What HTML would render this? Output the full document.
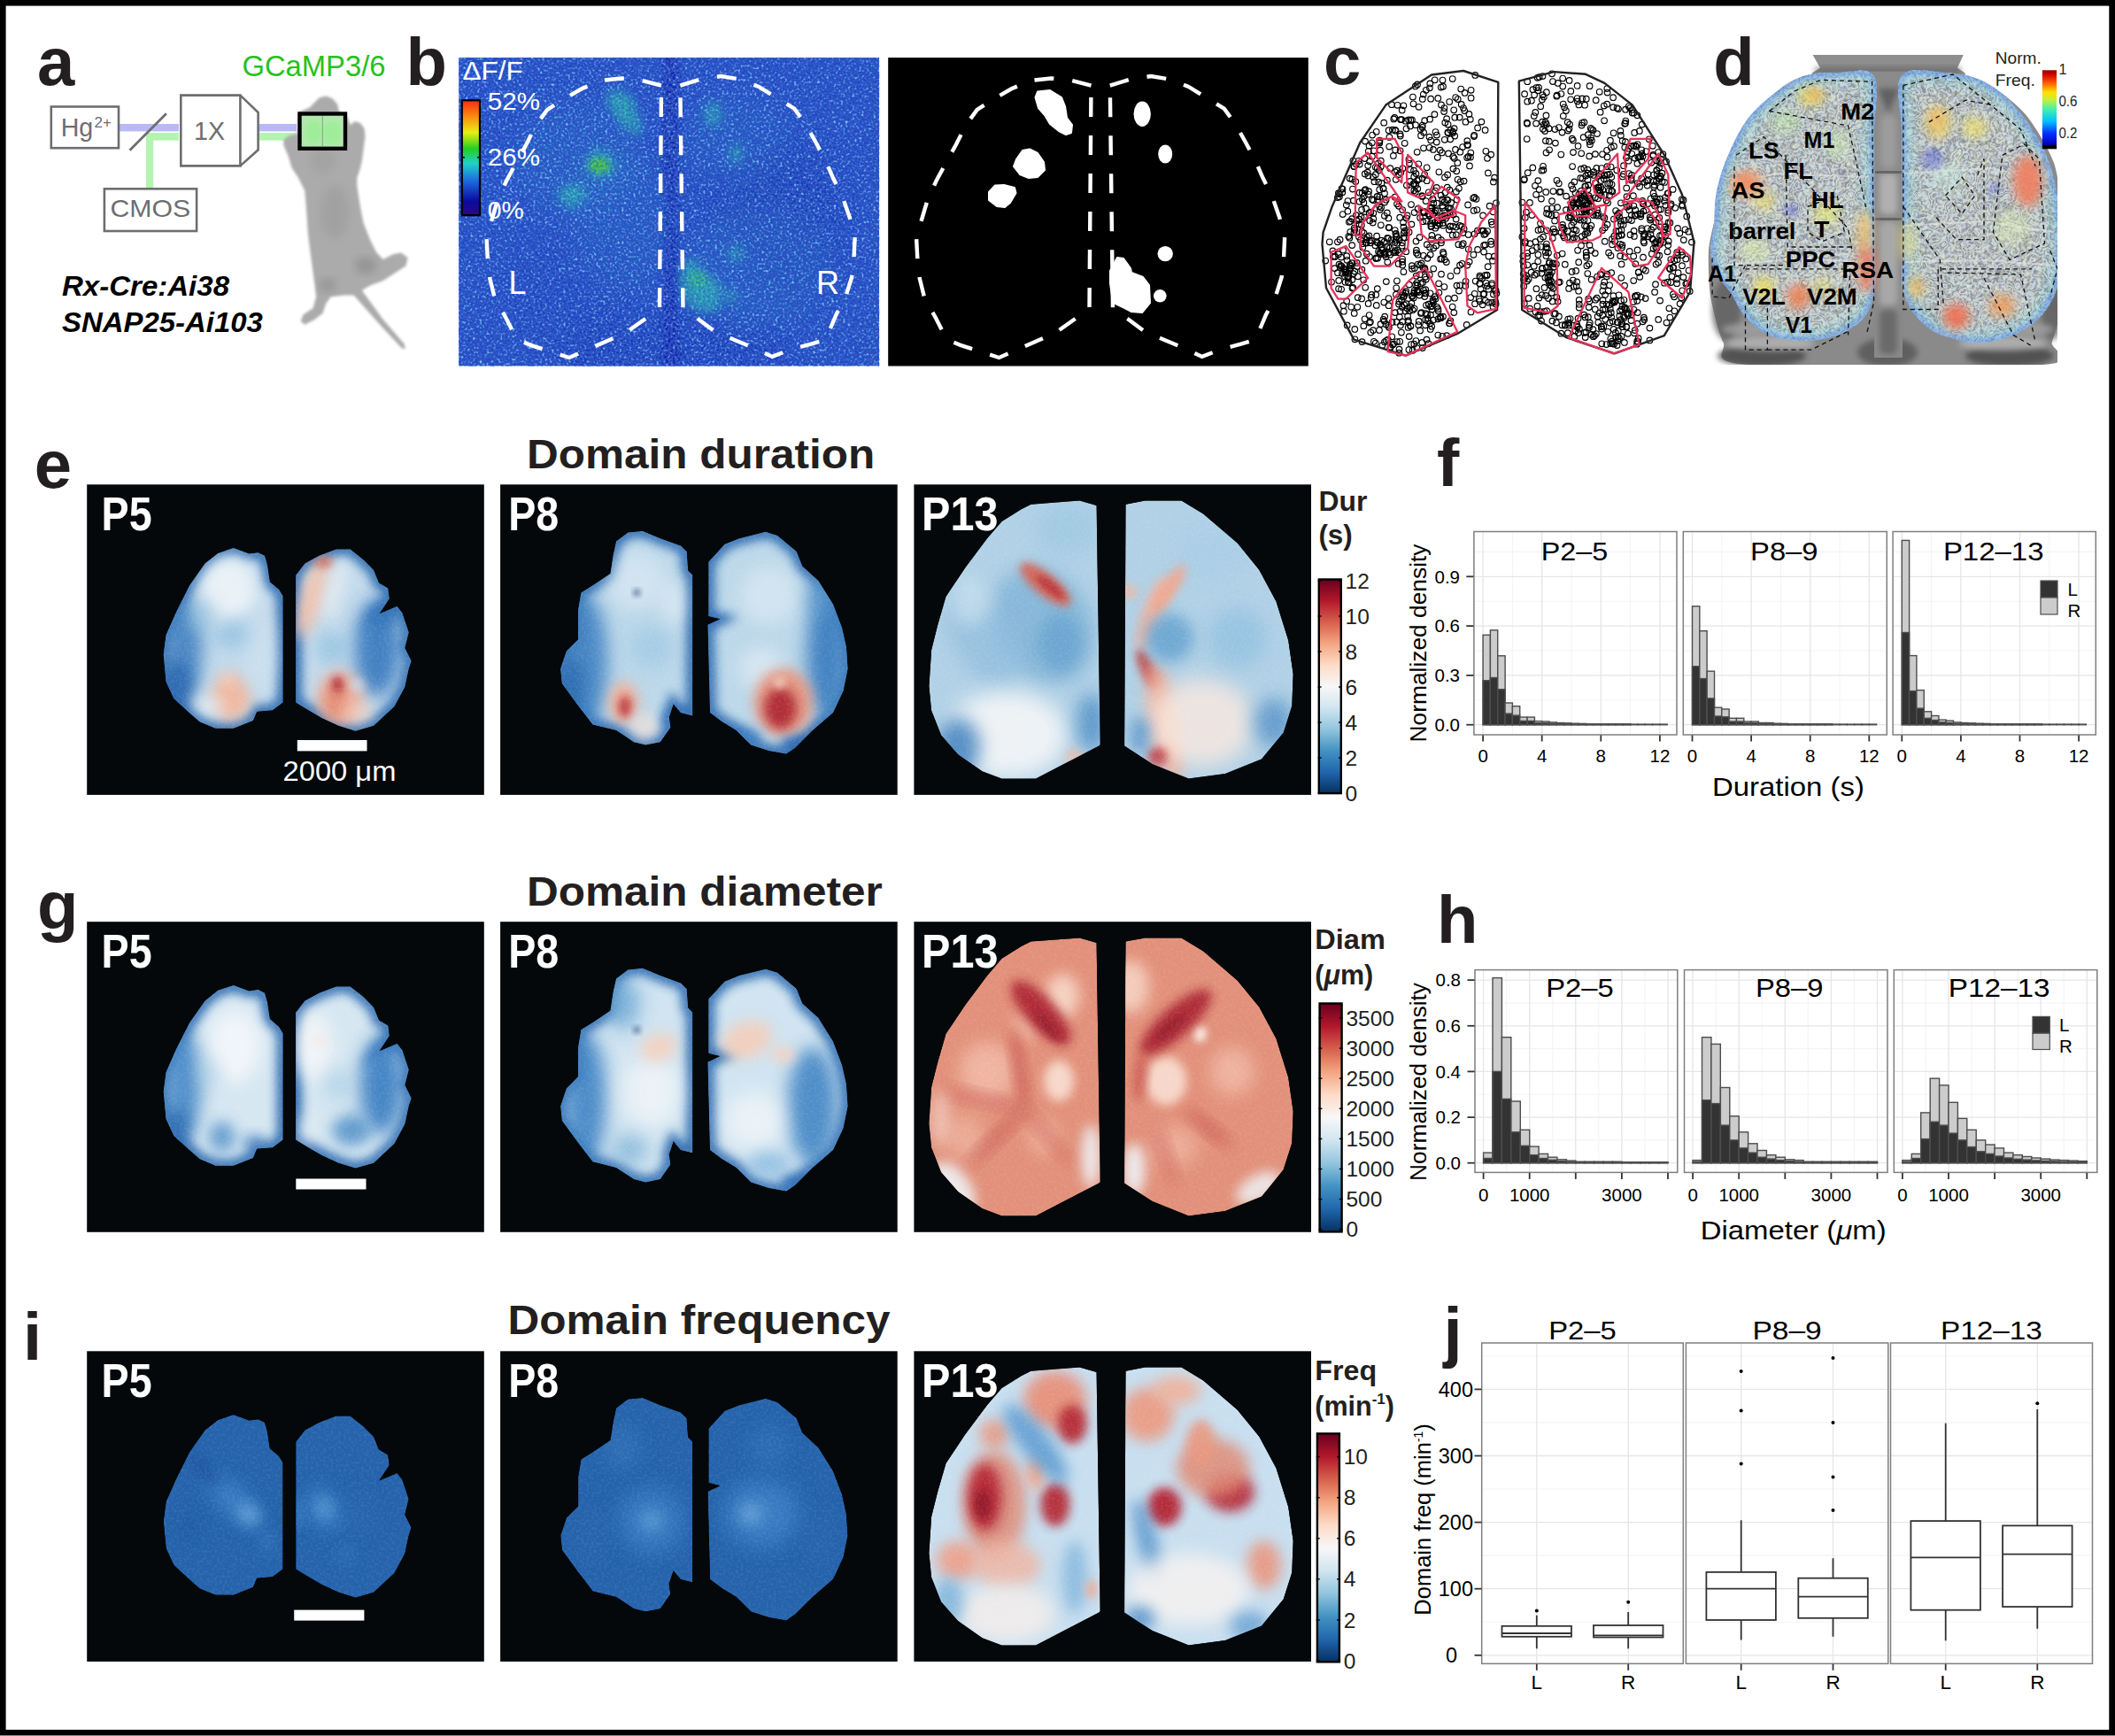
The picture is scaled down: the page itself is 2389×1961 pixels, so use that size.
<!DOCTYPE html>
<html><head><meta charset="utf-8"><style>
html,body{margin:0;padding:0;background:#fff;}
body{width:2389px;height:1961px;overflow:hidden;position:relative;}
svg{position:absolute;left:0;top:0;}
text{font-family:'Liberation Sans',sans-serif;}
</style></head><body>
<svg width="2389" height="1961" viewBox="0 0 2389 1961">
<defs>
<filter id="mblur" x="-20%" y="-20%" width="140%" height="140%"><feGaussianBlur stdDeviation="1.4"/></filter>
<filter id="mblur2" x="-20%" y="-20%" width="140%" height="140%"><feGaussianBlur stdDeviation="5"/></filter>
<clipPath id="cb1"><rect x="518.2" y="65.1" width="475" height="348.4"/></clipPath>
<filter id="nz1" x="0" y="0" width="100%" height="100%" filterUnits="userSpaceOnUse"><feTurbulence type="fractalNoise" baseFrequency="0.38" numOctaves="1" seed="7" result="t"/><feColorMatrix in="t" type="matrix" values="0 0 0 0 0.22  0 0 0 0 0.56  0 0 0 0 0.95  3.0 0 0 0 -1.35"/></filter>
<filter id="nz2" x="0" y="0" width="100%" height="100%" filterUnits="userSpaceOnUse"><feTurbulence type="fractalNoise" baseFrequency="0.38" numOctaves="1" seed="23" result="t"/><feColorMatrix in="t" type="matrix" values="0 0 0 0 0.03  0 0 0 0 0.08  0 0 0 0 0.55  3.4 0 0 0 -1.35"/></filter>
<filter id="gb6" x="-50%" y="-50%" width="200%" height="200%"><feGaussianBlur stdDeviation="6"/></filter>
<filter id="gb12" x="-50%" y="-50%" width="200%" height="200%"><feGaussianBlur stdDeviation="12"/></filter>
<linearGradient id="jet" x1="0" y1="1" x2="0" y2="0"><stop offset="0" stop-color="#2a0a78"/><stop offset="0.12" stop-color="#0a0aa0"/><stop offset="0.3" stop-color="#1e6ae0"/><stop offset="0.45" stop-color="#1ed2c8"/><stop offset="0.58" stop-color="#22d020"/><stop offset="0.72" stop-color="#e8f010"/><stop offset="0.86" stop-color="#fa8a10"/><stop offset="1" stop-color="#fa2a10"/></linearGradient>
<filter id="gb3" x="-50%" y="-50%" width="200%" height="200%"><feGaussianBlur stdDeviation="3"/></filter>
<filter id="gb8" x="-50%" y="-50%" width="200%" height="200%"><feGaussianBlur stdDeviation="8"/></filter>
<filter id="gb14" x="-50%" y="-50%" width="200%" height="200%"><feGaussianBlur stdDeviation="14"/></filter>
<filter id="contour" x="1928" y="60" width="400" height="360" filterUnits="userSpaceOnUse"><feTurbulence type="fractalNoise" baseFrequency="0.06" numOctaves="3" seed="5"/><feComponentTransfer><feFuncR type="table" tableValues="0 1 0 1 0 1 0 1 0 1 0 1 0"/></feComponentTransfer><feColorMatrix type="matrix" values="0 0 0 0 0.75  0 0 0 0 0.95  0 0 0 0 0.95  1.2 0 0 0 -0.2"/></filter>
<filter id="contour2" x="1928" y="60" width="400" height="360" filterUnits="userSpaceOnUse"><feTurbulence type="fractalNoise" baseFrequency="0.045" numOctaves="3" seed="9"/><feComponentTransfer><feFuncR type="table" tableValues="0 1 0 1 0 1 0 1 0 1 0 1 0 1 0"/></feComponentTransfer><feColorMatrix type="matrix" values="0 0 0 0 0.95  0 0 0 0 0.95  0 0 0 0 0.6  1.2 0 0 0 -0.3"/></filter>
<filter id="contour3" x="1928" y="60" width="400" height="360" filterUnits="userSpaceOnUse"><feTurbulence type="fractalNoise" baseFrequency="0.07" numOctaves="2" seed="17"/><feComponentTransfer><feFuncR type="table" tableValues="0 1 0 1 0 1 0 1 0 1 0 1 0 1 0 1 0"/></feComponentTransfer><feColorMatrix type="matrix" values="0 0 0 0 0.6  0 0 0 0 0.62  0 0 0 0 1  1.2 0 0 0 -0.3"/></filter>
<clipPath id="cdl"><path d="M2116.6,86.1 C2124.2,98.0 2116.9,124.1 2117.0,148.3 C2117.2,172.6 2117.2,196.6 2117.2,220.9 C2117.3,245.2 2117.4,264.4 2117.5,283.1 C2117.5,301.8 2119.7,311.1 2117.7,324.6 C2115.6,338.0 2113.9,348.0 2106.3,357.7 C2098.6,367.5 2087.5,373.6 2075.2,378.5 C2062.8,383.3 2051.6,384.7 2037.8,384.7 C2024.0,384.7 2010.4,383.3 1998.4,378.5 C1986.5,373.6 1979.3,366.3 1971.5,357.7 C1963.6,349.2 1960.9,339.7 1954.9,330.8 C1948.9,321.8 1942.4,316.6 1938.3,308.0 C1934.2,299.4 1932.4,293.2 1932.1,283.1 C1931.7,273.0 1935.1,263.2 1936.2,252.0 C1937.3,240.8 1936.1,233.2 1938.3,220.9 C1940.5,208.6 1942.7,198.5 1948.7,183.6 C1954.6,168.6 1961.8,151.8 1971.5,137.9 C1981.2,124.1 1990.6,116.2 2002.6,106.8 C2014.5,97.5 2024.8,90.6 2037.8,86.1 C2050.9,81.6 2061.0,82.0 2075.2,82.0 C2089.3,82.0 2109.1,74.2 2116.6,86.1 Z"/></clipPath>
<clipPath id="cdr"><path d="M2147.7,86.1 C2156.2,74.2 2178.6,80.8 2195.4,82.0 C2212.2,83.1 2226.1,84.9 2241.0,92.3 C2256.0,99.8 2266.0,109.2 2278.4,123.4 C2290.7,137.6 2301.3,153.6 2309.5,171.1 C2317.7,188.7 2320.6,204.5 2324.0,220.9 C2327.3,237.3 2327.8,245.6 2328.1,262.4 C2328.5,279.2 2329.0,298.5 2326.1,314.2 C2323.1,329.9 2319.4,338.6 2311.5,349.5 C2303.7,360.3 2295.2,367.6 2282.5,374.3 C2269.8,381.1 2256.0,385.7 2241.0,386.8 C2226.1,387.9 2212.6,385.0 2199.6,380.6 C2186.5,376.1 2177.4,371.2 2168.5,361.9 C2159.5,352.6 2153.2,342.9 2149.8,328.7 C2146.4,314.5 2149.6,302.5 2149.4,283.1 C2149.2,263.7 2149.0,245.2 2148.8,220.9 C2148.5,196.6 2148.3,172.6 2148.1,148.3 C2148.0,124.1 2139.2,98.0 2147.7,86.1 Z"/></clipPath>
<clipPath id="cdall"><rect x="1928" y="60" width="396" height="352"/></clipPath>
<linearGradient id="jetd" x1="0" y1="1" x2="0" y2="0"><stop offset="0" stop-color="#000"/><stop offset="0.04" stop-color="#000"/><stop offset="0.06" stop-color="#0000c0"/><stop offset="0.2" stop-color="#0030ff"/><stop offset="0.35" stop-color="#00c0ff"/><stop offset="0.5" stop-color="#40f0b0"/><stop offset="0.62" stop-color="#c0f040"/><stop offset="0.72" stop-color="#ffe000"/><stop offset="0.85" stop-color="#ff5000"/><stop offset="0.95" stop-color="#d00000"/><stop offset="1" stop-color="#900000"/></linearGradient>
<filter id="bl2" x="-60%" y="-60%" width="220%" height="220%"><feGaussianBlur stdDeviation="2"/></filter>
<filter id="bl3" x="-60%" y="-60%" width="220%" height="220%"><feGaussianBlur stdDeviation="3"/></filter>
<filter id="bl4" x="-60%" y="-60%" width="220%" height="220%"><feGaussianBlur stdDeviation="4"/></filter>
<filter id="bl5" x="-60%" y="-60%" width="220%" height="220%"><feGaussianBlur stdDeviation="5"/></filter>
<filter id="bl6" x="-60%" y="-60%" width="220%" height="220%"><feGaussianBlur stdDeviation="6"/></filter>
<filter id="bl7" x="-60%" y="-60%" width="220%" height="220%"><feGaussianBlur stdDeviation="7"/></filter>
<filter id="bl8" x="-60%" y="-60%" width="220%" height="220%"><feGaussianBlur stdDeviation="8"/></filter>
<filter id="bl9" x="-60%" y="-60%" width="220%" height="220%"><feGaussianBlur stdDeviation="9"/></filter>
<filter id="bl10" x="-60%" y="-60%" width="220%" height="220%"><feGaussianBlur stdDeviation="10"/></filter>
<filter id="bl11" x="-60%" y="-60%" width="220%" height="220%"><feGaussianBlur stdDeviation="11"/></filter>
<filter id="bl12" x="-60%" y="-60%" width="220%" height="220%"><feGaussianBlur stdDeviation="12"/></filter>
<filter id="bl13" x="-60%" y="-60%" width="220%" height="220%"><feGaussianBlur stdDeviation="13"/></filter>
<filter id="bl14" x="-60%" y="-60%" width="220%" height="220%"><feGaussianBlur stdDeviation="14"/></filter>
<filter id="bl15" x="-60%" y="-60%" width="220%" height="220%"><feGaussianBlur stdDeviation="15"/></filter>
<filter id="bl16" x="-60%" y="-60%" width="220%" height="220%"><feGaussianBlur stdDeviation="16"/></filter>
<filter id="tex" x="0" y="0" width="100%" height="100%"><feTurbulence type="fractalNoise" baseFrequency="0.35" numOctaves="1" seed="11"/><feColorMatrix type="matrix" values="0 0 0 0 1  0 0 0 0 1  0 0 0 0 1  0 0 0 3 -1.2"/></filter>
<clipPath id="e5"><path d="M263.8,619.1 L281.4,625.6 L291.6,624.2 L299.0,627.8 L301.9,638.1 L304.8,657.2 L315.1,666.0 L319.5,673.3 L319.5,793.5 L307.8,802.3 L290.2,803.7 L285.8,814.0 L263.8,822.8 L243.3,822.8 L225.7,815.4 L214.0,805.2 L196.4,789.1 L187.6,770.0 L184.7,739.2 L187.6,717.3 L199.3,690.9 L214.0,661.6 L231.6,636.6 L246.2,624.9 Z M334.2,649.8 L344.4,636.6 L360.5,627.8 L379.6,620.5 L395.7,620.5 L410.4,632.2 L422.1,644.0 L428.0,658.6 L438.2,664.5 L439.7,676.2 L428.0,693.8 L448.5,685.0 L454.3,692.3 L461.7,714.3 L457.3,731.9 L464.6,746.6 L461.7,755.4 L457.3,775.9 L445.5,797.9 L422.1,819.8 L401.6,825.7 L382.5,819.8 L363.5,811.1 L345.9,800.8 L334.2,793.5 Z"/></clipPath>
<clipPath id="e8"><path d="M709.4,601.6 L725.9,599.9 L745.8,608.2 L768.9,616.5 L775.6,623.1 L777.2,644.6 L782.2,649.6 L782.2,808.4 L768.9,805.1 L760.7,795.2 L755.7,810.1 L757.3,821.7 L745.8,838.2 L729.2,841.5 L716.0,838.2 L706.0,831.6 L696.1,825.0 L669.6,818.4 L653.1,796.9 L634.9,772.0 L633.2,755.5 L639.9,735.6 L653.1,722.4 L653.1,689.3 L656.4,669.4 L669.6,661.2 L689.5,647.9 L692.8,626.4 L696.1,611.5 Z M800.4,634.7 L818.6,614.8 L835.1,608.2 L864.9,600.8 L878.1,604.9 L899.7,623.1 L906.3,639.6 L924.5,656.2 L941.0,682.7 L951.0,709.1 L955.9,730.7 L957.6,755.5 L952.6,780.3 L941.0,805.1 L917.9,825.0 L898.0,844.8 L888.1,851.5 L868.2,848.1 L848.4,841.5 L831.8,825.0 L815.3,815.1 L802.0,805.1 L799.5,705.8 L813.6,699.2 L800.4,695.9 Z"/></clipPath>
<clipPath id="e13"><path d="M1164.5,569.7 L1219.4,565.6 L1238.6,571.1 L1242.7,841.1 L1241.3,842.5 L1170.0,879.5 L1131.6,879.5 L1109.7,871.3 L1082.3,852.1 L1063.1,830.2 L1052.1,802.7 L1049.4,775.3 L1052.1,734.2 L1059.0,706.8 L1068.5,673.9 L1090.5,641.0 L1115.2,608.1 L1131.6,588.9 L1153.6,575.2 Z M1271.5,569.7 L1293.4,565.6 L1334.5,565.6 L1359.2,580.6 L1397.6,613.6 L1422.3,643.7 L1441.5,679.4 L1455.2,723.2 L1460.7,761.6 L1459.3,797.3 L1449.7,827.4 L1425.0,857.6 L1383.9,874.0 L1342.7,879.5 L1301.6,863.1 L1270.1,842.5 Z"/></clipPath>
<clipPath id="g5"><path d="M263.8,1113.0 L281.4,1119.5 L291.6,1118.1 L299.0,1121.7 L301.9,1132.0 L304.8,1151.1 L315.1,1159.9 L319.5,1167.2 L319.5,1287.4 L307.8,1296.2 L290.2,1297.6 L285.8,1307.9 L263.8,1316.7 L243.3,1316.7 L225.7,1309.3 L214.0,1299.1 L196.4,1283.0 L187.6,1263.9 L184.7,1233.1 L187.6,1211.2 L199.3,1184.8 L214.0,1155.5 L231.6,1130.5 L246.2,1118.8 Z M334.2,1143.7 L344.4,1130.5 L360.5,1121.7 L379.6,1114.4 L395.7,1114.4 L410.4,1126.1 L422.1,1137.9 L428.0,1152.5 L438.2,1158.4 L439.7,1170.1 L428.0,1187.7 L448.5,1178.9 L454.3,1186.2 L461.7,1208.2 L457.3,1225.8 L464.6,1240.5 L461.7,1249.3 L457.3,1269.8 L445.5,1291.8 L422.1,1313.7 L401.6,1319.6 L382.5,1313.7 L363.5,1305.0 L345.9,1294.7 L334.2,1287.4 Z"/></clipPath>
<clipPath id="g8"><path d="M709.4,1095.5 L725.9,1093.8 L745.8,1102.1 L768.9,1110.4 L775.6,1117.0 L777.2,1138.5 L782.2,1143.5 L782.2,1302.3 L768.9,1299.0 L760.7,1289.1 L755.7,1304.0 L757.3,1315.6 L745.8,1332.1 L729.2,1335.4 L716.0,1332.1 L706.0,1325.5 L696.1,1318.9 L669.6,1312.3 L653.1,1290.8 L634.9,1265.9 L633.2,1249.4 L639.9,1229.5 L653.1,1216.3 L653.1,1183.2 L656.4,1163.3 L669.6,1155.1 L689.5,1141.8 L692.8,1120.3 L696.1,1105.4 Z M800.4,1128.6 L818.6,1108.7 L835.1,1102.1 L864.9,1094.7 L878.1,1098.8 L899.7,1117.0 L906.3,1133.5 L924.5,1150.1 L941.0,1176.6 L951.0,1203.0 L955.9,1224.6 L957.6,1249.4 L952.6,1274.2 L941.0,1299.0 L917.9,1318.9 L898.0,1338.7 L888.1,1345.4 L868.2,1342.0 L848.4,1335.4 L831.8,1318.9 L815.3,1309.0 L802.0,1299.0 L799.5,1199.7 L813.6,1193.1 L800.4,1189.8 Z"/></clipPath>
<clipPath id="g13"><path d="M1164.5,1063.6 L1219.4,1059.5 L1238.6,1065.0 L1242.7,1335.0 L1241.3,1336.4 L1170.0,1373.4 L1131.6,1373.4 L1109.7,1365.2 L1082.3,1346.0 L1063.1,1324.1 L1052.1,1296.6 L1049.4,1269.2 L1052.1,1228.1 L1059.0,1200.7 L1068.5,1167.8 L1090.5,1134.9 L1115.2,1102.0 L1131.6,1082.8 L1153.6,1069.1 Z M1271.5,1063.6 L1293.4,1059.5 L1334.5,1059.5 L1359.2,1074.5 L1397.6,1107.5 L1422.3,1137.6 L1441.5,1173.3 L1455.2,1217.1 L1460.7,1255.5 L1459.3,1291.2 L1449.7,1321.3 L1425.0,1351.5 L1383.9,1367.9 L1342.7,1373.4 L1301.6,1357.0 L1270.1,1336.4 Z"/></clipPath>
<clipPath id="i5"><path d="M263.8,1598.1 L281.4,1604.6 L291.6,1603.2 L299.0,1606.8 L301.9,1617.1 L304.8,1636.2 L315.1,1645.0 L319.5,1652.3 L319.5,1772.5 L307.8,1781.3 L290.2,1782.7 L285.8,1793.0 L263.8,1801.8 L243.3,1801.8 L225.7,1794.4 L214.0,1784.2 L196.4,1768.1 L187.6,1749.0 L184.7,1718.2 L187.6,1696.3 L199.3,1669.9 L214.0,1640.6 L231.6,1615.6 L246.2,1603.9 Z M334.2,1628.8 L344.4,1615.6 L360.5,1606.8 L379.6,1599.5 L395.7,1599.5 L410.4,1611.2 L422.1,1623.0 L428.0,1637.6 L438.2,1643.5 L439.7,1655.2 L428.0,1672.8 L448.5,1664.0 L454.3,1671.3 L461.7,1693.3 L457.3,1710.9 L464.6,1725.6 L461.7,1734.4 L457.3,1754.9 L445.5,1776.9 L422.1,1798.8 L401.6,1804.7 L382.5,1798.8 L363.5,1790.1 L345.9,1779.8 L334.2,1772.5 Z"/></clipPath>
<clipPath id="i8"><path d="M709.4,1580.6 L725.9,1578.9 L745.8,1587.2 L768.9,1595.5 L775.6,1602.1 L777.2,1623.6 L782.2,1628.6 L782.2,1787.4 L768.9,1784.1 L760.7,1774.2 L755.7,1789.1 L757.3,1800.7 L745.8,1817.2 L729.2,1820.5 L716.0,1817.2 L706.0,1810.6 L696.1,1804.0 L669.6,1797.4 L653.1,1775.9 L634.9,1751.0 L633.2,1734.5 L639.9,1714.6 L653.1,1701.4 L653.1,1668.3 L656.4,1648.4 L669.6,1640.2 L689.5,1626.9 L692.8,1605.4 L696.1,1590.5 Z M800.4,1613.7 L818.6,1593.8 L835.1,1587.2 L864.9,1579.8 L878.1,1583.9 L899.7,1602.1 L906.3,1618.6 L924.5,1635.2 L941.0,1661.7 L951.0,1688.1 L955.9,1709.7 L957.6,1734.5 L952.6,1759.3 L941.0,1784.1 L917.9,1804.0 L898.0,1823.8 L888.1,1830.5 L868.2,1827.1 L848.4,1820.5 L831.8,1804.0 L815.3,1794.1 L802.0,1784.1 L799.5,1684.8 L813.6,1678.2 L800.4,1674.9 Z"/></clipPath>
<clipPath id="i13"><path d="M1164.5,1548.7 L1219.4,1544.6 L1238.6,1550.1 L1242.7,1820.1 L1241.3,1821.5 L1170.0,1858.5 L1131.6,1858.5 L1109.7,1850.3 L1082.3,1831.1 L1063.1,1809.2 L1052.1,1781.7 L1049.4,1754.3 L1052.1,1713.2 L1059.0,1685.8 L1068.5,1652.9 L1090.5,1620.0 L1115.2,1587.1 L1131.6,1567.9 L1153.6,1554.2 Z M1271.5,1548.7 L1293.4,1544.6 L1334.5,1544.6 L1359.2,1559.6 L1397.6,1592.6 L1422.3,1622.7 L1441.5,1658.4 L1455.2,1702.2 L1460.7,1740.6 L1459.3,1776.3 L1449.7,1806.4 L1425.0,1836.6 L1383.9,1853.0 L1342.7,1858.5 L1301.6,1842.1 L1270.1,1821.5 Z"/></clipPath>
<linearGradient id="cbe" x1="0" y1="1" x2="0" y2="0"><stop offset="0.000" stop-color="#053061"/><stop offset="0.100" stop-color="#2166ac"/><stop offset="0.200" stop-color="#4393c3"/><stop offset="0.300" stop-color="#92c5de"/><stop offset="0.400" stop-color="#d1e5f0"/><stop offset="0.500" stop-color="#f7f7f7"/><stop offset="0.600" stop-color="#fddbc7"/><stop offset="0.700" stop-color="#f4a582"/><stop offset="0.800" stop-color="#d6604d"/><stop offset="0.900" stop-color="#b2182b"/><stop offset="1.000" stop-color="#67001f"/></linearGradient>
<linearGradient id="cbg" x1="0" y1="1" x2="0" y2="0"><stop offset="0.000" stop-color="#053061"/><stop offset="0.100" stop-color="#2166ac"/><stop offset="0.200" stop-color="#4393c3"/><stop offset="0.300" stop-color="#92c5de"/><stop offset="0.400" stop-color="#d1e5f0"/><stop offset="0.500" stop-color="#f7f7f7"/><stop offset="0.600" stop-color="#fddbc7"/><stop offset="0.700" stop-color="#f4a582"/><stop offset="0.800" stop-color="#d6604d"/><stop offset="0.900" stop-color="#b2182b"/><stop offset="1.000" stop-color="#67001f"/></linearGradient>
<linearGradient id="cbi" x1="0" y1="1" x2="0" y2="0"><stop offset="0.000" stop-color="#053061"/><stop offset="0.100" stop-color="#2166ac"/><stop offset="0.200" stop-color="#4393c3"/><stop offset="0.300" stop-color="#92c5de"/><stop offset="0.400" stop-color="#d1e5f0"/><stop offset="0.500" stop-color="#f7f7f7"/><stop offset="0.600" stop-color="#fddbc7"/><stop offset="0.700" stop-color="#f4a582"/><stop offset="0.800" stop-color="#d6604d"/><stop offset="0.900" stop-color="#b2182b"/><stop offset="1.000" stop-color="#67001f"/></linearGradient>
</defs>
<rect x="0" y="0" width="2389" height="6.6" fill="#000"/>
<rect x="0" y="0" width="6.6" height="1961" fill="#000"/>
<rect x="2382.3" y="0" width="6.7" height="1961" fill="#000"/>
<rect x="0" y="1953.9" width="2389" height="6.1" fill="#000"/>
<rect x="0" y="1960" width="2389" height="1" fill="#8a8a8a"/>
<text x="42.0" y="95.9" font-size="76" font-weight="bold" font-style="normal" fill="#231f20" text-anchor="start" >a</text>
<text x="458.4" y="95.9" font-size="76" font-weight="bold" font-style="normal" fill="#231f20" text-anchor="start" >b</text>
<text x="1495.0" y="95.0" font-size="76" font-weight="bold" font-style="normal" fill="#231f20" text-anchor="start" >c</text>
<text x="1935.2" y="95.5" font-size="76" font-weight="bold" font-style="normal" fill="#231f20" text-anchor="start" >d</text>
<text x="38.8" y="551.0" font-size="76" font-weight="bold" font-style="normal" fill="#231f20" text-anchor="start" >e</text>
<text x="1623.0" y="549.0" font-size="76" font-weight="bold" font-style="normal" fill="#231f20" text-anchor="start" >f</text>
<text x="42.0" y="1049.0" font-size="76" font-weight="bold" font-style="normal" fill="#231f20" text-anchor="start" >g</text>
<text x="1622.9" y="1065.0" font-size="76" font-weight="bold" font-style="normal" fill="#231f20" text-anchor="start" >h</text>
<text x="26.0" y="1535.6" font-size="76" font-weight="bold" font-style="normal" fill="#231f20" text-anchor="start" >i</text>
<text x="1630.6" y="1530.0" font-size="76" font-weight="bold" font-style="normal" fill="#231f20" text-anchor="start" >j</text>
<rect x="135" y="140" width="67" height="8.4" fill="#b9b9f7"/>
<rect x="293" y="140" width="42" height="8.4" fill="#b9b9f7"/>
<rect x="166" y="150" width="36" height="8.6" fill="#b4f4b0"/>
<rect x="165" y="151" width="8.2" height="61" fill="#b4f4b0"/>
<rect x="293" y="150" width="42" height="8.6" fill="#b4f4b0"/>
<path d="M355.3,115.8 L360.9,110.3 L368.2,108.4 L375.6,111.2 L381.2,117.7 L383.0,126.0 L392.2,132.4 L395.9,141.6 L400.5,137.0 L407.0,138.9 L411.6,145.3 L412.5,154.6 L410.7,167.5 L408.8,182.2 L406.0,193.3 L403.3,200.7 L403.3,209.9 L407.0,233.9 L410.7,252.3 L418.0,270.7 L425.4,285.5 L432.8,292.9 L443.9,287.3 L453.1,285.5 L460.5,291.0 L458.6,300.3 L447.5,307.6 L432.8,316.9 L418.0,322.4 L408.8,327.9 L432.8,361.1 L456.8,388.8 L457.7,394.3 L454.0,393.4 L429.1,366.7 L399.6,333.5 L388.5,333.5 L373.8,335.3 L368.2,342.7 L364.6,353.7 L355.3,361.1 L344.3,366.7 L339.7,363.0 L342.4,355.6 L353.5,348.2 L357.2,335.3 L355.3,320.5 L351.6,292.9 L348.0,265.2 L346.1,237.5 L344.3,215.4 L336.9,200.7 L329.5,189.6 L325.8,176.7 L320.3,163.8 L320.3,158.2 L325.8,153.6 L336.0,150.9 L336.9,126.9 L349.8,121.4 Z" fill="#ababab" filter="url(#mblur)"/>
<ellipse cx="413" cy="300" rx="12" ry="10" fill="#6e6e6e" opacity="0.35" filter="url(#mblur2)"/>
<ellipse cx="370" cy="322" rx="10" ry="8" fill="#6e6e6e" opacity="0.3" filter="url(#mblur2)"/>
<ellipse cx="378" cy="240" rx="16" ry="30" fill="#6e6e6e" opacity="0.15" filter="url(#mblur2)"/>
<ellipse cx="365" cy="180" rx="14" ry="16" fill="#6e6e6e" opacity="0.12" filter="url(#mblur2)"/>
<rect x="57.8" y="120.5" width="76.2" height="46.7" fill="none" stroke="#6d6e71" stroke-width="2.6"/>
<rect x="117.9" y="213.3" width="104.2" height="47.7" fill="none" stroke="#6d6e71" stroke-width="2.6"/>
<path d="M204.3,107.6 L271.4,107.6 L271.4,187.4 L204.3,187.4 Z M271.4,107.6 L291.6,127 L291.6,169.3 L271.4,187.4" fill="#fff" stroke="#6d6e71" stroke-width="2.6" stroke-linejoin="miter"/>
<line x1="146.5" y1="169.8" x2="187.9" y2="128.3" stroke="#6d6e71" stroke-width="2.8"/>
<text x="68.7" y="154.2" font-size="28.6" font-weight="normal" font-style="normal" fill="#6d6e71" text-anchor="start" >Hg</text>
<text x="106.5" y="143.9" font-size="17" font-weight="normal" font-style="normal" fill="#6d6e71" text-anchor="start" >2+</text>
<text x="219.0" y="158.1" font-size="28.6" font-weight="normal" font-style="normal" fill="#6d6e71" text-anchor="start" textLength="35.0" lengthAdjust="spacingAndGlyphs" >1X</text>
<text x="124.4" y="245.0" font-size="28" font-weight="normal" font-style="normal" fill="#6d6e71" text-anchor="start" textLength="90.7" lengthAdjust="spacingAndGlyphs" >CMOS</text>
<rect x="338.5" y="128.5" width="51.5" height="39.3" fill="#b2e8ae"/>
<ellipse cx="354" cy="149" rx="10" ry="13" fill="#98f092" opacity="0.7" filter="url(#mblur)"/><ellipse cx="375" cy="150" rx="10" ry="13" fill="#98f092" opacity="0.7" filter="url(#mblur)"/>
<line x1="364.3" y1="131" x2="364.3" y2="165" stroke="#6a9a66" stroke-width="0.8"/>
<rect x="338.5" y="128.5" width="51.5" height="39.3" fill="none" stroke="#000" stroke-width="4.4"/>
<text x="273.5" y="85.5" font-size="34" font-weight="normal" font-style="normal" fill="#27c21c" text-anchor="start" textLength="162.0" lengthAdjust="spacingAndGlyphs" >GCaMP3/6</text>
<text x="70.0" y="334.4" font-size="30.5" font-weight="bold" font-style="italic" fill="#000" text-anchor="start" textLength="189.0" lengthAdjust="spacingAndGlyphs" >Rx-Cre:Ai38</text>
<text x="70.0" y="374.5" font-size="30.5" font-weight="bold" font-style="italic" fill="#000" text-anchor="start" textLength="226.8" lengthAdjust="spacingAndGlyphs" >SNAP25-Ai103</text>
<g clip-path="url(#cb1)">
<rect x="518.2" y="65.1" width="475" height="348.4" fill="#1c4cc4"/>
<ellipse cx="760" cy="400" rx="140" ry="40" fill="#1030b0" opacity="0.5" filter="url(#gb12)"/>
<ellipse cx="900" cy="250" rx="60" ry="90" fill="#1030b0" opacity="0.35" filter="url(#gb12)"/>
<ellipse cx="640" cy="330" rx="70" ry="60" fill="#1438b8" opacity="0.3" filter="url(#gb12)"/>
<rect x="749" y="65" width="18" height="348" fill="#0c20a8" opacity="0.85" filter="url(#gb3)"/>
<ellipse cx="860" cy="230" rx="70" ry="60" fill="#1838b0" opacity="0.35" filter="url(#gb12)"/>
<ellipse cx="650" cy="180" rx="70" ry="60" fill="#2aa8c8" opacity="0.25" filter="url(#gb12)"/>
<ellipse cx="860" cy="300" rx="80" ry="70" fill="#2aa8c8" opacity="0.22" filter="url(#gb12)"/>
<ellipse cx="700" cy="250" rx="60" ry="80" fill="#2aa8c8" opacity="0.2" filter="url(#gb12)"/>
<ellipse cx="830" cy="160" rx="60" ry="50" fill="#2aa8c8" opacity="0.18" filter="url(#gb12)"/>
<rect x="518.2" y="65.1" width="475" height="348.4" filter="url(#nz1)"/>
<rect x="518.2" y="65.1" width="475" height="348.4" filter="url(#nz2)"/>
<path d="M687.0,103.5 L701.0,102.0 L714.0,110.0 L718.0,120.0 L720.0,133.0 L726.0,141.0 L725.0,150.0 L719.0,152.0 L711.0,148.0 L701.0,140.0 L695.0,130.0 L688.0,122.0 L684.5,110.0 Z" fill="#30c8b0" opacity="0.7" filter="url(#gb6)"/>
<path d="M663.0,180.0 L670.0,170.0 L678.0,168.5 L687.0,173.0 L694.0,183.0 L695.0,192.0 L687.0,200.0 L677.0,201.0 L667.0,197.0 L660.0,188.0 Z" fill="#30c8b0" opacity="0.7" filter="url(#gb6)"/>
<path d="M632.0,217.0 L639.0,209.5 L649.0,209.0 L661.0,212.0 L662.5,218.0 L656.0,229.0 L650.0,234.0 L641.0,233.0 L632.0,226.0 Z" fill="#30c8b0" opacity="0.7" filter="url(#gb6)"/>
<path d="M769.0,306.0 L777.0,291.0 L784.0,292.0 L792.0,303.0 L793.0,308.0 L806.0,313.0 L813.0,322.0 L814.0,342.0 L805.0,353.0 L793.0,352.0 L775.0,343.0 L771.0,334.0 L769.0,320.0 Z" fill="#30c8b0" opacity="0.7" filter="url(#gb6)"/>
<ellipse cx="805.2" cy="128.7" rx="9.7" ry="14.2" fill="#30c8b0" opacity="0.6" filter="url(#gb6)"/>
<ellipse cx="831.2" cy="174" rx="8" ry="10.5" fill="#30c8b0" opacity="0.6" filter="url(#gb6)"/>
<ellipse cx="831.2" cy="286.6" rx="8.7" ry="8.7" fill="#30c8b0" opacity="0.6" filter="url(#gb6)"/>
<ellipse cx="825.3" cy="334.3" rx="7.3" ry="7.3" fill="#30c8b0" opacity="0.6" filter="url(#gb6)"/>
<ellipse cx="677" cy="187" rx="11" ry="8" fill="#50d030" opacity="0.85" filter="url(#gb3)"/>
<ellipse cx="788" cy="315" rx="10" ry="9" fill="#40c870" opacity="0.5" filter="url(#gb3)"/>
<rect x="518.2" y="65.1" width="475" height="348.4" filter="url(#nz2)" opacity="0.5"/>
</g>
<path d="M747.0,96.7 L724.6,90.8 L702.0,88.5 L679.7,90.8 L657.0,100.3 L638.3,111.0 L618.2,124.0 L605.2,141.7 L594.6,163.0 L583.0,184.0 L572.1,204.3 L562.6,224.4 L555.6,248.0 L549.6,269.3 L550.8,291.8 L553.2,314.2 L559.1,337.9 L570.9,358.0 L581.6,379.2 L585.1,384.0 L599.3,389.9 L621.7,397.0 L643.0,404.0 L664.3,394.6 L685.6,385.2 L706.9,375.7 L727.0,361.5 L745.0,348.0 Z" fill="none" stroke="#fff" stroke-width="4.4" stroke-dasharray="22 21"/>
<path d="M768.3,96.7 L790.8,89.6 L814.4,86.1 L835.7,89.6 L857.0,98.0 L875.9,109.7 L897.2,122.7 L910.2,140.5 L922.0,161.7 L932.6,181.8 L940.9,200.8 L951.5,222.0 L959.8,245.7 L965.7,267.0 L964.5,291.8 L962.2,313.0 L955.1,335.5 L944.4,355.6 L935.0,378.0 L931.4,384.0 L916.0,388.7 L893.6,394.6 L872.3,402.9 L849.9,392.3 L829.8,384.0 L807.3,374.5 L788.4,360.3 L771.5,348.0 Z" fill="none" stroke="#fff" stroke-width="4.4" stroke-dasharray="22 21"/>
<rect x="521.8" y="113.3" width="20.2" height="129.9" fill="url(#jet)" stroke="#000" stroke-width="2.2"/>
<line x1="521" y1="177.8" x2="525" y2="177.8" stroke="#000" stroke-width="1.5"/><line x1="539" y1="177.8" x2="543" y2="177.8" stroke="#000" stroke-width="1.5"/>
<text x="522.4" y="89.9" font-size="30" font-weight="normal" font-style="normal" fill="#fff" text-anchor="start" textLength="68.4" lengthAdjust="spacingAndGlyphs" >&#916;F/F</text>
<text x="550.8" y="123.8" font-size="27" font-weight="normal" font-style="normal" fill="#fff" text-anchor="start" textLength="59.2" lengthAdjust="spacingAndGlyphs" >52%</text>
<text x="550.8" y="186.7" font-size="27" font-weight="normal" font-style="normal" fill="#fff" text-anchor="start" textLength="59.2" lengthAdjust="spacingAndGlyphs" >26%</text>
<text x="550.8" y="247.2" font-size="27" font-weight="normal" font-style="normal" fill="#fff" text-anchor="start" textLength="41.0" lengthAdjust="spacingAndGlyphs" >0%</text>
<text x="574.5" y="332.0" font-size="36" font-weight="normal" font-style="normal" fill="#fff" text-anchor="start" >L</text>
<text x="922.0" y="332.0" font-size="36" font-weight="normal" font-style="normal" fill="#fff" text-anchor="start" >R</text>
<rect x="1003.2" y="65.1" width="474.6" height="348.4" fill="#000"/>
<path d="M1232.5,96.7 L1210.1,90.8 L1187.5,88.5 L1165.2,90.8 L1142.5,100.3 L1123.8,111.0 L1103.7,124.0 L1090.7,141.7 L1080.1,163.0 L1068.5,184.0 L1057.6,204.3 L1048.1,224.4 L1041.1,248.0 L1035.1,269.3 L1036.3,291.8 L1038.7,314.2 L1044.6,337.9 L1056.4,358.0 L1067.1,379.2 L1070.6,384.0 L1084.8,389.9 L1107.2,397.0 L1128.5,404.0 L1149.8,394.6 L1171.1,385.2 L1192.4,375.7 L1212.5,361.5 L1230.5,348.0 Z" fill="none" stroke="#fff" stroke-width="4.4" stroke-dasharray="22 21"/>
<path d="M1253.8,96.7 L1276.3,89.6 L1299.9,86.1 L1321.2,89.6 L1342.5,98.0 L1361.4,109.7 L1382.7,122.7 L1395.7,140.5 L1407.5,161.7 L1418.1,181.8 L1426.4,200.8 L1437.0,222.0 L1445.3,245.7 L1451.2,267.0 L1450.0,291.8 L1447.7,313.0 L1440.6,335.5 L1429.9,355.6 L1420.5,378.0 L1416.9,384.0 L1401.5,388.7 L1379.1,394.6 L1357.8,402.9 L1335.4,392.3 L1315.3,384.0 L1292.8,374.5 L1273.9,360.3 L1257.0,348.0 Z" fill="none" stroke="#fff" stroke-width="4.4" stroke-dasharray="22 21"/>
<path d="M1172.0,103.5 L1186.0,102.0 L1199.0,110.0 L1203.0,120.0 L1205.0,133.0 L1211.0,141.0 L1210.0,150.0 L1204.0,152.0 L1196.0,148.0 L1186.0,140.0 L1180.0,130.0 L1173.0,122.0 L1169.5,110.0 Z" fill="#fff" stroke="#fff" stroke-width="2" stroke-linejoin="round"/>
<path d="M1148.0,180.0 L1155.0,170.0 L1163.0,168.5 L1172.0,173.0 L1179.0,183.0 L1180.0,192.0 L1172.0,200.0 L1162.0,201.0 L1152.0,197.0 L1145.0,188.0 Z" fill="#fff" stroke="#fff" stroke-width="2" stroke-linejoin="round"/>
<path d="M1117.0,217.0 L1124.0,209.5 L1134.0,209.0 L1146.0,212.0 L1147.5,218.0 L1141.0,229.0 L1135.0,234.0 L1126.0,233.0 L1117.0,226.0 Z" fill="#fff" stroke="#fff" stroke-width="2" stroke-linejoin="round"/>
<path d="M1254.0,306.0 L1262.0,291.0 L1269.0,292.0 L1277.0,303.0 L1278.0,308.0 L1291.0,313.0 L1298.0,322.0 L1299.0,342.0 L1290.0,353.0 L1278.0,352.0 L1260.0,343.0 L1256.0,334.0 L1254.0,320.0 Z" fill="#fff" stroke="#fff" stroke-width="2" stroke-linejoin="round"/>
<ellipse cx="1290.2" cy="128.7" rx="9.7" ry="14.2" fill="#fff"/>
<ellipse cx="1316.2" cy="174" rx="8" ry="10.5" fill="#fff"/>
<ellipse cx="1316.2" cy="286.6" rx="8.7" ry="8.7" fill="#fff"/>
<ellipse cx="1310.3" cy="334.3" rx="7.3" ry="7.3" fill="#fff"/>
<g fill="none" stroke="#000" stroke-width="1.15">
<circle cx="1613.7" cy="217.3" r="3.3"/><circle cx="1643.3" cy="132.7" r="3.3"/><circle cx="1527.3" cy="297.1" r="3.3"/><circle cx="1618.0" cy="248.5" r="3.3"/><circle cx="1538.7" cy="217.9" r="3.3"/><circle cx="1569.2" cy="257.3" r="3.3"/><circle cx="1616.0" cy="355.7" r="3.3"/><circle cx="1588.5" cy="246.3" r="3.3"/><circle cx="1583.8" cy="346.9" r="3.3"/><circle cx="1527.3" cy="202.5" r="3.3"/><circle cx="1604.0" cy="299.4" r="3.3"/><circle cx="1635.3" cy="149.5" r="3.3"/><circle cx="1600.5" cy="319.3" r="3.3"/><circle cx="1609.2" cy="197.0" r="3.3"/><circle cx="1522.4" cy="238.7" r="3.3"/><circle cx="1611.7" cy="204.2" r="3.3"/><circle cx="1586.7" cy="161.8" r="3.3"/><circle cx="1628.0" cy="118.4" r="3.3"/><circle cx="1530.3" cy="371.9" r="3.3"/><circle cx="1600.6" cy="329.3" r="3.3"/><circle cx="1540.6" cy="263.3" r="3.3"/><circle cx="1646.7" cy="112.1" r="3.3"/><circle cx="1638.5" cy="147.0" r="3.3"/><circle cx="1568.2" cy="367.7" r="3.3"/><circle cx="1559.5" cy="287.0" r="3.3"/><circle cx="1631.8" cy="157.8" r="3.3"/><circle cx="1587.6" cy="331.2" r="3.3"/><circle cx="1578.0" cy="230.3" r="3.3"/><circle cx="1523.4" cy="312.2" r="3.3"/><circle cx="1549.8" cy="161.3" r="3.3"/><circle cx="1660.8" cy="134.8" r="3.3"/><circle cx="1577.9" cy="386.0" r="3.3"/><circle cx="1603.8" cy="310.2" r="3.3"/><circle cx="1543.5" cy="270.8" r="3.3"/><circle cx="1577.2" cy="267.4" r="3.3"/><circle cx="1677.6" cy="146.9" r="3.3"/><circle cx="1632.4" cy="243.7" r="3.3"/><circle cx="1526.2" cy="346.8" r="3.3"/><circle cx="1687.8" cy="289.7" r="3.3"/><circle cx="1547.0" cy="364.6" r="3.3"/><circle cx="1505.4" cy="283.4" r="3.3"/><circle cx="1591.6" cy="262.2" r="3.3"/><circle cx="1545.6" cy="219.5" r="3.3"/><circle cx="1613.8" cy="343.7" r="3.3"/><circle cx="1625.4" cy="194.3" r="3.3"/><circle cx="1685.2" cy="320.0" r="3.3"/><circle cx="1647.9" cy="212.8" r="3.3"/><circle cx="1665.2" cy="152.8" r="3.3"/><circle cx="1563.9" cy="243.8" r="3.3"/><circle cx="1546.4" cy="266.4" r="3.3"/><circle cx="1580.5" cy="394.6" r="3.3"/><circle cx="1519.6" cy="318.8" r="3.3"/><circle cx="1517.9" cy="303.4" r="3.3"/><circle cx="1559.8" cy="181.7" r="3.3"/><circle cx="1573.9" cy="175.9" r="3.3"/><circle cx="1529.4" cy="262.7" r="3.3"/><circle cx="1554.7" cy="148.8" r="3.3"/><circle cx="1558.3" cy="222.3" r="3.3"/><circle cx="1595.1" cy="334.1" r="3.3"/><circle cx="1616.1" cy="111.7" r="3.3"/><circle cx="1584.2" cy="363.4" r="3.3"/><circle cx="1551.7" cy="170.3" r="3.3"/><circle cx="1538.1" cy="337.4" r="3.3"/><circle cx="1604.1" cy="373.4" r="3.3"/><circle cx="1607.1" cy="318.9" r="3.3"/><circle cx="1611.5" cy="383.7" r="3.3"/><circle cx="1614.8" cy="310.4" r="3.3"/><circle cx="1602.2" cy="367.0" r="3.3"/><circle cx="1644.7" cy="247.6" r="3.3"/><circle cx="1602.7" cy="362.9" r="3.3"/><circle cx="1576.5" cy="147.7" r="3.3"/><circle cx="1609.3" cy="302.9" r="3.3"/><circle cx="1642.3" cy="353.1" r="3.3"/><circle cx="1641.1" cy="255.5" r="3.3"/><circle cx="1574.3" cy="134.4" r="3.3"/><circle cx="1547.1" cy="182.3" r="3.3"/><circle cx="1511.9" cy="218.1" r="3.3"/><circle cx="1658.1" cy="231.4" r="3.3"/><circle cx="1529.2" cy="187.8" r="3.3"/><circle cx="1513.7" cy="302.0" r="3.3"/><circle cx="1613.5" cy="388.1" r="3.3"/><circle cx="1676.4" cy="264.9" r="3.3"/><circle cx="1657.3" cy="159.1" r="3.3"/><circle cx="1629.4" cy="225.1" r="3.3"/><circle cx="1580.0" cy="197.0" r="3.3"/><circle cx="1622.2" cy="277.6" r="3.3"/><circle cx="1586.1" cy="344.3" r="3.3"/><circle cx="1558.3" cy="160.0" r="3.3"/><circle cx="1549.8" cy="225.2" r="3.3"/><circle cx="1558.8" cy="236.8" r="3.3"/><circle cx="1545.8" cy="170.8" r="3.3"/><circle cx="1621.3" cy="237.9" r="3.3"/><circle cx="1555.1" cy="266.7" r="3.3"/><circle cx="1598.9" cy="217.1" r="3.3"/><circle cx="1623.1" cy="229.7" r="3.3"/><circle cx="1680.7" cy="301.2" r="3.3"/><circle cx="1626.7" cy="169.7" r="3.3"/><circle cx="1686.5" cy="346.4" r="3.3"/><circle cx="1631.4" cy="122.1" r="3.3"/><circle cx="1665.5" cy="264.3" r="3.3"/><circle cx="1588.6" cy="343.1" r="3.3"/><circle cx="1576.6" cy="271.3" r="3.3"/><circle cx="1646.6" cy="202.8" r="3.3"/><circle cx="1519.7" cy="304.9" r="3.3"/><circle cx="1578.5" cy="282.8" r="3.3"/><circle cx="1675.5" cy="332.2" r="3.3"/><circle cx="1624.3" cy="378.5" r="3.3"/><circle cx="1601.6" cy="287.7" r="3.3"/><circle cx="1558.3" cy="161.5" r="3.3"/><circle cx="1551.1" cy="199.9" r="3.3"/><circle cx="1540.4" cy="228.9" r="3.3"/><circle cx="1581.6" cy="170.3" r="3.3"/><circle cx="1580.4" cy="340.6" r="3.3"/><circle cx="1674.7" cy="344.3" r="3.3"/><circle cx="1556.8" cy="184.7" r="3.3"/><circle cx="1595.7" cy="395.8" r="3.3"/><circle cx="1601.2" cy="213.2" r="3.3"/><circle cx="1585.4" cy="119.3" r="3.3"/><circle cx="1635.1" cy="243.6" r="3.3"/><circle cx="1641.1" cy="148.6" r="3.3"/><circle cx="1675.1" cy="243.4" r="3.3"/><circle cx="1549.3" cy="332.9" r="3.3"/><circle cx="1594.4" cy="342.6" r="3.3"/><circle cx="1664.1" cy="223.8" r="3.3"/><circle cx="1504.0" cy="318.5" r="3.3"/><circle cx="1653.6" cy="204.6" r="3.3"/><circle cx="1686.6" cy="239.3" r="3.3"/><circle cx="1581.5" cy="351.7" r="3.3"/><circle cx="1632.3" cy="138.5" r="3.3"/><circle cx="1599.4" cy="385.0" r="3.3"/><circle cx="1668.4" cy="237.0" r="3.3"/><circle cx="1563.8" cy="272.8" r="3.3"/><circle cx="1665.5" cy="222.9" r="3.3"/><circle cx="1523.9" cy="250.7" r="3.3"/><circle cx="1616.2" cy="158.5" r="3.3"/><circle cx="1553.8" cy="387.5" r="3.3"/><circle cx="1640.7" cy="346.5" r="3.3"/><circle cx="1658.8" cy="281.5" r="3.3"/><circle cx="1555.7" cy="222.0" r="3.3"/><circle cx="1684.7" cy="250.6" r="3.3"/><circle cx="1657.3" cy="163.6" r="3.3"/><circle cx="1594.8" cy="300.2" r="3.3"/><circle cx="1584.1" cy="295.7" r="3.3"/><circle cx="1559.4" cy="275.8" r="3.3"/><circle cx="1619.3" cy="229.5" r="3.3"/><circle cx="1638.2" cy="157.3" r="3.3"/><circle cx="1567.8" cy="383.5" r="3.3"/><circle cx="1609.9" cy="312.8" r="3.3"/><circle cx="1623.1" cy="346.8" r="3.3"/><circle cx="1678.4" cy="170.8" r="3.3"/><circle cx="1584.1" cy="292.5" r="3.3"/><circle cx="1602.3" cy="330.1" r="3.3"/><circle cx="1603.5" cy="268.2" r="3.3"/><circle cx="1604.9" cy="320.4" r="3.3"/><circle cx="1618.6" cy="338.5" r="3.3"/><circle cx="1599.0" cy="321.7" r="3.3"/><circle cx="1588.3" cy="329.1" r="3.3"/><circle cx="1516.7" cy="242.0" r="3.3"/><circle cx="1581.9" cy="367.6" r="3.3"/><circle cx="1611.0" cy="344.8" r="3.3"/><circle cx="1602.3" cy="185.3" r="3.3"/><circle cx="1583.9" cy="274.3" r="3.3"/><circle cx="1635.5" cy="226.1" r="3.3"/><circle cx="1635.9" cy="150.3" r="3.3"/><circle cx="1629.3" cy="232.6" r="3.3"/><circle cx="1575.6" cy="273.7" r="3.3"/><circle cx="1653.6" cy="258.7" r="3.3"/><circle cx="1625.1" cy="320.3" r="3.3"/><circle cx="1684.1" cy="272.7" r="3.3"/><circle cx="1608.1" cy="149.6" r="3.3"/><circle cx="1616.0" cy="252.4" r="3.3"/><circle cx="1685.3" cy="341.9" r="3.3"/><circle cx="1620.7" cy="90.3" r="3.3"/><circle cx="1555.7" cy="189.9" r="3.3"/><circle cx="1586.1" cy="333.9" r="3.3"/><circle cx="1546.1" cy="216.1" r="3.3"/><circle cx="1576.5" cy="264.2" r="3.3"/><circle cx="1578.1" cy="274.8" r="3.3"/><circle cx="1537.5" cy="244.7" r="3.3"/><circle cx="1621.3" cy="257.7" r="3.3"/><circle cx="1601.1" cy="327.6" r="3.3"/><circle cx="1593.0" cy="346.7" r="3.3"/><circle cx="1574.3" cy="285.3" r="3.3"/><circle cx="1615.9" cy="346.3" r="3.3"/><circle cx="1597.6" cy="207.7" r="3.3"/><circle cx="1617.3" cy="238.5" r="3.3"/><circle cx="1563.9" cy="386.3" r="3.3"/><circle cx="1629.8" cy="246.3" r="3.3"/><circle cx="1591.8" cy="321.6" r="3.3"/><circle cx="1582.9" cy="375.5" r="3.3"/><circle cx="1619.3" cy="280.3" r="3.3"/><circle cx="1556.0" cy="225.5" r="3.3"/><circle cx="1615.3" cy="243.0" r="3.3"/><circle cx="1603.5" cy="333.5" r="3.3"/><circle cx="1583.1" cy="339.2" r="3.3"/><circle cx="1558.1" cy="233.1" r="3.3"/><circle cx="1525.4" cy="250.1" r="3.3"/><circle cx="1511.9" cy="287.2" r="3.3"/><circle cx="1627.7" cy="98.6" r="3.3"/><circle cx="1590.1" cy="357.2" r="3.3"/><circle cx="1520.6" cy="307.1" r="3.3"/><circle cx="1594.4" cy="253.4" r="3.3"/><circle cx="1624.4" cy="360.3" r="3.3"/><circle cx="1617.2" cy="368.7" r="3.3"/><circle cx="1684.4" cy="275.9" r="3.3"/><circle cx="1606.6" cy="221.9" r="3.3"/><circle cx="1593.5" cy="215.0" r="3.3"/><circle cx="1521.5" cy="293.8" r="3.3"/><circle cx="1661.3" cy="172.5" r="3.3"/><circle cx="1538.8" cy="225.3" r="3.3"/><circle cx="1634.2" cy="225.3" r="3.3"/><circle cx="1631.1" cy="126.1" r="3.3"/><circle cx="1576.9" cy="332.7" r="3.3"/><circle cx="1599.9" cy="282.7" r="3.3"/><circle cx="1606.7" cy="141.5" r="3.3"/><circle cx="1565.7" cy="384.8" r="3.3"/><circle cx="1627.6" cy="220.6" r="3.3"/><circle cx="1535.4" cy="253.1" r="3.3"/><circle cx="1657.3" cy="299.5" r="3.3"/><circle cx="1548.7" cy="335.9" r="3.3"/><circle cx="1581.2" cy="385.8" r="3.3"/><circle cx="1671.6" cy="320.5" r="3.3"/><circle cx="1596.7" cy="336.4" r="3.3"/><circle cx="1510.9" cy="273.3" r="3.3"/><circle cx="1555.2" cy="273.4" r="3.3"/><circle cx="1550.7" cy="251.6" r="3.3"/><circle cx="1651.6" cy="297.8" r="3.3"/><circle cx="1566.9" cy="203.6" r="3.3"/><circle cx="1607.3" cy="250.2" r="3.3"/><circle cx="1592.7" cy="204.9" r="3.3"/><circle cx="1546.5" cy="164.7" r="3.3"/><circle cx="1551.1" cy="373.1" r="3.3"/><circle cx="1539.3" cy="279.5" r="3.3"/><circle cx="1512.6" cy="298.6" r="3.3"/><circle cx="1557.8" cy="192.3" r="3.3"/><circle cx="1676.1" cy="284.5" r="3.3"/><circle cx="1604.6" cy="145.9" r="3.3"/><circle cx="1562.6" cy="360.8" r="3.3"/><circle cx="1593.4" cy="135.6" r="3.3"/><circle cx="1607.9" cy="288.8" r="3.3"/><circle cx="1620.0" cy="240.2" r="3.3"/><circle cx="1551.9" cy="385.8" r="3.3"/><circle cx="1590.9" cy="362.1" r="3.3"/><circle cx="1624.0" cy="249.0" r="3.3"/><circle cx="1677.4" cy="311.0" r="3.3"/><circle cx="1671.3" cy="320.2" r="3.3"/><circle cx="1594.0" cy="389.0" r="3.3"/><circle cx="1659.7" cy="295.6" r="3.3"/><circle cx="1541.6" cy="179.1" r="3.3"/><circle cx="1606.6" cy="143.8" r="3.3"/><circle cx="1642.6" cy="145.2" r="3.3"/><circle cx="1621.5" cy="149.0" r="3.3"/><circle cx="1553.8" cy="188.8" r="3.3"/><circle cx="1567.3" cy="296.0" r="3.3"/><circle cx="1609.2" cy="335.0" r="3.3"/><circle cx="1629.5" cy="90.5" r="3.3"/><circle cx="1648.0" cy="328.5" r="3.3"/><circle cx="1609.2" cy="136.2" r="3.3"/><circle cx="1659.4" cy="128.9" r="3.3"/><circle cx="1629.7" cy="252.1" r="3.3"/><circle cx="1575.9" cy="146.8" r="3.3"/><circle cx="1587.4" cy="351.4" r="3.3"/><circle cx="1633.0" cy="246.7" r="3.3"/><circle cx="1585.0" cy="251.3" r="3.3"/><circle cx="1627.2" cy="357.6" r="3.3"/><circle cx="1652.1" cy="166.0" r="3.3"/><circle cx="1549.9" cy="176.8" r="3.3"/><circle cx="1645.7" cy="305.9" r="3.3"/><circle cx="1589.0" cy="260.0" r="3.3"/><circle cx="1636.1" cy="173.4" r="3.3"/><circle cx="1641.1" cy="150.0" r="3.3"/><circle cx="1542.7" cy="294.7" r="3.3"/><circle cx="1515.1" cy="326.8" r="3.3"/><circle cx="1666.0" cy="343.2" r="3.3"/><circle cx="1588.5" cy="145.3" r="3.3"/><circle cx="1543.0" cy="235.7" r="3.3"/><circle cx="1599.7" cy="311.7" r="3.3"/><circle cx="1673.4" cy="137.6" r="3.3"/><circle cx="1548.4" cy="239.7" r="3.3"/><circle cx="1666.3" cy="84.9" r="3.3"/><circle cx="1591.7" cy="380.1" r="3.3"/><circle cx="1529.7" cy="353.9" r="3.3"/><circle cx="1595.9" cy="109.5" r="3.3"/><circle cx="1618.1" cy="241.5" r="3.3"/><circle cx="1630.0" cy="284.9" r="3.3"/><circle cx="1538.5" cy="386.1" r="3.3"/><circle cx="1688.1" cy="200.7" r="3.3"/><circle cx="1643.0" cy="336.7" r="3.3"/><circle cx="1628.0" cy="271.2" r="3.3"/><circle cx="1517.4" cy="345.2" r="3.3"/><circle cx="1615.1" cy="365.3" r="3.3"/><circle cx="1628.0" cy="309.7" r="3.3"/><circle cx="1640.8" cy="265.7" r="3.3"/><circle cx="1586.9" cy="268.5" r="3.3"/><circle cx="1681.5" cy="289.5" r="3.3"/><circle cx="1621.3" cy="215.5" r="3.3"/><circle cx="1628.5" cy="292.2" r="3.3"/><circle cx="1563.2" cy="138.7" r="3.3"/><circle cx="1569.4" cy="154.9" r="3.3"/><circle cx="1577.2" cy="325.3" r="3.3"/><circle cx="1530.3" cy="306.6" r="3.3"/><circle cx="1626.4" cy="359.0" r="3.3"/><circle cx="1535.0" cy="247.6" r="3.3"/><circle cx="1557.0" cy="284.0" r="3.3"/><circle cx="1541.6" cy="360.3" r="3.3"/><circle cx="1576.1" cy="169.4" r="3.3"/><circle cx="1610.8" cy="315.5" r="3.3"/><circle cx="1524.6" cy="201.6" r="3.3"/><circle cx="1661.0" cy="177.5" r="3.3"/><circle cx="1673.7" cy="260.6" r="3.3"/><circle cx="1612.9" cy="359.5" r="3.3"/><circle cx="1542.8" cy="274.0" r="3.3"/><circle cx="1599.5" cy="196.1" r="3.3"/><circle cx="1618.9" cy="341.9" r="3.3"/><circle cx="1545.6" cy="342.9" r="3.3"/><circle cx="1591.1" cy="135.4" r="3.3"/><circle cx="1642.7" cy="178.8" r="3.3"/><circle cx="1597.6" cy="348.5" r="3.3"/><circle cx="1540.8" cy="221.5" r="3.3"/><circle cx="1568.2" cy="278.2" r="3.3"/><circle cx="1615.6" cy="235.5" r="3.3"/><circle cx="1616.2" cy="238.6" r="3.3"/><circle cx="1544.7" cy="194.6" r="3.3"/><circle cx="1588.2" cy="284.2" r="3.3"/><circle cx="1540.3" cy="368.2" r="3.3"/><circle cx="1548.3" cy="375.5" r="3.3"/><circle cx="1547.0" cy="271.7" r="3.3"/><circle cx="1508.0" cy="289.6" r="3.3"/><circle cx="1600.8" cy="203.9" r="3.3"/><circle cx="1556.2" cy="291.6" r="3.3"/><circle cx="1579.6" cy="297.9" r="3.3"/><circle cx="1580.9" cy="358.0" r="3.3"/><circle cx="1576.3" cy="285.1" r="3.3"/><circle cx="1552.4" cy="205.2" r="3.3"/><circle cx="1559.7" cy="188.3" r="3.3"/><circle cx="1534.6" cy="181.8" r="3.3"/><circle cx="1684.2" cy="174.6" r="3.3"/><circle cx="1572.0" cy="118.2" r="3.3"/><circle cx="1601.8" cy="298.5" r="3.3"/><circle cx="1585.4" cy="307.0" r="3.3"/><circle cx="1581.2" cy="245.7" r="3.3"/><circle cx="1588.9" cy="209.3" r="3.3"/><circle cx="1630.2" cy="254.7" r="3.3"/><circle cx="1565.5" cy="366.4" r="3.3"/><circle cx="1512.1" cy="326.2" r="3.3"/><circle cx="1564.7" cy="287.5" r="3.3"/><circle cx="1593.0" cy="191.6" r="3.3"/><circle cx="1617.4" cy="265.9" r="3.3"/><circle cx="1592.0" cy="351.2" r="3.3"/><circle cx="1597.0" cy="192.6" r="3.3"/><circle cx="1517.9" cy="351.7" r="3.3"/><circle cx="1673.9" cy="314.8" r="3.3"/><circle cx="1585.5" cy="335.4" r="3.3"/><circle cx="1667.5" cy="224.8" r="3.3"/><circle cx="1523.8" cy="319.3" r="3.3"/><circle cx="1531.9" cy="185.5" r="3.3"/><circle cx="1546.6" cy="356.0" r="3.3"/><circle cx="1611.8" cy="276.2" r="3.3"/><circle cx="1553.4" cy="277.2" r="3.3"/><circle cx="1595.7" cy="350.2" r="3.3"/><circle cx="1630.6" cy="286.9" r="3.3"/><circle cx="1605.0" cy="353.9" r="3.3"/><circle cx="1622.7" cy="211.9" r="3.3"/><circle cx="1582.0" cy="135.1" r="3.3"/><circle cx="1644.7" cy="256.6" r="3.3"/><circle cx="1623.3" cy="254.9" r="3.3"/><circle cx="1601.1" cy="322.4" r="3.3"/><circle cx="1581.5" cy="151.4" r="3.3"/><circle cx="1622.8" cy="160.6" r="3.3"/><circle cx="1689.1" cy="328.3" r="3.3"/><circle cx="1615.5" cy="331.3" r="3.3"/><circle cx="1652.4" cy="263.1" r="3.3"/><circle cx="1654.3" cy="125.1" r="3.3"/><circle cx="1608.0" cy="167.3" r="3.3"/><circle cx="1618.9" cy="361.5" r="3.3"/><circle cx="1584.1" cy="237.0" r="3.3"/><circle cx="1619.2" cy="303.5" r="3.3"/><circle cx="1573.0" cy="389.5" r="3.3"/><circle cx="1591.9" cy="184.5" r="3.3"/><circle cx="1584.2" cy="333.0" r="3.3"/><circle cx="1551.3" cy="247.2" r="3.3"/><circle cx="1609.4" cy="331.4" r="3.3"/><circle cx="1689.6" cy="328.1" r="3.3"/><circle cx="1515.6" cy="300.9" r="3.3"/><circle cx="1642.2" cy="124.3" r="3.3"/><circle cx="1628.9" cy="244.7" r="3.3"/><circle cx="1564.0" cy="218.4" r="3.3"/><circle cx="1543.8" cy="286.7" r="3.3"/><circle cx="1623.8" cy="177.8" r="3.3"/><circle cx="1611.2" cy="249.8" r="3.3"/><circle cx="1681.4" cy="326.7" r="3.3"/><circle cx="1580.4" cy="270.9" r="3.3"/><circle cx="1644.9" cy="216.5" r="3.3"/><circle cx="1524.8" cy="298.9" r="3.3"/><circle cx="1564.1" cy="285.0" r="3.3"/><circle cx="1542.0" cy="159.6" r="3.3"/><circle cx="1535.0" cy="267.6" r="3.3"/><circle cx="1597.3" cy="331.4" r="3.3"/><circle cx="1597.4" cy="330.7" r="3.3"/><circle cx="1547.9" cy="363.5" r="3.3"/><circle cx="1607.8" cy="106.5" r="3.3"/><circle cx="1639.1" cy="228.9" r="3.3"/><circle cx="1531.9" cy="243.1" r="3.3"/><circle cx="1522.4" cy="227.0" r="3.3"/><circle cx="1558.2" cy="214.2" r="3.3"/><circle cx="1593.3" cy="368.5" r="3.3"/><circle cx="1568.2" cy="269.4" r="3.3"/><circle cx="1638.2" cy="255.6" r="3.3"/><circle cx="1637.2" cy="115.0" r="3.3"/><circle cx="1555.8" cy="221.8" r="3.3"/><circle cx="1632.0" cy="200.3" r="3.3"/><circle cx="1607.9" cy="239.4" r="3.3"/><circle cx="1610.8" cy="101.8" r="3.3"/><circle cx="1577.6" cy="267.2" r="3.3"/><circle cx="1645.6" cy="225.5" r="3.3"/><circle cx="1661.6" cy="110.7" r="3.3"/><circle cx="1543.6" cy="274.6" r="3.3"/><circle cx="1629.2" cy="379.8" r="3.3"/><circle cx="1534.0" cy="287.2" r="3.3"/><circle cx="1615.7" cy="287.6" r="3.3"/><circle cx="1620.7" cy="335.2" r="3.3"/><circle cx="1553.8" cy="197.2" r="3.3"/><circle cx="1601.6" cy="235.9" r="3.3"/><circle cx="1515.0" cy="290.6" r="3.3"/><circle cx="1541.8" cy="196.4" r="3.3"/><circle cx="1686.9" cy="205.4" r="3.3"/><circle cx="1680.1" cy="261.0" r="3.3"/><circle cx="1591.4" cy="180.2" r="3.3"/><circle cx="1624.5" cy="268.1" r="3.3"/><circle cx="1676.4" cy="331.9" r="3.3"/><circle cx="1671.5" cy="340.3" r="3.3"/><circle cx="1677.7" cy="276.5" r="3.3"/><circle cx="1501.8" cy="273.3" r="3.3"/><circle cx="1538.5" cy="261.6" r="3.3"/><circle cx="1522.9" cy="318.7" r="3.3"/><circle cx="1554.4" cy="291.3" r="3.3"/><circle cx="1527.9" cy="213.5" r="3.3"/><circle cx="1568.6" cy="345.2" r="3.3"/><circle cx="1643.2" cy="153.6" r="3.3"/><circle cx="1631.5" cy="243.3" r="3.3"/><circle cx="1638.1" cy="255.7" r="3.3"/><circle cx="1513.6" cy="270.7" r="3.3"/><circle cx="1511.0" cy="308.2" r="3.3"/><circle cx="1617.3" cy="234.6" r="3.3"/><circle cx="1523.3" cy="308.8" r="3.3"/><circle cx="1620.7" cy="251.3" r="3.3"/><circle cx="1624.3" cy="110.9" r="3.3"/><circle cx="1524.9" cy="303.2" r="3.3"/><circle cx="1597.3" cy="388.7" r="3.3"/><circle cx="1677.9" cy="263.9" r="3.3"/><circle cx="1593.3" cy="368.0" r="3.3"/><circle cx="1653.0" cy="122.1" r="3.3"/><circle cx="1580.3" cy="398.7" r="3.3"/><circle cx="1658.0" cy="163.9" r="3.3"/><circle cx="1559.0" cy="169.7" r="3.3"/><circle cx="1665.7" cy="331.8" r="3.3"/><circle cx="1597.3" cy="215.3" r="3.3"/><circle cx="1524.4" cy="268.7" r="3.3"/><circle cx="1675.7" cy="260.7" r="3.3"/><circle cx="1547.0" cy="290.0" r="3.3"/><circle cx="1587.6" cy="136.7" r="3.3"/><circle cx="1630.0" cy="97.7" r="3.3"/><circle cx="1646.3" cy="183.9" r="3.3"/><circle cx="1512.9" cy="222.3" r="3.3"/><circle cx="1690.4" cy="331.3" r="3.3"/><circle cx="1551.4" cy="226.2" r="3.3"/><circle cx="1535.6" cy="227.8" r="3.3"/><circle cx="1682.6" cy="232.7" r="3.3"/><circle cx="1519.0" cy="312.2" r="3.3"/><circle cx="1539.1" cy="275.2" r="3.3"/><circle cx="1670.8" cy="337.8" r="3.3"/><circle cx="1612.4" cy="291.8" r="3.3"/><circle cx="1689.3" cy="341.2" r="3.3"/><circle cx="1677.8" cy="339.5" r="3.3"/><circle cx="1636.8" cy="259.5" r="3.3"/><circle cx="1577.4" cy="363.7" r="3.3"/><circle cx="1560.3" cy="271.7" r="3.3"/><circle cx="1548.9" cy="271.7" r="3.3"/><circle cx="1546.7" cy="240.4" r="3.3"/><circle cx="1528.3" cy="324.8" r="3.3"/><circle cx="1644.2" cy="110.0" r="3.3"/><circle cx="1574.1" cy="388.6" r="3.3"/><circle cx="1532.6" cy="296.9" r="3.3"/><circle cx="1537.9" cy="254.2" r="3.3"/><circle cx="1611.7" cy="189.3" r="3.3"/><circle cx="1519.5" cy="307.8" r="3.3"/><circle cx="1568.6" cy="285.4" r="3.3"/><circle cx="1616.9" cy="270.6" r="3.3"/><circle cx="1623.6" cy="238.0" r="3.3"/><circle cx="1576.7" cy="202.8" r="3.3"/><circle cx="1525.3" cy="302.8" r="3.3"/><circle cx="1554.2" cy="292.1" r="3.3"/><circle cx="1548.1" cy="274.3" r="3.3"/><circle cx="1608.4" cy="238.8" r="3.3"/><circle cx="1608.6" cy="240.2" r="3.3"/><circle cx="1575.3" cy="132.9" r="3.3"/><circle cx="1629.6" cy="234.7" r="3.3"/><circle cx="1578.5" cy="118.8" r="3.3"/><circle cx="1559.5" cy="366.1" r="3.3"/><circle cx="1560.4" cy="279.9" r="3.3"/><circle cx="1661.2" cy="336.0" r="3.3"/><circle cx="1650.7" cy="117.9" r="3.3"/><circle cx="1606.3" cy="221.2" r="3.3"/><circle cx="1647.3" cy="276.2" r="3.3"/><circle cx="1637.2" cy="365.2" r="3.3"/><circle cx="1590.6" cy="363.9" r="3.3"/><circle cx="1507.8" cy="290.0" r="3.3"/><circle cx="1686.0" cy="294.7" r="3.3"/><circle cx="1637.1" cy="235.1" r="3.3"/><circle cx="1620.4" cy="129.2" r="3.3"/><circle cx="1594.0" cy="231.0" r="3.3"/><circle cx="1602.7" cy="202.3" r="3.3"/><circle cx="1510.9" cy="223.1" r="3.3"/><circle cx="1622.9" cy="152.5" r="3.3"/><circle cx="1515.5" cy="213.0" r="3.3"/><circle cx="1580.0" cy="232.8" r="3.3"/><circle cx="1668.9" cy="260.6" r="3.3"/><circle cx="1584.4" cy="190.3" r="3.3"/><circle cx="1660.0" cy="187.4" r="3.3"/><circle cx="1635.1" cy="197.4" r="3.3"/><circle cx="1651.3" cy="255.9" r="3.3"/><circle cx="1655.6" cy="317.8" r="3.3"/><circle cx="1527.4" cy="325.6" r="3.3"/><circle cx="1584.5" cy="330.2" r="3.3"/><circle cx="1516.5" cy="213.6" r="3.3"/><circle cx="1610.2" cy="327.2" r="3.3"/><circle cx="1598.8" cy="97.4" r="3.3"/><circle cx="1589.6" cy="243.4" r="3.3"/><circle cx="1679.5" cy="310.6" r="3.3"/><circle cx="1612.5" cy="362.3" r="3.3"/><circle cx="1570.4" cy="393.1" r="3.3"/><circle cx="1644.0" cy="168.9" r="3.3"/><circle cx="1583.7" cy="124.4" r="3.3"/><circle cx="1641.3" cy="176.9" r="3.3"/><circle cx="1634.2" cy="379.1" r="3.3"/><circle cx="1621.6" cy="337.5" r="3.3"/><circle cx="1633.8" cy="296.1" r="3.3"/><circle cx="1583.7" cy="277.7" r="3.3"/><circle cx="1605.0" cy="153.2" r="3.3"/><circle cx="1595.0" cy="335.1" r="3.3"/><circle cx="1649.0" cy="299.6" r="3.3"/><circle cx="1581.8" cy="153.6" r="3.3"/><circle cx="1567.1" cy="268.9" r="3.3"/><circle cx="1533.8" cy="312.2" r="3.3"/><circle cx="1679.7" cy="311.0" r="3.3"/><circle cx="1545.2" cy="187.0" r="3.3"/><circle cx="1541.7" cy="215.1" r="3.3"/><circle cx="1554.2" cy="332.9" r="3.3"/><circle cx="1648.7" cy="132.6" r="3.3"/><circle cx="1563.6" cy="362.6" r="3.3"/><circle cx="1689.6" cy="343.6" r="3.3"/><circle cx="1497.2" cy="294.5" r="3.3"/><circle cx="1615.0" cy="279.3" r="3.3"/><circle cx="1558.0" cy="372.9" r="3.3"/><circle cx="1600.7" cy="171.8" r="3.3"/><circle cx="1568.5" cy="337.0" r="3.3"/><circle cx="1518.5" cy="304.5" r="3.3"/><circle cx="1529.8" cy="188.2" r="3.3"/><circle cx="1666.7" cy="317.5" r="3.3"/><circle cx="1654.6" cy="104.9" r="3.3"/><circle cx="1557.1" cy="205.7" r="3.3"/><circle cx="1609.6" cy="304.6" r="3.3"/><circle cx="1590.7" cy="369.9" r="3.3"/><circle cx="1664.4" cy="287.8" r="3.3"/><circle cx="1551.3" cy="240.8" r="3.3"/><circle cx="1680.0" cy="178.8" r="3.3"/><circle cx="1562.5" cy="213.1" r="3.3"/><circle cx="1661.5" cy="352.4" r="3.3"/><circle cx="1585.4" cy="256.6" r="3.3"/><circle cx="1570.0" cy="279.9" r="3.3"/><circle cx="1680.9" cy="195.4" r="3.3"/><circle cx="1525.2" cy="262.0" r="3.3"/><circle cx="1528.4" cy="181.5" r="3.3"/><circle cx="1560.1" cy="234.4" r="3.3"/><circle cx="1669.1" cy="144.4" r="3.3"/><circle cx="1637.2" cy="365.3" r="3.3"/><circle cx="1618.5" cy="340.1" r="3.3"/><circle cx="1610.4" cy="354.2" r="3.3"/><circle cx="1624.6" cy="351.3" r="3.3"/><circle cx="1615.1" cy="134.7" r="3.3"/><circle cx="1530.4" cy="383.3" r="3.3"/><circle cx="1638.9" cy="235.6" r="3.3"/><circle cx="1538.1" cy="236.9" r="3.3"/><circle cx="1649.7" cy="205.3" r="3.3"/><circle cx="1618.9" cy="168.9" r="3.3"/><circle cx="1606.6" cy="201.6" r="3.3"/><circle cx="1610.0" cy="367.3" r="3.3"/><circle cx="1564.2" cy="357.6" r="3.3"/><circle cx="1613.2" cy="241.4" r="3.3"/><circle cx="1681.1" cy="341.5" r="3.3"/><circle cx="1605.5" cy="353.1" r="3.3"/><circle cx="1635.8" cy="234.9" r="3.3"/><circle cx="1523.3" cy="267.0" r="3.3"/><circle cx="1595.0" cy="135.3" r="3.3"/><circle cx="1541.3" cy="245.4" r="3.3"/><circle cx="1615.3" cy="94.4" r="3.3"/><circle cx="1656.7" cy="366.9" r="3.3"/><circle cx="1597.2" cy="199.6" r="3.3"/><circle cx="1645.2" cy="193.3" r="3.3"/><circle cx="1658.6" cy="265.0" r="3.3"/><circle cx="1568.6" cy="147.2" r="3.3"/><circle cx="1516.3" cy="217.3" r="3.3"/><circle cx="1572.9" cy="146.7" r="3.3"/><circle cx="1530.3" cy="259.6" r="3.3"/><circle cx="1608.0" cy="327.9" r="3.3"/><circle cx="1686.9" cy="332.6" r="3.3"/><circle cx="1651.5" cy="277.0" r="3.3"/><circle cx="1580.0" cy="343.6" r="3.3"/><circle cx="1595.0" cy="303.8" r="3.3"/><circle cx="1565.6" cy="290.0" r="3.3"/><circle cx="1586.6" cy="260.8" r="3.3"/><circle cx="1634.8" cy="211.6" r="3.3"/><circle cx="1607.5" cy="302.5" r="3.3"/><circle cx="1645.5" cy="322.6" r="3.3"/><circle cx="1585.2" cy="268.4" r="3.3"/><circle cx="1624.4" cy="251.8" r="3.3"/><circle cx="1538.4" cy="304.7" r="3.3"/><circle cx="1575.8" cy="194.1" r="3.3"/><circle cx="1641.4" cy="190.6" r="3.3"/><circle cx="1514.4" cy="300.1" r="3.3"/><circle cx="1627.1" cy="292.7" r="3.3"/><circle cx="1601.0" cy="95.4" r="3.3"/><circle cx="1591.4" cy="395.0" r="3.3"/><circle cx="1664.7" cy="237.9" r="3.3"/><circle cx="1550.1" cy="152.5" r="3.3"/><circle cx="1631.5" cy="228.1" r="3.3"/><circle cx="1558.9" cy="276.6" r="3.3"/><circle cx="1566.8" cy="240.4" r="3.3"/><circle cx="1606.8" cy="393.0" r="3.3"/><circle cx="1635.9" cy="337.4" r="3.3"/><circle cx="1533.7" cy="336.1" r="3.3"/><circle cx="1618.2" cy="224.9" r="3.3"/><circle cx="1562.5" cy="212.8" r="3.3"/><circle cx="1627.9" cy="274.3" r="3.3"/><circle cx="1600.4" cy="393.0" r="3.3"/><circle cx="1561.2" cy="282.5" r="3.3"/><circle cx="1572.5" cy="363.9" r="3.3"/><circle cx="1678.4" cy="319.5" r="3.3"/><circle cx="1583.2" cy="135.1" r="3.3"/><circle cx="1585.7" cy="263.4" r="3.3"/><circle cx="1630.0" cy="357.6" r="3.3"/><circle cx="1540.2" cy="316.3" r="3.3"/><circle cx="1685.4" cy="253.7" r="3.3"/><circle cx="1610.6" cy="227.0" r="3.3"/><circle cx="1580.2" cy="285.2" r="3.3"/><circle cx="1575.7" cy="260.0" r="3.3"/><circle cx="1527.3" cy="316.1" r="3.3"/><circle cx="1569.2" cy="165.5" r="3.3"/><circle cx="1542.2" cy="324.8" r="3.3"/><circle cx="1628.9" cy="172.4" r="3.3"/><circle cx="1575.9" cy="353.1" r="3.3"/><circle cx="1632.0" cy="238.3" r="3.3"/><circle cx="1617.7" cy="345.7" r="3.3"/><circle cx="1623.8" cy="246.1" r="3.3"/><circle cx="1516.0" cy="308.7" r="3.3"/><circle cx="1689.9" cy="229.3" r="3.3"/><circle cx="1624.3" cy="348.9" r="3.3"/><circle cx="1570.5" cy="391.7" r="3.3"/><circle cx="1544.3" cy="267.9" r="3.3"/><circle cx="1507.5" cy="303.1" r="3.3"/><circle cx="1602.6" cy="120.8" r="3.3"/><circle cx="1626.1" cy="252.8" r="3.3"/><circle cx="1528.8" cy="226.6" r="3.3"/><circle cx="1570.1" cy="287.7" r="3.3"/><circle cx="1561.4" cy="390.0" r="3.3"/><circle cx="1649.1" cy="322.3" r="3.3"/><circle cx="1533.1" cy="300.9" r="3.3"/><circle cx="1521.7" cy="367.4" r="3.3"/><circle cx="1612.1" cy="355.3" r="3.3"/><circle cx="1638.4" cy="362.4" r="3.3"/><circle cx="1566.4" cy="279.0" r="3.3"/><circle cx="1559.8" cy="254.3" r="3.3"/><circle cx="1597.6" cy="240.0" r="3.3"/><circle cx="1558.3" cy="285.6" r="3.3"/><circle cx="1528.9" cy="309.1" r="3.3"/><circle cx="1623.7" cy="249.0" r="3.3"/><circle cx="1545.4" cy="198.4" r="3.3"/><circle cx="1655.5" cy="137.7" r="3.3"/><circle cx="1565.8" cy="318.1" r="3.3"/><circle cx="1650.2" cy="100.5" r="3.3"/><circle cx="1532.4" cy="249.1" r="3.3"/><circle cx="1671.4" cy="311.7" r="3.3"/><circle cx="1644.8" cy="265.1" r="3.3"/><circle cx="1632.4" cy="217.6" r="3.3"/><circle cx="1671.9" cy="313.4" r="3.3"/><circle cx="1599.5" cy="272.5" r="3.3"/><circle cx="1575.8" cy="283.1" r="3.3"/><circle cx="1558.5" cy="158.5" r="3.3"/><circle cx="1568.6" cy="256.8" r="3.3"/><circle cx="1565.6" cy="225.7" r="3.3"/><circle cx="1606.8" cy="111.9" r="3.3"/><circle cx="1638.5" cy="311.8" r="3.3"/><circle cx="1616.6" cy="234.3" r="3.3"/><circle cx="1563.3" cy="341.5" r="3.3"/><circle cx="1664.9" cy="154.0" r="3.3"/><circle cx="1513.0" cy="219.2" r="3.3"/><circle cx="1631.4" cy="324.0" r="3.3"/><circle cx="1578.0" cy="192.6" r="3.3"/><circle cx="1535.8" cy="185.5" r="3.3"/><circle cx="1512.2" cy="316.9" r="3.3"/><circle cx="1522.9" cy="314.0" r="3.3"/><circle cx="1596.5" cy="117.3" r="3.3"/><circle cx="1568.9" cy="369.8" r="3.3"/><circle cx="1536.9" cy="271.0" r="3.3"/><circle cx="1505.8" cy="290.0" r="3.3"/><circle cx="1599.0" cy="141.2" r="3.3"/><circle cx="1560.5" cy="206.9" r="3.3"/><circle cx="1522.2" cy="313.8" r="3.3"/><circle cx="1627.6" cy="359.2" r="3.3"/><circle cx="1576.8" cy="264.0" r="3.3"/><circle cx="1556.4" cy="274.3" r="3.3"/><circle cx="1521.2" cy="289.2" r="3.3"/><circle cx="1672.6" cy="326.6" r="3.3"/><circle cx="1635.6" cy="140.5" r="3.3"/><circle cx="1575.6" cy="222.7" r="3.3"/><circle cx="1524.2" cy="304.8" r="3.3"/><circle cx="1614.7" cy="166.8" r="3.3"/><circle cx="1649.3" cy="171.7" r="3.3"/><circle cx="1531.3" cy="205.1" r="3.3"/><circle cx="1613.9" cy="343.8" r="3.3"/><circle cx="1572.3" cy="380.3" r="3.3"/><circle cx="1599.9" cy="285.7" r="3.3"/><circle cx="1596.5" cy="207.6" r="3.3"/><circle cx="1604.1" cy="245.9" r="3.3"/><circle cx="1554.8" cy="344.9" r="3.3"/><circle cx="1614.9" cy="99.3" r="3.3"/><circle cx="1589.6" cy="348.3" r="3.3"/><circle cx="1634.1" cy="134.1" r="3.3"/><circle cx="1610.2" cy="361.3" r="3.3"/><circle cx="1555.8" cy="326.1" r="3.3"/><circle cx="1652.8" cy="275.1" r="3.3"/><circle cx="1614.5" cy="154.6" r="3.3"/><circle cx="1658.7" cy="176.8" r="3.3"/><circle cx="1655.3" cy="322.9" r="3.3"/><circle cx="1597.7" cy="303.0" r="3.3"/><circle cx="1676.1" cy="277.1" r="3.3"/><circle cx="1637.5" cy="240.1" r="3.3"/><circle cx="1641.6" cy="242.5" r="3.3"/><circle cx="1529.6" cy="257.6" r="3.3"/><circle cx="1525.6" cy="300.6" r="3.3"/><circle cx="1563.7" cy="286.7" r="3.3"/><circle cx="1542.3" cy="214.2" r="3.3"/><circle cx="1606.3" cy="386.9" r="3.3"/><circle cx="1533.3" cy="346.8" r="3.3"/><circle cx="1577.9" cy="317.3" r="3.3"/><circle cx="1605.6" cy="297.4" r="3.3"/><circle cx="1617.5" cy="349.5" r="3.3"/><circle cx="1571.4" cy="271.0" r="3.3"/><circle cx="1657.1" cy="178.1" r="3.3"/><circle cx="1592.9" cy="142.4" r="3.3"/><circle cx="1597.5" cy="328.3" r="3.3"/><circle cx="1637.4" cy="214.6" r="3.3"/><circle cx="1527.1" cy="247.2" r="3.3"/><circle cx="1535.7" cy="217.7" r="3.3"/><circle cx="1640.7" cy="89.1" r="3.3"/><circle cx="1679.8" cy="323.1" r="3.3"/><circle cx="1625.4" cy="330.6" r="3.3"/><circle cx="1520.8" cy="231.5" r="3.3"/><circle cx="1547.2" cy="249.2" r="3.3"/><circle cx="1669.1" cy="281.9" r="3.3"/><circle cx="1582.3" cy="194.9" r="3.3"/><circle cx="1517.1" cy="282.6" r="3.3"/><circle cx="1685.2" cy="322.0" r="3.3"/><circle cx="1521.2" cy="340.2" r="3.3"/><circle cx="1584.2" cy="299.4" r="3.3"/><circle cx="1615.7" cy="371.9" r="3.3"/><circle cx="1631.8" cy="293.3" r="3.3"/><circle cx="1564.0" cy="228.5" r="3.3"/><circle cx="1617.0" cy="255.4" r="3.3"/><circle cx="1599.3" cy="209.3" r="3.3"/><circle cx="1616.4" cy="256.0" r="3.3"/><circle cx="1570.3" cy="190.2" r="3.3"/><circle cx="1610.6" cy="331.1" r="3.3"/><circle cx="1648.9" cy="254.9" r="3.3"/><circle cx="1568.4" cy="246.4" r="3.3"/><circle cx="1618.6" cy="225.1" r="3.3"/><circle cx="1559.3" cy="286.8" r="3.3"/><circle cx="1527.2" cy="277.1" r="3.3"/><circle cx="1614.6" cy="244.1" r="3.3"/><circle cx="1661.6" cy="101.8" r="3.3"/><circle cx="1832.1" cy="279.6" r="3.3"/><circle cx="1870.6" cy="273.1" r="3.3"/><circle cx="1752.6" cy="243.2" r="3.3"/><circle cx="1786.6" cy="141.5" r="3.3"/><circle cx="1797.4" cy="254.8" r="3.3"/><circle cx="1907.3" cy="261.7" r="3.3"/><circle cx="1819.8" cy="353.2" r="3.3"/><circle cx="1771.9" cy="245.6" r="3.3"/><circle cx="1836.0" cy="160.2" r="3.3"/><circle cx="1847.3" cy="298.1" r="3.3"/><circle cx="1830.1" cy="275.8" r="3.3"/><circle cx="1847.2" cy="237.1" r="3.3"/><circle cx="1742.4" cy="107.3" r="3.3"/><circle cx="1878.9" cy="273.7" r="3.3"/><circle cx="1894.1" cy="315.4" r="3.3"/><circle cx="1789.4" cy="138.2" r="3.3"/><circle cx="1880.0" cy="319.7" r="3.3"/><circle cx="1792.0" cy="290.7" r="3.3"/><circle cx="1791.6" cy="237.4" r="3.3"/><circle cx="1728.0" cy="228.9" r="3.3"/><circle cx="1746.7" cy="302.1" r="3.3"/><circle cx="1849.2" cy="385.4" r="3.3"/><circle cx="1741.3" cy="308.7" r="3.3"/><circle cx="1826.9" cy="364.0" r="3.3"/><circle cx="1734.5" cy="273.2" r="3.3"/><circle cx="1865.8" cy="286.7" r="3.3"/><circle cx="1810.5" cy="339.2" r="3.3"/><circle cx="1749.0" cy="307.3" r="3.3"/><circle cx="1769.1" cy="221.6" r="3.3"/><circle cx="1836.0" cy="139.2" r="3.3"/><circle cx="1825.1" cy="381.1" r="3.3"/><circle cx="1880.3" cy="256.5" r="3.3"/><circle cx="1749.0" cy="337.0" r="3.3"/><circle cx="1829.1" cy="245.1" r="3.3"/><circle cx="1812.8" cy="220.2" r="3.3"/><circle cx="1869.1" cy="329.9" r="3.3"/><circle cx="1843.1" cy="197.9" r="3.3"/><circle cx="1783.7" cy="347.5" r="3.3"/><circle cx="1754.8" cy="301.8" r="3.3"/><circle cx="1840.0" cy="196.0" r="3.3"/><circle cx="1777.4" cy="250.9" r="3.3"/><circle cx="1758.8" cy="288.6" r="3.3"/><circle cx="1886.4" cy="251.7" r="3.3"/><circle cx="1809.1" cy="371.6" r="3.3"/><circle cx="1739.9" cy="270.1" r="3.3"/><circle cx="1860.7" cy="209.5" r="3.3"/><circle cx="1749.8" cy="159.7" r="3.3"/><circle cx="1750.2" cy="295.8" r="3.3"/><circle cx="1889.6" cy="213.9" r="3.3"/><circle cx="1851.9" cy="147.9" r="3.3"/><circle cx="1797.6" cy="377.9" r="3.3"/><circle cx="1725.1" cy="139.7" r="3.3"/><circle cx="1881.3" cy="265.8" r="3.3"/><circle cx="1837.7" cy="354.3" r="3.3"/><circle cx="1816.1" cy="229.0" r="3.3"/><circle cx="1871.8" cy="288.1" r="3.3"/><circle cx="1811.8" cy="119.6" r="3.3"/><circle cx="1831.9" cy="349.4" r="3.3"/><circle cx="1828.9" cy="240.7" r="3.3"/><circle cx="1836.3" cy="136.5" r="3.3"/><circle cx="1734.6" cy="352.4" r="3.3"/><circle cx="1832.4" cy="346.2" r="3.3"/><circle cx="1818.8" cy="348.8" r="3.3"/><circle cx="1794.2" cy="337.6" r="3.3"/><circle cx="1852.1" cy="210.9" r="3.3"/><circle cx="1781.3" cy="247.5" r="3.3"/><circle cx="1828.3" cy="266.5" r="3.3"/><circle cx="1807.6" cy="126.7" r="3.3"/><circle cx="1792.4" cy="300.2" r="3.3"/><circle cx="1876.0" cy="236.5" r="3.3"/><circle cx="1757.9" cy="298.3" r="3.3"/><circle cx="1782.8" cy="376.1" r="3.3"/><circle cx="1744.5" cy="324.9" r="3.3"/><circle cx="1886.5" cy="304.0" r="3.3"/><circle cx="1865.2" cy="183.8" r="3.3"/><circle cx="1814.9" cy="343.8" r="3.3"/><circle cx="1820.8" cy="342.5" r="3.3"/><circle cx="1805.3" cy="198.8" r="3.3"/><circle cx="1743.4" cy="192.1" r="3.3"/><circle cx="1774.3" cy="102.9" r="3.3"/><circle cx="1781.0" cy="269.6" r="3.3"/><circle cx="1880.9" cy="223.0" r="3.3"/><circle cx="1746.5" cy="172.5" r="3.3"/><circle cx="1796.2" cy="240.1" r="3.3"/><circle cx="1767.9" cy="367.7" r="3.3"/><circle cx="1905.6" cy="320.1" r="3.3"/><circle cx="1847.0" cy="334.4" r="3.3"/><circle cx="1783.4" cy="118.4" r="3.3"/><circle cx="1830.8" cy="152.9" r="3.3"/><circle cx="1812.8" cy="272.7" r="3.3"/><circle cx="1773.6" cy="243.6" r="3.3"/><circle cx="1764.5" cy="367.3" r="3.3"/><circle cx="1817.5" cy="344.6" r="3.3"/><circle cx="1819.6" cy="188.5" r="3.3"/><circle cx="1770.7" cy="138.1" r="3.3"/><circle cx="1773.9" cy="237.3" r="3.3"/><circle cx="1825.4" cy="261.1" r="3.3"/><circle cx="1841.1" cy="122.1" r="3.3"/><circle cx="1833.8" cy="196.8" r="3.3"/><circle cx="1767.8" cy="298.7" r="3.3"/><circle cx="1790.1" cy="235.5" r="3.3"/><circle cx="1853.8" cy="335.4" r="3.3"/><circle cx="1791.2" cy="242.5" r="3.3"/><circle cx="1819.1" cy="388.0" r="3.3"/><circle cx="1877.1" cy="265.9" r="3.3"/><circle cx="1808.7" cy="368.7" r="3.3"/><circle cx="1837.6" cy="233.8" r="3.3"/><circle cx="1815.6" cy="104.6" r="3.3"/><circle cx="1820.2" cy="308.1" r="3.3"/><circle cx="1812.1" cy="136.3" r="3.3"/><circle cx="1854.3" cy="258.2" r="3.3"/><circle cx="1791.1" cy="210.5" r="3.3"/><circle cx="1891.1" cy="335.3" r="3.3"/><circle cx="1720.3" cy="295.0" r="3.3"/><circle cx="1756.4" cy="146.0" r="3.3"/><circle cx="1762.9" cy="216.6" r="3.3"/><circle cx="1866.2" cy="269.7" r="3.3"/><circle cx="1815.6" cy="253.6" r="3.3"/><circle cx="1721.2" cy="323.2" r="3.3"/><circle cx="1740.9" cy="224.6" r="3.3"/><circle cx="1724.8" cy="138.7" r="3.3"/><circle cx="1778.3" cy="205.4" r="3.3"/><circle cx="1812.8" cy="257.2" r="3.3"/><circle cx="1745.8" cy="285.0" r="3.3"/><circle cx="1832.6" cy="369.2" r="3.3"/><circle cx="1856.9" cy="267.2" r="3.3"/><circle cx="1725.0" cy="289.8" r="3.3"/><circle cx="1817.5" cy="215.5" r="3.3"/><circle cx="1793.4" cy="263.0" r="3.3"/><circle cx="1737.2" cy="295.3" r="3.3"/><circle cx="1827.6" cy="380.3" r="3.3"/><circle cx="1865.2" cy="259.6" r="3.3"/><circle cx="1770.8" cy="261.1" r="3.3"/><circle cx="1815.5" cy="177.4" r="3.3"/><circle cx="1799.4" cy="372.1" r="3.3"/><circle cx="1861.6" cy="230.0" r="3.3"/><circle cx="1821.0" cy="276.2" r="3.3"/><circle cx="1827.5" cy="280.1" r="3.3"/><circle cx="1746.4" cy="130.4" r="3.3"/><circle cx="1789.8" cy="375.9" r="3.3"/><circle cx="1840.6" cy="349.0" r="3.3"/><circle cx="1843.0" cy="249.0" r="3.3"/><circle cx="1831.3" cy="265.1" r="3.3"/><circle cx="1891.5" cy="294.2" r="3.3"/><circle cx="1794.7" cy="347.1" r="3.3"/><circle cx="1763.5" cy="262.6" r="3.3"/><circle cx="1794.3" cy="224.0" r="3.3"/><circle cx="1862.8" cy="157.3" r="3.3"/><circle cx="1745.7" cy="138.2" r="3.3"/><circle cx="1767.1" cy="268.4" r="3.3"/><circle cx="1850.0" cy="385.9" r="3.3"/><circle cx="1835.1" cy="347.6" r="3.3"/><circle cx="1900.0" cy="300.2" r="3.3"/><circle cx="1764.2" cy="256.8" r="3.3"/><circle cx="1796.2" cy="227.2" r="3.3"/><circle cx="1863.7" cy="245.4" r="3.3"/><circle cx="1739.1" cy="356.4" r="3.3"/><circle cx="1900.0" cy="231.2" r="3.3"/><circle cx="1856.8" cy="358.7" r="3.3"/><circle cx="1853.1" cy="242.2" r="3.3"/><circle cx="1834.4" cy="338.8" r="3.3"/><circle cx="1839.5" cy="181.7" r="3.3"/><circle cx="1843.5" cy="124.0" r="3.3"/><circle cx="1899.8" cy="225.0" r="3.3"/><circle cx="1897.6" cy="343.1" r="3.3"/><circle cx="1860.9" cy="258.0" r="3.3"/><circle cx="1765.9" cy="266.3" r="3.3"/><circle cx="1850.8" cy="307.3" r="3.3"/><circle cx="1860.1" cy="204.1" r="3.3"/><circle cx="1847.7" cy="335.2" r="3.3"/><circle cx="1783.5" cy="230.2" r="3.3"/><circle cx="1814.5" cy="389.0" r="3.3"/><circle cx="1791.6" cy="231.7" r="3.3"/><circle cx="1747.1" cy="351.2" r="3.3"/><circle cx="1875.0" cy="224.7" r="3.3"/><circle cx="1725.7" cy="195.2" r="3.3"/><circle cx="1813.3" cy="348.9" r="3.3"/><circle cx="1741.8" cy="112.5" r="3.3"/><circle cx="1846.2" cy="149.9" r="3.3"/><circle cx="1849.6" cy="207.0" r="3.3"/><circle cx="1839.5" cy="167.7" r="3.3"/><circle cx="1781.6" cy="96.9" r="3.3"/><circle cx="1873.1" cy="172.0" r="3.3"/><circle cx="1823.8" cy="272.4" r="3.3"/><circle cx="1890.2" cy="301.9" r="3.3"/><circle cx="1773.0" cy="319.6" r="3.3"/><circle cx="1774.6" cy="234.2" r="3.3"/><circle cx="1810.1" cy="260.1" r="3.3"/><circle cx="1874.9" cy="276.0" r="3.3"/><circle cx="1839.7" cy="248.0" r="3.3"/><circle cx="1850.4" cy="177.5" r="3.3"/><circle cx="1818.4" cy="364.5" r="3.3"/><circle cx="1807.8" cy="309.5" r="3.3"/><circle cx="1786.7" cy="267.1" r="3.3"/><circle cx="1721.0" cy="315.8" r="3.3"/><circle cx="1854.2" cy="181.8" r="3.3"/><circle cx="1864.5" cy="224.5" r="3.3"/><circle cx="1783.9" cy="371.7" r="3.3"/><circle cx="1758.7" cy="107.7" r="3.3"/><circle cx="1720.4" cy="289.2" r="3.3"/><circle cx="1845.2" cy="317.0" r="3.3"/><circle cx="1776.6" cy="213.5" r="3.3"/><circle cx="1745.9" cy="159.1" r="3.3"/><circle cx="1822.1" cy="110.2" r="3.3"/><circle cx="1830.7" cy="361.2" r="3.3"/><circle cx="1776.5" cy="367.7" r="3.3"/><circle cx="1756.8" cy="262.1" r="3.3"/><circle cx="1798.3" cy="238.9" r="3.3"/><circle cx="1742.0" cy="302.8" r="3.3"/><circle cx="1849.3" cy="339.8" r="3.3"/><circle cx="1820.1" cy="215.7" r="3.3"/><circle cx="1740.5" cy="278.8" r="3.3"/><circle cx="1808.7" cy="220.8" r="3.3"/><circle cx="1831.6" cy="298.4" r="3.3"/><circle cx="1856.3" cy="230.3" r="3.3"/><circle cx="1857.8" cy="205.8" r="3.3"/><circle cx="1900.1" cy="288.2" r="3.3"/><circle cx="1809.3" cy="388.3" r="3.3"/><circle cx="1742.8" cy="145.8" r="3.3"/><circle cx="1839.7" cy="353.9" r="3.3"/><circle cx="1874.1" cy="189.3" r="3.3"/><circle cx="1875.6" cy="211.8" r="3.3"/><circle cx="1803.4" cy="189.9" r="3.3"/><circle cx="1891.4" cy="351.3" r="3.3"/><circle cx="1738.0" cy="98.9" r="3.3"/><circle cx="1904.3" cy="320.6" r="3.3"/><circle cx="1869.2" cy="274.7" r="3.3"/><circle cx="1737.5" cy="259.9" r="3.3"/><circle cx="1858.9" cy="305.7" r="3.3"/><circle cx="1820.2" cy="358.3" r="3.3"/><circle cx="1802.9" cy="377.0" r="3.3"/><circle cx="1788.6" cy="155.1" r="3.3"/><circle cx="1797.1" cy="227.3" r="3.3"/><circle cx="1871.7" cy="196.8" r="3.3"/><circle cx="1731.3" cy="189.4" r="3.3"/><circle cx="1801.9" cy="206.7" r="3.3"/><circle cx="1856.0" cy="290.7" r="3.3"/><circle cx="1775.1" cy="209.4" r="3.3"/><circle cx="1776.7" cy="316.5" r="3.3"/><circle cx="1842.5" cy="362.1" r="3.3"/><circle cx="1837.5" cy="222.1" r="3.3"/><circle cx="1793.3" cy="309.0" r="3.3"/><circle cx="1822.6" cy="150.3" r="3.3"/><circle cx="1832.6" cy="159.0" r="3.3"/><circle cx="1784.3" cy="245.7" r="3.3"/><circle cx="1816.2" cy="207.7" r="3.3"/><circle cx="1827.4" cy="364.2" r="3.3"/><circle cx="1794.1" cy="209.2" r="3.3"/><circle cx="1746.2" cy="216.9" r="3.3"/><circle cx="1835.7" cy="349.0" r="3.3"/><circle cx="1789.3" cy="248.5" r="3.3"/><circle cx="1818.3" cy="207.2" r="3.3"/><circle cx="1901.4" cy="313.1" r="3.3"/><circle cx="1749.3" cy="242.1" r="3.3"/><circle cx="1905.3" cy="244.4" r="3.3"/><circle cx="1759.6" cy="340.6" r="3.3"/><circle cx="1741.5" cy="192.7" r="3.3"/><circle cx="1828.8" cy="260.9" r="3.3"/><circle cx="1869.1" cy="232.5" r="3.3"/><circle cx="1835.1" cy="322.6" r="3.3"/><circle cx="1805.0" cy="224.2" r="3.3"/><circle cx="1790.7" cy="381.0" r="3.3"/><circle cx="1842.9" cy="355.3" r="3.3"/><circle cx="1828.6" cy="333.3" r="3.3"/><circle cx="1826.5" cy="122.0" r="3.3"/><circle cx="1820.8" cy="385.6" r="3.3"/><circle cx="1803.8" cy="336.7" r="3.3"/><circle cx="1795.6" cy="97.2" r="3.3"/><circle cx="1821.7" cy="363.0" r="3.3"/><circle cx="1791.8" cy="111.7" r="3.3"/><circle cx="1773.1" cy="140.5" r="3.3"/><circle cx="1817.3" cy="355.3" r="3.3"/><circle cx="1752.9" cy="307.3" r="3.3"/><circle cx="1765.5" cy="257.4" r="3.3"/><circle cx="1908.7" cy="328.9" r="3.3"/><circle cx="1878.4" cy="174.0" r="3.3"/><circle cx="1797.9" cy="158.7" r="3.3"/><circle cx="1884.5" cy="251.4" r="3.3"/><circle cx="1873.2" cy="360.9" r="3.3"/><circle cx="1907.6" cy="305.5" r="3.3"/><circle cx="1794.6" cy="221.2" r="3.3"/><circle cx="1720.9" cy="300.5" r="3.3"/><circle cx="1753.4" cy="362.6" r="3.3"/><circle cx="1787.1" cy="138.8" r="3.3"/><circle cx="1719.4" cy="228.5" r="3.3"/><circle cx="1787.1" cy="111.4" r="3.3"/><circle cx="1871.2" cy="227.9" r="3.3"/><circle cx="1772.2" cy="367.4" r="3.3"/><circle cx="1870.5" cy="251.2" r="3.3"/><circle cx="1845.6" cy="260.9" r="3.3"/><circle cx="1888.5" cy="312.2" r="3.3"/><circle cx="1766.8" cy="259.1" r="3.3"/><circle cx="1899.5" cy="284.6" r="3.3"/><circle cx="1808.2" cy="196.7" r="3.3"/><circle cx="1804.6" cy="357.4" r="3.3"/><circle cx="1782.6" cy="359.7" r="3.3"/><circle cx="1795.3" cy="225.6" r="3.3"/><circle cx="1802.7" cy="113.2" r="3.3"/><circle cx="1728.4" cy="275.1" r="3.3"/><circle cx="1795.6" cy="277.1" r="3.3"/><circle cx="1870.3" cy="279.2" r="3.3"/><circle cx="1807.7" cy="217.7" r="3.3"/><circle cx="1737.4" cy="287.7" r="3.3"/><circle cx="1722.8" cy="245.7" r="3.3"/><circle cx="1738.7" cy="87.0" r="3.3"/><circle cx="1786.6" cy="234.4" r="3.3"/><circle cx="1793.9" cy="358.2" r="3.3"/><circle cx="1830.9" cy="253.2" r="3.3"/><circle cx="1719.4" cy="267.4" r="3.3"/><circle cx="1834.0" cy="187.2" r="3.3"/><circle cx="1759.1" cy="234.2" r="3.3"/><circle cx="1874.2" cy="201.2" r="3.3"/><circle cx="1789.4" cy="235.8" r="3.3"/><circle cx="1871.0" cy="204.5" r="3.3"/><circle cx="1776.9" cy="158.6" r="3.3"/><circle cx="1790.3" cy="271.5" r="3.3"/><circle cx="1765.2" cy="97.6" r="3.3"/><circle cx="1853.3" cy="244.5" r="3.3"/><circle cx="1892.3" cy="234.8" r="3.3"/><circle cx="1758.3" cy="108.7" r="3.3"/><circle cx="1730.4" cy="243.0" r="3.3"/><circle cx="1842.8" cy="243.1" r="3.3"/><circle cx="1856.4" cy="238.6" r="3.3"/><circle cx="1743.1" cy="267.6" r="3.3"/><circle cx="1757.9" cy="364.4" r="3.3"/><circle cx="1743.8" cy="109.5" r="3.3"/><circle cx="1830.9" cy="229.3" r="3.3"/><circle cx="1808.4" cy="211.6" r="3.3"/><circle cx="1817.1" cy="285.4" r="3.3"/><circle cx="1744.5" cy="351.8" r="3.3"/><circle cx="1823.0" cy="165.2" r="3.3"/><circle cx="1786.9" cy="226.0" r="3.3"/><circle cx="1830.1" cy="289.1" r="3.3"/><circle cx="1761.8" cy="318.6" r="3.3"/><circle cx="1870.0" cy="321.2" r="3.3"/><circle cx="1871.2" cy="181.5" r="3.3"/><circle cx="1824.9" cy="375.9" r="3.3"/><circle cx="1790.4" cy="264.6" r="3.3"/><circle cx="1761.5" cy="216.9" r="3.3"/><circle cx="1851.6" cy="177.3" r="3.3"/><circle cx="1785.3" cy="201.1" r="3.3"/><circle cx="1793.5" cy="202.9" r="3.3"/><circle cx="1751.1" cy="310.7" r="3.3"/><circle cx="1805.3" cy="364.3" r="3.3"/><circle cx="1749.1" cy="317.1" r="3.3"/><circle cx="1731.4" cy="101.2" r="3.3"/><circle cx="1813.3" cy="360.8" r="3.3"/><circle cx="1831.0" cy="339.8" r="3.3"/><circle cx="1834.9" cy="248.9" r="3.3"/><circle cx="1746.4" cy="288.9" r="3.3"/><circle cx="1773.6" cy="360.0" r="3.3"/><circle cx="1855.6" cy="176.6" r="3.3"/><circle cx="1781.8" cy="368.6" r="3.3"/><circle cx="1788.8" cy="237.0" r="3.3"/><circle cx="1780.9" cy="224.8" r="3.3"/><circle cx="1804.0" cy="151.0" r="3.3"/><circle cx="1781.2" cy="318.4" r="3.3"/><circle cx="1867.4" cy="174.9" r="3.3"/><circle cx="1867.5" cy="280.8" r="3.3"/><circle cx="1759.8" cy="93.9" r="3.3"/><circle cx="1756.9" cy="161.6" r="3.3"/><circle cx="1736.5" cy="345.7" r="3.3"/><circle cx="1875.8" cy="184.5" r="3.3"/><circle cx="1838.8" cy="376.8" r="3.3"/><circle cx="1806.7" cy="103.8" r="3.3"/><circle cx="1849.1" cy="388.7" r="3.3"/><circle cx="1782.1" cy="282.8" r="3.3"/><circle cx="1804.8" cy="243.7" r="3.3"/><circle cx="1865.1" cy="246.8" r="3.3"/><circle cx="1843.3" cy="173.8" r="3.3"/><circle cx="1760.9" cy="357.4" r="3.3"/><circle cx="1742.1" cy="137.7" r="3.3"/><circle cx="1757.4" cy="242.6" r="3.3"/><circle cx="1749.6" cy="145.2" r="3.3"/><circle cx="1776.5" cy="264.3" r="3.3"/><circle cx="1756.8" cy="354.2" r="3.3"/><circle cx="1787.5" cy="201.8" r="3.3"/><circle cx="1811.2" cy="322.6" r="3.3"/><circle cx="1777.0" cy="172.1" r="3.3"/><circle cx="1790.3" cy="210.3" r="3.3"/><circle cx="1861.6" cy="203.8" r="3.3"/><circle cx="1792.3" cy="260.9" r="3.3"/><circle cx="1849.8" cy="353.1" r="3.3"/><circle cx="1775.8" cy="225.1" r="3.3"/><circle cx="1842.8" cy="165.2" r="3.3"/><circle cx="1849.7" cy="163.0" r="3.3"/><circle cx="1831.3" cy="366.3" r="3.3"/><circle cx="1754.4" cy="216.0" r="3.3"/><circle cx="1831.5" cy="259.9" r="3.3"/><circle cx="1831.3" cy="313.8" r="3.3"/><circle cx="1749.8" cy="297.4" r="3.3"/><circle cx="1819.5" cy="288.8" r="3.3"/><circle cx="1786.9" cy="239.5" r="3.3"/><circle cx="1815.2" cy="117.7" r="3.3"/><circle cx="1768.0" cy="366.7" r="3.3"/><circle cx="1838.8" cy="356.0" r="3.3"/><circle cx="1856.6" cy="264.8" r="3.3"/><circle cx="1737.3" cy="102.3" r="3.3"/><circle cx="1830.4" cy="147.9" r="3.3"/><circle cx="1781.8" cy="114.6" r="3.3"/><circle cx="1875.7" cy="198.9" r="3.3"/><circle cx="1845.4" cy="232.5" r="3.3"/><circle cx="1726.7" cy="336.9" r="3.3"/><circle cx="1871.6" cy="192.6" r="3.3"/><circle cx="1900.2" cy="232.7" r="3.3"/><circle cx="1737.3" cy="204.1" r="3.3"/><circle cx="1886.3" cy="358.5" r="3.3"/><circle cx="1723.9" cy="239.6" r="3.3"/><circle cx="1764.5" cy="149.6" r="3.3"/><circle cx="1735.1" cy="219.8" r="3.3"/><circle cx="1812.6" cy="198.3" r="3.3"/><circle cx="1868.8" cy="221.8" r="3.3"/><circle cx="1846.7" cy="373.1" r="3.3"/><circle cx="1813.1" cy="333.1" r="3.3"/><circle cx="1842.5" cy="201.6" r="3.3"/><circle cx="1791.7" cy="284.9" r="3.3"/><circle cx="1778.0" cy="268.6" r="3.3"/><circle cx="1755.2" cy="297.3" r="3.3"/><circle cx="1849.4" cy="333.5" r="3.3"/><circle cx="1760.8" cy="207.3" r="3.3"/><circle cx="1814.6" cy="226.4" r="3.3"/><circle cx="1810.4" cy="343.6" r="3.3"/><circle cx="1854.2" cy="201.5" r="3.3"/><circle cx="1845.5" cy="349.8" r="3.3"/><circle cx="1783.2" cy="296.2" r="3.3"/><circle cx="1793.5" cy="249.0" r="3.3"/><circle cx="1800.2" cy="194.2" r="3.3"/><circle cx="1855.2" cy="226.9" r="3.3"/><circle cx="1758.4" cy="335.9" r="3.3"/><circle cx="1783.4" cy="219.5" r="3.3"/><circle cx="1750.1" cy="312.1" r="3.3"/><circle cx="1776.4" cy="270.5" r="3.3"/><circle cx="1753.0" cy="227.2" r="3.3"/><circle cx="1847.3" cy="243.3" r="3.3"/><circle cx="1752.9" cy="235.3" r="3.3"/><circle cx="1721.6" cy="257.9" r="3.3"/><circle cx="1812.4" cy="246.2" r="3.3"/><circle cx="1881.4" cy="256.1" r="3.3"/><circle cx="1815.8" cy="197.4" r="3.3"/><circle cx="1799.7" cy="380.2" r="3.3"/><circle cx="1884.7" cy="272.4" r="3.3"/><circle cx="1910.9" cy="273.6" r="3.3"/><circle cx="1832.3" cy="365.2" r="3.3"/><circle cx="1829.3" cy="356.9" r="3.3"/><circle cx="1845.1" cy="341.0" r="3.3"/><circle cx="1722.8" cy="272.8" r="3.3"/><circle cx="1781.6" cy="111.1" r="3.3"/><circle cx="1746.1" cy="333.9" r="3.3"/><circle cx="1826.9" cy="242.7" r="3.3"/><circle cx="1779.5" cy="217.8" r="3.3"/><circle cx="1793.3" cy="191.6" r="3.3"/><circle cx="1820.8" cy="270.0" r="3.3"/><circle cx="1742.5" cy="86.1" r="3.3"/><circle cx="1783.2" cy="228.4" r="3.3"/><circle cx="1854.7" cy="140.6" r="3.3"/><circle cx="1815.1" cy="169.8" r="3.3"/><circle cx="1825.1" cy="238.0" r="3.3"/><circle cx="1799.9" cy="243.0" r="3.3"/><circle cx="1810.7" cy="245.0" r="3.3"/><circle cx="1889.8" cy="302.4" r="3.3"/><circle cx="1837.2" cy="369.4" r="3.3"/><circle cx="1856.1" cy="303.9" r="3.3"/><circle cx="1797.9" cy="146.0" r="3.3"/><circle cx="1794.0" cy="232.2" r="3.3"/><circle cx="1790.1" cy="118.7" r="3.3"/><circle cx="1884.2" cy="240.4" r="3.3"/><circle cx="1756.1" cy="249.4" r="3.3"/><circle cx="1844.9" cy="221.2" r="3.3"/><circle cx="1857.3" cy="361.1" r="3.3"/><circle cx="1864.5" cy="264.5" r="3.3"/><circle cx="1780.7" cy="323.3" r="3.3"/><circle cx="1801.9" cy="174.1" r="3.3"/><circle cx="1765.8" cy="131.0" r="3.3"/><circle cx="1829.0" cy="382.3" r="3.3"/><circle cx="1853.6" cy="241.0" r="3.3"/><circle cx="1735.4" cy="99.1" r="3.3"/><circle cx="1872.0" cy="224.9" r="3.3"/><circle cx="1810.5" cy="350.0" r="3.3"/><circle cx="1753.0" cy="83.3" r="3.3"/><circle cx="1784.5" cy="226.5" r="3.3"/><circle cx="1820.2" cy="199.9" r="3.3"/><circle cx="1758.5" cy="203.8" r="3.3"/><circle cx="1776.2" cy="232.1" r="3.3"/><circle cx="1855.6" cy="363.3" r="3.3"/><circle cx="1826.3" cy="192.3" r="3.3"/><circle cx="1839.8" cy="120.0" r="3.3"/><circle cx="1819.3" cy="382.5" r="3.3"/><circle cx="1750.1" cy="169.3" r="3.3"/><circle cx="1794.8" cy="298.3" r="3.3"/><circle cx="1749.9" cy="319.1" r="3.3"/><circle cx="1868.8" cy="209.1" r="3.3"/><circle cx="1815.4" cy="309.6" r="3.3"/><circle cx="1867.5" cy="218.2" r="3.3"/><circle cx="1877.6" cy="205.0" r="3.3"/><circle cx="1775.2" cy="254.4" r="3.3"/><circle cx="1768.9" cy="125.1" r="3.3"/><circle cx="1859.3" cy="171.0" r="3.3"/><circle cx="1791.8" cy="288.6" r="3.3"/><circle cx="1824.5" cy="339.8" r="3.3"/><circle cx="1883.6" cy="284.3" r="3.3"/><circle cx="1804.2" cy="312.5" r="3.3"/><circle cx="1858.6" cy="337.1" r="3.3"/><circle cx="1721.8" cy="342.9" r="3.3"/><circle cx="1822.9" cy="340.3" r="3.3"/><circle cx="1734.3" cy="126.9" r="3.3"/><circle cx="1875.8" cy="179.7" r="3.3"/><circle cx="1765.0" cy="253.9" r="3.3"/><circle cx="1786.2" cy="173.3" r="3.3"/><circle cx="1850.8" cy="307.8" r="3.3"/><circle cx="1849.4" cy="130.3" r="3.3"/><circle cx="1845.9" cy="266.9" r="3.3"/><circle cx="1846.0" cy="376.3" r="3.3"/><circle cx="1755.3" cy="354.5" r="3.3"/><circle cx="1834.1" cy="357.0" r="3.3"/><circle cx="1772.0" cy="364.7" r="3.3"/><circle cx="1792.0" cy="255.8" r="3.3"/><circle cx="1789.3" cy="355.6" r="3.3"/><circle cx="1821.6" cy="388.1" r="3.3"/><circle cx="1733.1" cy="107.3" r="3.3"/><circle cx="1746.8" cy="140.4" r="3.3"/><circle cx="1853.1" cy="177.2" r="3.3"/><circle cx="1783.1" cy="328.7" r="3.3"/><circle cx="1901.5" cy="225.9" r="3.3"/><circle cx="1795.5" cy="160.1" r="3.3"/><circle cx="1732.8" cy="300.7" r="3.3"/><circle cx="1781.4" cy="230.3" r="3.3"/><circle cx="1867.3" cy="229.4" r="3.3"/><circle cx="1806.4" cy="215.7" r="3.3"/><circle cx="1863.4" cy="384.4" r="3.3"/><circle cx="1747.5" cy="236.0" r="3.3"/><circle cx="1837.0" cy="349.3" r="3.3"/><circle cx="1810.2" cy="356.2" r="3.3"/><circle cx="1735.9" cy="308.9" r="3.3"/><circle cx="1874.2" cy="288.7" r="3.3"/><circle cx="1771.1" cy="147.5" r="3.3"/><circle cx="1883.6" cy="218.5" r="3.3"/><circle cx="1867.8" cy="204.9" r="3.3"/><circle cx="1736.7" cy="87.8" r="3.3"/><circle cx="1856.4" cy="272.4" r="3.3"/><circle cx="1735.1" cy="139.4" r="3.3"/><circle cx="1812.4" cy="197.3" r="3.3"/><circle cx="1849.9" cy="242.1" r="3.3"/><circle cx="1821.5" cy="340.3" r="3.3"/><circle cx="1793.3" cy="223.7" r="3.3"/><circle cx="1775.6" cy="306.9" r="3.3"/><circle cx="1847.5" cy="164.6" r="3.3"/><circle cx="1857.1" cy="274.3" r="3.3"/><circle cx="1848.3" cy="165.7" r="3.3"/><circle cx="1840.7" cy="283.9" r="3.3"/><circle cx="1724.9" cy="317.5" r="3.3"/><circle cx="1804.1" cy="236.9" r="3.3"/><circle cx="1885.9" cy="302.9" r="3.3"/><circle cx="1806.1" cy="212.1" r="3.3"/><circle cx="1822.9" cy="247.5" r="3.3"/><circle cx="1849.6" cy="282.4" r="3.3"/><circle cx="1837.2" cy="212.4" r="3.3"/><circle cx="1827.4" cy="385.2" r="3.3"/><circle cx="1740.0" cy="352.2" r="3.3"/><circle cx="1871.5" cy="228.9" r="3.3"/><circle cx="1869.3" cy="242.6" r="3.3"/><circle cx="1873.1" cy="296.4" r="3.3"/><circle cx="1876.6" cy="271.7" r="3.3"/><circle cx="1755.1" cy="262.0" r="3.3"/><circle cx="1753.7" cy="297.9" r="3.3"/><circle cx="1818.0" cy="220.6" r="3.3"/><circle cx="1823.1" cy="388.7" r="3.3"/><circle cx="1722.7" cy="313.8" r="3.3"/><circle cx="1760.8" cy="144.0" r="3.3"/><circle cx="1874.1" cy="201.9" r="3.3"/><circle cx="1841.5" cy="265.2" r="3.3"/><circle cx="1880.2" cy="205.9" r="3.3"/><circle cx="1722.1" cy="106.2" r="3.3"/><circle cx="1808.9" cy="369.2" r="3.3"/><circle cx="1767.1" cy="121.3" r="3.3"/><circle cx="1818.1" cy="322.3" r="3.3"/><circle cx="1789.7" cy="239.2" r="3.3"/><circle cx="1884.3" cy="218.4" r="3.3"/><circle cx="1857.9" cy="265.1" r="3.3"/><circle cx="1823.3" cy="266.7" r="3.3"/><circle cx="1884.1" cy="258.0" r="3.3"/><circle cx="1801.8" cy="223.3" r="3.3"/><circle cx="1791.2" cy="198.6" r="3.3"/><circle cx="1834.8" cy="358.8" r="3.3"/><circle cx="1820.6" cy="208.3" r="3.3"/><circle cx="1774.1" cy="246.3" r="3.3"/><circle cx="1802.1" cy="338.7" r="3.3"/><circle cx="1750.1" cy="305.0" r="3.3"/><circle cx="1795.8" cy="364.7" r="3.3"/><circle cx="1725.4" cy="285.8" r="3.3"/><circle cx="1800.2" cy="197.9" r="3.3"/><circle cx="1788.9" cy="233.4" r="3.3"/><circle cx="1875.1" cy="339.6" r="3.3"/><circle cx="1861.9" cy="267.3" r="3.3"/><circle cx="1882.5" cy="364.5" r="3.3"/><circle cx="1818.9" cy="158.7" r="3.3"/><circle cx="1772.1" cy="325.9" r="3.3"/><circle cx="1846.6" cy="243.7" r="3.3"/><circle cx="1764.7" cy="286.5" r="3.3"/><circle cx="1808.5" cy="204.1" r="3.3"/><circle cx="1783.7" cy="338.9" r="3.3"/><circle cx="1778.5" cy="379.9" r="3.3"/><circle cx="1777.6" cy="241.5" r="3.3"/><circle cx="1850.7" cy="382.2" r="3.3"/><circle cx="1754.0" cy="92.1" r="3.3"/><circle cx="1747.0" cy="240.9" r="3.3"/><circle cx="1877.4" cy="195.7" r="3.3"/><circle cx="1771.2" cy="360.5" r="3.3"/><circle cx="1793.9" cy="152.2" r="3.3"/><circle cx="1854.5" cy="173.6" r="3.3"/><circle cx="1904.2" cy="292.4" r="3.3"/><circle cx="1750.9" cy="322.0" r="3.3"/><circle cx="1796.7" cy="232.7" r="3.3"/><circle cx="1765.7" cy="117.5" r="3.3"/><circle cx="1786.0" cy="215.7" r="3.3"/><circle cx="1776.1" cy="188.0" r="3.3"/><circle cx="1885.4" cy="348.3" r="3.3"/><circle cx="1799.5" cy="147.0" r="3.3"/><circle cx="1845.5" cy="127.6" r="3.3"/><circle cx="1801.1" cy="379.1" r="3.3"/><circle cx="1740.0" cy="252.3" r="3.3"/><circle cx="1849.3" cy="365.7" r="3.3"/><circle cx="1819.9" cy="166.5" r="3.3"/><circle cx="1793.5" cy="214.3" r="3.3"/><circle cx="1741.6" cy="333.1" r="3.3"/><circle cx="1871.3" cy="192.2" r="3.3"/><circle cx="1846.5" cy="178.5" r="3.3"/><circle cx="1854.3" cy="260.5" r="3.3"/><circle cx="1796.4" cy="224.1" r="3.3"/><circle cx="1903.5" cy="259.3" r="3.3"/><circle cx="1745.4" cy="313.5" r="3.3"/><circle cx="1785.1" cy="248.6" r="3.3"/><circle cx="1795.1" cy="367.3" r="3.3"/><circle cx="1830.7" cy="249.7" r="3.3"/><circle cx="1790.6" cy="358.4" r="3.3"/><circle cx="1855.8" cy="230.3" r="3.3"/><circle cx="1837.0" cy="178.1" r="3.3"/><circle cx="1782.5" cy="164.9" r="3.3"/><circle cx="1728.2" cy="348.7" r="3.3"/><circle cx="1747.8" cy="280.6" r="3.3"/><circle cx="1899.2" cy="336.3" r="3.3"/><circle cx="1823.7" cy="341.4" r="3.3"/><circle cx="1884.2" cy="277.1" r="3.3"/><circle cx="1753.6" cy="340.4" r="3.3"/><circle cx="1750.9" cy="316.2" r="3.3"/><circle cx="1810.0" cy="174.3" r="3.3"/><circle cx="1738.6" cy="214.1" r="3.3"/><circle cx="1770.9" cy="376.1" r="3.3"/><circle cx="1791.5" cy="375.2" r="3.3"/><circle cx="1808.4" cy="310.4" r="3.3"/><circle cx="1760.4" cy="319.1" r="3.3"/><circle cx="1835.2" cy="139.8" r="3.3"/><circle cx="1845.4" cy="164.6" r="3.3"/><circle cx="1831.9" cy="265.6" r="3.3"/><circle cx="1849.4" cy="184.8" r="3.3"/><circle cx="1887.6" cy="230.4" r="3.3"/><circle cx="1835.3" cy="347.3" r="3.3"/><circle cx="1894.3" cy="285.0" r="3.3"/><circle cx="1879.0" cy="262.4" r="3.3"/><circle cx="1786.0" cy="277.5" r="3.3"/><circle cx="1828.0" cy="123.1" r="3.3"/><circle cx="1873.9" cy="182.1" r="3.3"/><circle cx="1793.4" cy="195.6" r="3.3"/><circle cx="1867.5" cy="270.7" r="3.3"/><circle cx="1811.8" cy="201.9" r="3.3"/><circle cx="1763.4" cy="106.0" r="3.3"/><circle cx="1901.8" cy="271.1" r="3.3"/><circle cx="1810.3" cy="328.7" r="3.3"/><circle cx="1742.1" cy="303.5" r="3.3"/><circle cx="1740.2" cy="120.2" r="3.3"/><circle cx="1785.9" cy="190.9" r="3.3"/><circle cx="1889.9" cy="332.4" r="3.3"/><circle cx="1720.7" cy="309.3" r="3.3"/><circle cx="1875.7" cy="199.8" r="3.3"/><circle cx="1845.2" cy="289.5" r="3.3"/><circle cx="1900.2" cy="328.3" r="3.3"/><circle cx="1861.6" cy="196.8" r="3.3"/><circle cx="1815.3" cy="100.1" r="3.3"/><circle cx="1838.3" cy="171.0" r="3.3"/><circle cx="1724.7" cy="157.0" r="3.3"/><circle cx="1770.2" cy="268.0" r="3.3"/><circle cx="1721.5" cy="203.3" r="3.3"/><circle cx="1752.6" cy="323.4" r="3.3"/><circle cx="1875.0" cy="266.0" r="3.3"/><circle cx="1894.1" cy="320.2" r="3.3"/><circle cx="1884.4" cy="237.6" r="3.3"/><circle cx="1783.8" cy="343.7" r="3.3"/><circle cx="1821.4" cy="216.3" r="3.3"/><circle cx="1866.8" cy="164.8" r="3.3"/><circle cx="1867.2" cy="176.1" r="3.3"/><circle cx="1871.5" cy="280.2" r="3.3"/><circle cx="1874.7" cy="274.2" r="3.3"/><circle cx="1809.0" cy="190.0" r="3.3"/><circle cx="1729.6" cy="307.7" r="3.3"/><circle cx="1897.3" cy="263.5" r="3.3"/><circle cx="1772.6" cy="90.9" r="3.3"/><circle cx="1805.0" cy="240.7" r="3.3"/><circle cx="1722.7" cy="274.5" r="3.3"/><circle cx="1816.7" cy="328.5" r="3.3"/><circle cx="1724.1" cy="311.4" r="3.3"/><circle cx="1835.3" cy="166.4" r="3.3"/><circle cx="1822.2" cy="121.2" r="3.3"/><circle cx="1835.4" cy="290.3" r="3.3"/><circle cx="1895.0" cy="288.4" r="3.3"/><circle cx="1804.8" cy="214.7" r="3.3"/><circle cx="1868.2" cy="211.2" r="3.3"/><circle cx="1881.4" cy="231.8" r="3.3"/><circle cx="1737.4" cy="356.4" r="3.3"/><circle cx="1795.7" cy="258.1" r="3.3"/><circle cx="1832.4" cy="276.9" r="3.3"/><circle cx="1726.6" cy="315.3" r="3.3"/><circle cx="1804.8" cy="211.6" r="3.3"/><circle cx="1743.9" cy="140.8" r="3.3"/><circle cx="1832.8" cy="199.4" r="3.3"/><circle cx="1802.8" cy="243.0" r="3.3"/><circle cx="1810.4" cy="214.3" r="3.3"/><circle cx="1816.2" cy="374.8" r="3.3"/><circle cx="1748.4" cy="313.7" r="3.3"/><circle cx="1895.0" cy="257.9" r="3.3"/><circle cx="1745.1" cy="148.1" r="3.3"/><circle cx="1822.4" cy="334.2" r="3.3"/><circle cx="1895.6" cy="308.2" r="3.3"/><circle cx="1741.0" cy="362.5" r="3.3"/><circle cx="1789.9" cy="221.0" r="3.3"/><circle cx="1796.7" cy="144.8" r="3.3"/><circle cx="1725.2" cy="114.7" r="3.3"/><circle cx="1754.7" cy="258.5" r="3.3"/><circle cx="1772.5" cy="145.5" r="3.3"/><circle cx="1883.8" cy="318.7" r="3.3"/><circle cx="1725.3" cy="299.3" r="3.3"/><circle cx="1887.3" cy="293.0" r="3.3"/><circle cx="1833.6" cy="253.9" r="3.3"/><circle cx="1887.0" cy="232.1" r="3.3"/><circle cx="1781.2" cy="366.4" r="3.3"/><circle cx="1747.1" cy="260.3" r="3.3"/><circle cx="1873.7" cy="236.8" r="3.3"/><circle cx="1763.3" cy="174.5" r="3.3"/><circle cx="1795.0" cy="369.9" r="3.3"/><circle cx="1859.3" cy="237.5" r="3.3"/><circle cx="1826.6" cy="390.1" r="3.3"/><circle cx="1836.1" cy="123.7" r="3.3"/><circle cx="1721.9" cy="202.3" r="3.3"/><circle cx="1786.2" cy="223.6" r="3.3"/><circle cx="1818.3" cy="196.9" r="3.3"/><circle cx="1864.1" cy="248.6" r="3.3"/><circle cx="1880.0" cy="227.0" r="3.3"/><circle cx="1795.4" cy="340.3" r="3.3"/><circle cx="1822.7" cy="371.9" r="3.3"/><circle cx="1752.8" cy="330.8" r="3.3"/><circle cx="1786.8" cy="219.0" r="3.3"/><circle cx="1763.4" cy="376.7" r="3.3"/><circle cx="1774.2" cy="112.3" r="3.3"/><circle cx="1811.4" cy="368.4" r="3.3"/><circle cx="1765.2" cy="88.5" r="3.3"/><circle cx="1790.0" cy="254.9" r="3.3"/><circle cx="1867.9" cy="197.5" r="3.3"/><circle cx="1734.0" cy="209.8" r="3.3"/><circle cx="1797.6" cy="315.8" r="3.3"/><circle cx="1829.8" cy="351.4" r="3.3"/><circle cx="1780.1" cy="305.9" r="3.3"/><circle cx="1812.2" cy="318.5" r="3.3"/><circle cx="1795.2" cy="176.4" r="3.3"/><circle cx="1867.7" cy="256.5" r="3.3"/><circle cx="1843.7" cy="127.6" r="3.3"/><circle cx="1778.2" cy="234.2" r="3.3"/><circle cx="1746.9" cy="104.2" r="3.3"/><circle cx="1736.1" cy="279.5" r="3.3"/><circle cx="1730.7" cy="283.1" r="3.3"/><circle cx="1806.7" cy="353.5" r="3.3"/><circle cx="1795.9" cy="163.2" r="3.3"/><circle cx="1732.8" cy="131.0" r="3.3"/><circle cx="1875.7" cy="256.4" r="3.3"/><circle cx="1842.7" cy="203.5" r="3.3"/><circle cx="1834.9" cy="386.9" r="3.3"/><circle cx="1837.1" cy="368.9" r="3.3"/><circle cx="1740.5" cy="259.2" r="3.3"/><circle cx="1792.5" cy="232.2" r="3.3"/><circle cx="1797.0" cy="155.5" r="3.3"/><circle cx="1880.5" cy="259.3" r="3.3"/><circle cx="1870.6" cy="298.5" r="3.3"/><circle cx="1752.5" cy="318.1" r="3.3"/><circle cx="1781.4" cy="369.4" r="3.3"/><circle cx="1874.3" cy="245.9" r="3.3"/><circle cx="1854.2" cy="169.3" r="3.3"/><circle cx="1840.3" cy="237.2" r="3.3"/><circle cx="1887.3" cy="319.0" r="3.3"/><circle cx="1725.2" cy="92.2" r="3.3"/><circle cx="1729.9" cy="113.7" r="3.3"/><circle cx="1882.1" cy="182.6" r="3.3"/><circle cx="1831.5" cy="379.9" r="3.3"/><circle cx="1814.9" cy="312.2" r="3.3"/><circle cx="1779.7" cy="373.4" r="3.3"/><circle cx="1797.1" cy="282.8" r="3.3"/><circle cx="1778.1" cy="259.3" r="3.3"/><circle cx="1753.8" cy="268.9" r="3.3"/><circle cx="1733.5" cy="310.7" r="3.3"/><circle cx="1749.0" cy="285.5" r="3.3"/><circle cx="1785.3" cy="221.7" r="3.3"/><circle cx="1769.0" cy="237.1" r="3.3"/><circle cx="1775.8" cy="156.6" r="3.3"/><circle cx="1754.3" cy="325.8" r="3.3"/><circle cx="1801.8" cy="286.1" r="3.3"/><circle cx="1796.7" cy="196.5" r="3.3"/><circle cx="1735.4" cy="326.2" r="3.3"/><circle cx="1840.0" cy="232.5" r="3.3"/><circle cx="1780.4" cy="260.3" r="3.3"/><circle cx="1785.8" cy="234.2" r="3.3"/><circle cx="1777.1" cy="229.8" r="3.3"/><circle cx="1852.3" cy="312.8" r="3.3"/><circle cx="1776.7" cy="228.9" r="3.3"/><circle cx="1815.3" cy="188.1" r="3.3"/><circle cx="1743.0" cy="187.8" r="3.3"/><circle cx="1777.7" cy="323.8" r="3.3"/><circle cx="1894.6" cy="293.2" r="3.3"/><circle cx="1801.8" cy="349.4" r="3.3"/><circle cx="1789.3" cy="189.9" r="3.3"/><circle cx="1863.4" cy="370.6" r="3.3"/><circle cx="1746.4" cy="279.2" r="3.3"/><circle cx="1746.9" cy="275.5" r="3.3"/><circle cx="1827.8" cy="373.7" r="3.3"/><circle cx="1738.4" cy="336.5" r="3.3"/>
</g>
<path d="M1692.3,92.8 L1653.0,80.0 L1617.0,84.5 L1565.4,118.6 L1536.2,161.3 L1520.4,197.2 L1504.7,233.2 L1494.6,262.4 L1493.5,275.8 L1498.0,325.3 L1529.4,383.7 L1587.8,401.6 L1646.2,377.0 L1691.1,350.0 Z" fill="none" stroke="#222" stroke-width="2.4" stroke-linejoin="round"/>
<path d="M1715.8,91.7 L1755.2,81.1 L1791.1,83.8 L1812.4,93.9 L1843.9,118.6 L1879.8,174.8 L1900.0,219.7 L1911.3,264.6 L1913.5,273.6 L1909.0,329.8 L1879.8,379.2 L1823.7,399.4 L1769.8,381.4 L1719.2,350.0 Z" fill="none" stroke="#222" stroke-width="2.4" stroke-linejoin="round"/>
<path d="M1555.2,156.8 L1575.5,156.8 L1584.4,174.8 L1583.3,206.2 L1555.2,178.1 Z" fill="none" stroke="#e8325a" stroke-width="2.3" stroke-linejoin="round"/>
<path d="M1531.7,183.8 L1545.1,172.5 L1583.3,227.6 L1572.1,222.0 L1554.1,231.0 L1538.4,253.4 L1537.3,266.9 L1530.5,264.6 Z" fill="none" stroke="#e8325a" stroke-width="2.3" stroke-linejoin="round"/>
<path d="M1554.1,231.0 L1572.1,222.0 L1585.6,237.7 L1592.3,255.6 L1590.1,280.3 L1569.8,300.6 L1551.9,300.6 L1536.2,278.1 L1538.4,253.4 Z" fill="none" stroke="#e8325a" stroke-width="2.3" stroke-linejoin="round"/>
<path d="M1590.1,174.8 L1619.3,206.2 L1614.8,217.5 L1602.4,223.1 L1590.1,217.5 L1588.9,197.2 Z" fill="none" stroke="#e8325a" stroke-width="2.3" stroke-linejoin="round"/>
<path d="M1628.2,210.7 L1648.5,225.3 L1641.7,243.3 L1623.8,248.9 L1612.5,235.4 L1614.8,226.4 Z" fill="none" stroke="#e8325a" stroke-width="2.3" stroke-linejoin="round"/>
<path d="M1602.4,232.1 L1621.5,246.6 L1641.7,237.7 L1655.2,243.3 L1655.2,255.6 L1647.3,270.2 L1614.8,272.5 L1605.8,264.6 Z" fill="none" stroke="#e8325a" stroke-width="2.3" stroke-linejoin="round"/>
<path d="M1503.6,284.8 L1520.4,278.1 L1545.1,314.0 L1520.4,337.6 L1511.4,337.6 L1503.6,325.3 Z" fill="none" stroke="#e8325a" stroke-width="2.3" stroke-linejoin="round"/>
<path d="M1567.6,397.1 L1573.2,338.7 L1592.3,316.3 L1610.3,302.8 L1646.2,374.7 L1587.8,401.6 Z" fill="none" stroke="#e8325a" stroke-width="2.3" stroke-linejoin="round"/>
<path d="M1688.9,232.1 L1690.0,348.8 L1668.7,353.3 L1657.5,345.5 L1655.2,300.6 L1659.7,278.1 L1673.2,251.1 Z" fill="none" stroke="#e8325a" stroke-width="2.3" stroke-linejoin="round"/>
<path d="M1841.6,156.8 L1864.1,156.8 L1861.8,179.3 L1837.1,207.3 L1834.9,174.8 Z" fill="none" stroke="#e8325a" stroke-width="2.3" stroke-linejoin="round"/>
<path d="M1873.1,173.7 L1884.3,197.2 L1886.6,264.6 L1879.8,266.9 L1861.8,235.4 L1848.4,226.4 L1832.6,228.7 Z" fill="none" stroke="#e8325a" stroke-width="2.3" stroke-linejoin="round"/>
<path d="M1848.4,224.2 L1866.3,228.7 L1877.6,251.1 L1877.6,273.6 L1861.8,298.3 L1848.4,300.6 L1823.7,275.8 L1823.7,244.4 Z" fill="none" stroke="#e8325a" stroke-width="2.3" stroke-linejoin="round"/>
<path d="M1827.0,173.7 L1829.3,217.5 L1816.9,226.4 L1801.2,217.5 L1799.0,206.2 Z" fill="none" stroke="#e8325a" stroke-width="2.3" stroke-linejoin="round"/>
<path d="M1790.0,213.0 L1803.4,235.4 L1794.5,244.4 L1778.7,244.4 L1770.9,228.7 Z" fill="none" stroke="#e8325a" stroke-width="2.3" stroke-linejoin="round"/>
<path d="M1760.8,242.2 L1814.7,231.0 L1808.0,267.0 L1799.0,271.3 L1769.8,273.6 L1760.8,253.4 Z" fill="none" stroke="#e8325a" stroke-width="2.3" stroke-linejoin="round"/>
<path d="M1896.7,279.2 L1909.0,289.3 L1910.1,309.5 L1900.0,336.5 L1873.1,314.0 Z" fill="none" stroke="#e8325a" stroke-width="2.3" stroke-linejoin="round"/>
<path d="M1809.1,302.8 L1839.4,329.8 L1851.7,389.3 L1822.5,399.4 L1772.0,381.4 Z" fill="none" stroke="#e8325a" stroke-width="2.3" stroke-linejoin="round"/>
<path d="M1722.6,228.7 L1749.5,262.4 L1758.5,289.3 L1759.7,345.5 L1749.5,353.3 L1721.5,347.7 Z" fill="none" stroke="#e8325a" stroke-width="2.3" stroke-linejoin="round"/>
<g clip-path="url(#cdall)">
<path d="M2047.6,62.1 L2217.8,62.1 L2211,76.8 L2219.7,82.4 L2219.7,90 L2046.6,90 L2046.6,82.4 L2056,76.8 Z" fill="#8e8e8e"/>
<rect x="2050" y="76" width="165" height="7" fill="#555" opacity="0.6" filter="url(#gb3)"/>
<path d="M1938.3,241.6 C1941.3,228.2 1948.4,186.1 1954.9,171.1 C1961.4,156.2 1981.3,127.7 1992.2,117.2 C2003.2,106.8 2019.2,88.0 2046.1,84.0 C2073.0,80.0 2187.8,79.3 2216.2,84.0 C2244.5,88.8 2270.1,111.5 2282.5,123.4 C2295.0,135.4 2314.1,167.9 2319.8,183.6 C2325.5,199.2 2329.0,234.7 2330.0,254.1 C2331.0,273.5 2329.6,329.4 2328.1,345.3 C2326.7,361.2 2320.0,378.8 2317.8,386.8 C2315.5,394.7 2351.0,408.7 2309.5,411.7 C2267.9,414.6 2015.0,414.6 1971.5,411.7 C1927.9,408.7 1951.3,396.0 1946.6,386.8 C1941.9,377.6 1934.1,347.4 1932.1,334.9 C1930.1,322.5 1929.3,294.3 1930.0,283.1 C1930.7,271.9 1935.3,255.1 1938.3,241.6 Z" fill="#8a8a8a"/>
<ellipse cx="1990" cy="402" rx="50" ry="12" fill="#454545" opacity="0.8" filter="url(#gb3)"/>
<ellipse cx="2270" cy="402" rx="50" ry="12" fill="#454545" opacity="0.8" filter="url(#gb3)"/>
<ellipse cx="2132" cy="398" rx="34" ry="16" fill="#555555" opacity="0.8" filter="url(#gb3)"/>
<ellipse cx="1950" cy="350" rx="16" ry="34" fill="#5e5e5e" opacity="0.8" filter="url(#gb3)"/>
<ellipse cx="2318" cy="350" rx="12" ry="34" fill="#5e5e5e" opacity="0.8" filter="url(#gb3)"/>
<ellipse cx="2000" cy="388" rx="50" ry="8" fill="#b8b8b8" opacity="0.8" filter="url(#gb3)"/>
<ellipse cx="2262" cy="388" rx="50" ry="8" fill="#b8b8b8" opacity="0.8" filter="url(#gb3)"/>
<ellipse cx="1975" cy="372" rx="30" ry="7" fill="#a0a0a0" opacity="0.8" filter="url(#gb3)"/>
<ellipse cx="2290" cy="372" rx="30" ry="7" fill="#a0a0a0" opacity="0.8" filter="url(#gb3)"/>
<rect x="2117" y="84" width="32" height="320" fill="#8a8a8a"/>
<path d="M2121,100 L2145,100 L2133,128 Z" fill="#505050" opacity="0.7" filter="url(#gb3)"/>
<rect x="2124" y="130" width="18" height="60" rx="8" fill="#9c9c9c" filter="url(#gb3)"/>
<rect x="2123" y="196" width="20" height="46" rx="6" fill="#b0b0b0" filter="url(#gb3)"/>
<rect x="2123" y="250" width="20" height="95" rx="6" fill="#a8a8a8" filter="url(#gb3)"/>
<rect x="2123" y="350" width="20" height="50" rx="6" fill="#6a6a6a" filter="url(#gb3)"/>
<rect x="2118" y="193" width="30" height="3" fill="#5a5a5a" opacity="0.8"/>
<rect x="2118" y="246" width="30" height="3" fill="#5a5a5a" opacity="0.8"/>
<path d="M2116.6,86.1 C2122.9,96.1 2116.9,128.1 2117.0,148.3 C2117.1,168.5 2117.2,200.7 2117.2,220.9 C2117.3,241.1 2117.4,267.5 2117.5,283.1 C2117.5,298.6 2119.3,313.4 2117.7,324.6 C2116.0,335.8 2112.6,349.7 2106.3,357.7 C2099.9,365.8 2085.4,374.4 2075.2,378.5 C2064.9,382.5 2049.3,384.7 2037.8,384.7 C2026.3,384.7 2008.4,382.5 1998.4,378.5 C1988.5,374.4 1978.0,364.9 1971.5,357.7 C1964.9,350.6 1959.9,338.3 1954.9,330.8 C1949.9,323.3 1941.7,315.1 1938.3,308.0 C1934.9,300.8 1932.4,291.5 1932.1,283.1 C1931.8,274.7 1935.3,261.3 1936.2,252.0 C1937.2,242.7 1936.4,231.2 1938.3,220.9 C1940.2,210.6 1943.7,196.0 1948.7,183.6 C1953.6,171.1 1963.4,149.5 1971.5,137.9 C1979.6,126.4 1992.6,114.6 2002.6,106.8 C2012.5,99.1 2026.9,89.8 2037.8,86.1 C2048.7,82.4 2063.3,82.0 2075.2,82.0 C2087.0,82.0 2110.3,76.2 2116.6,86.1 Z" fill="#878b8d"/>
<g clip-path="url(#cdl)">
<rect x="1928" y="60" width="400" height="360" filter="url(#contour)" opacity="0.75"/>
<rect x="1928" y="60" width="400" height="360" filter="url(#contour3)" opacity="0.55"/>
<rect x="1928" y="60" width="400" height="360" filter="url(#contour2)" opacity="0.45"/>
<path d="M2116.6,86.1 C2122.9,96.1 2116.9,128.1 2117.0,148.3 C2117.1,168.5 2117.2,200.7 2117.2,220.9 C2117.3,241.1 2117.4,267.5 2117.5,283.1 C2117.5,298.6 2119.3,313.4 2117.7,324.6 C2116.0,335.8 2112.6,349.7 2106.3,357.7 C2099.9,365.8 2085.4,374.4 2075.2,378.5 C2064.9,382.5 2049.3,384.7 2037.8,384.7 C2026.3,384.7 2008.4,382.5 1998.4,378.5 C1988.5,374.4 1978.0,364.9 1971.5,357.7 C1964.9,350.6 1959.9,338.3 1954.9,330.8 C1949.9,323.3 1941.7,315.1 1938.3,308.0 C1934.9,300.8 1932.4,291.5 1932.1,283.1 C1931.8,274.7 1935.3,261.3 1936.2,252.0 C1937.2,242.7 1936.4,231.2 1938.3,220.9 C1940.2,210.6 1943.7,196.0 1948.7,183.6 C1953.6,171.1 1963.4,149.5 1971.5,137.9 C1979.6,126.4 1992.6,114.6 2002.6,106.8 C2012.5,99.1 2026.9,89.8 2037.8,86.1 C2048.7,82.4 2063.3,82.0 2075.2,82.0 C2087.0,82.0 2110.3,76.2 2116.6,86.1 Z" fill="none" stroke="#5060ff" stroke-width="7" opacity="0.55" filter="url(#gb3)"/>
<path d="M2116.6,86.1 C2122.9,96.1 2116.9,128.1 2117.0,148.3 C2117.1,168.5 2117.2,200.7 2117.2,220.9 C2117.3,241.1 2117.4,267.5 2117.5,283.1 C2117.5,298.6 2119.3,313.4 2117.7,324.6 C2116.0,335.8 2112.6,349.7 2106.3,357.7 C2099.9,365.8 2085.4,374.4 2075.2,378.5 C2064.9,382.5 2049.3,384.7 2037.8,384.7 C2026.3,384.7 2008.4,382.5 1998.4,378.5 C1988.5,374.4 1978.0,364.9 1971.5,357.7 C1964.9,350.6 1959.9,338.3 1954.9,330.8 C1949.9,323.3 1941.7,315.1 1938.3,308.0 C1934.9,300.8 1932.4,291.5 1932.1,283.1 C1931.8,274.7 1935.3,261.3 1936.2,252.0 C1937.2,242.7 1936.4,231.2 1938.3,220.9 C1940.2,210.6 1943.7,196.0 1948.7,183.6 C1953.6,171.1 1963.4,149.5 1971.5,137.9 C1979.6,126.4 1992.6,114.6 2002.6,106.8 C2012.5,99.1 2026.9,89.8 2037.8,86.1 C2048.7,82.4 2063.3,82.0 2075.2,82.0 C2087.0,82.0 2110.3,76.2 2116.6,86.1 Z" fill="none" stroke="#60e0f0" stroke-width="22" opacity="0.3" filter="url(#gb8)"/>
</g>
<path d="M2147.7,86.1 C2154.8,76.2 2181.4,81.0 2195.4,82.0 C2209.4,82.9 2228.6,86.1 2241.0,92.3 C2253.5,98.5 2268.1,111.6 2278.4,123.4 C2288.6,135.2 2302.6,156.5 2309.5,171.1 C2316.3,185.7 2321.2,207.2 2324.0,220.9 C2326.8,234.6 2327.8,248.4 2328.1,262.4 C2328.4,276.4 2328.5,301.1 2326.1,314.2 C2323.6,327.3 2318.1,340.4 2311.5,349.5 C2305.0,358.5 2293.1,368.7 2282.5,374.3 C2271.9,379.9 2253.5,385.8 2241.0,386.8 C2228.6,387.7 2210.5,384.3 2199.6,380.6 C2188.7,376.8 2175.9,369.7 2168.5,361.9 C2161.0,354.1 2152.7,340.5 2149.8,328.7 C2146.9,316.9 2149.5,299.3 2149.4,283.1 C2149.2,266.9 2149.0,241.1 2148.8,220.9 C2148.6,200.7 2148.3,168.5 2148.1,148.3 C2148.0,128.1 2140.6,96.1 2147.7,86.1 Z" fill="#878b8d"/>
<g clip-path="url(#cdr)">
<rect x="1928" y="60" width="400" height="360" filter="url(#contour)" opacity="0.75"/>
<rect x="1928" y="60" width="400" height="360" filter="url(#contour3)" opacity="0.55"/>
<rect x="1928" y="60" width="400" height="360" filter="url(#contour2)" opacity="0.45"/>
<path d="M2147.7,86.1 C2154.8,76.2 2181.4,81.0 2195.4,82.0 C2209.4,82.9 2228.6,86.1 2241.0,92.3 C2253.5,98.5 2268.1,111.6 2278.4,123.4 C2288.6,135.2 2302.6,156.5 2309.5,171.1 C2316.3,185.7 2321.2,207.2 2324.0,220.9 C2326.8,234.6 2327.8,248.4 2328.1,262.4 C2328.4,276.4 2328.5,301.1 2326.1,314.2 C2323.6,327.3 2318.1,340.4 2311.5,349.5 C2305.0,358.5 2293.1,368.7 2282.5,374.3 C2271.9,379.9 2253.5,385.8 2241.0,386.8 C2228.6,387.7 2210.5,384.3 2199.6,380.6 C2188.7,376.8 2175.9,369.7 2168.5,361.9 C2161.0,354.1 2152.7,340.5 2149.8,328.7 C2146.9,316.9 2149.5,299.3 2149.4,283.1 C2149.2,266.9 2149.0,241.1 2148.8,220.9 C2148.6,200.7 2148.3,168.5 2148.1,148.3 C2148.0,128.1 2140.6,96.1 2147.7,86.1 Z" fill="none" stroke="#5060ff" stroke-width="7" opacity="0.55" filter="url(#gb3)"/>
<path d="M2147.7,86.1 C2154.8,76.2 2181.4,81.0 2195.4,82.0 C2209.4,82.9 2228.6,86.1 2241.0,92.3 C2253.5,98.5 2268.1,111.6 2278.4,123.4 C2288.6,135.2 2302.6,156.5 2309.5,171.1 C2316.3,185.7 2321.2,207.2 2324.0,220.9 C2326.8,234.6 2327.8,248.4 2328.1,262.4 C2328.4,276.4 2328.5,301.1 2326.1,314.2 C2323.6,327.3 2318.1,340.4 2311.5,349.5 C2305.0,358.5 2293.1,368.7 2282.5,374.3 C2271.9,379.9 2253.5,385.8 2241.0,386.8 C2228.6,387.7 2210.5,384.3 2199.6,380.6 C2188.7,376.8 2175.9,369.7 2168.5,361.9 C2161.0,354.1 2152.7,340.5 2149.8,328.7 C2146.9,316.9 2149.5,299.3 2149.4,283.1 C2149.2,266.9 2149.0,241.1 2148.8,220.9 C2148.6,200.7 2148.3,168.5 2148.1,148.3 C2148.0,128.1 2140.6,96.1 2147.7,86.1 Z" fill="none" stroke="#60e0f0" stroke-width="22" opacity="0.3" filter="url(#gb8)"/>
</g>
<path d="M1955.0,205.0 L2010.0,196.0 L2110.0,200.0" fill="none" stroke="#e8e8e8" stroke-width="2" opacity="0.55"/>
<path d="M2150.0,196.0 L2250.0,190.0 L2312.0,205.0" fill="none" stroke="#e8e8e8" stroke-width="2" opacity="0.55"/>
<path d="M1950.0,258.0 L2040.0,250.0 L2112.0,255.0" fill="none" stroke="#e8e8e8" stroke-width="2" opacity="0.55"/>
<path d="M2152.0,255.0 L2240.0,250.0 L2320.0,262.0" fill="none" stroke="#e8e8e8" stroke-width="2" opacity="0.55"/>
<path d="M1945.0,300.0 L2030.0,292.0 L2112.0,296.0" fill="none" stroke="#e8e8e8" stroke-width="2" opacity="0.55"/>
<path d="M2152.0,296.0 L2240.0,294.0 L2322.0,300.0" fill="none" stroke="#e8e8e8" stroke-width="2" opacity="0.55"/>
<ellipse cx="2046.1" cy="108.9" rx="14.5" ry="10.4" fill="#f0e060" opacity="0.80" filter="url(#gb6)"/>
<ellipse cx="2050.3" cy="106.8" rx="7.3" ry="5.2" fill="#f09050" opacity="0.72" filter="url(#gb6)"/>
<ellipse cx="1973.5" cy="208.4" rx="18.7" ry="14.5" fill="#f0a070" opacity="0.92" filter="url(#gb6)"/>
<ellipse cx="1992.2" cy="227.1" rx="12.4" ry="10.4" fill="#f0e070" opacity="0.72" filter="url(#gb6)"/>
<ellipse cx="1971.5" cy="204.3" rx="9.3" ry="8.3" fill="#f08060" opacity="0.72" filter="url(#gb6)"/>
<ellipse cx="2062.7" cy="241.6" rx="14.5" ry="14.5" fill="#f0f070" opacity="0.58" filter="url(#gb6)"/>
<ellipse cx="2106.3" cy="262.4" rx="9.3" ry="24.9" fill="#f0c070" opacity="0.80" filter="url(#gb6)"/>
<ellipse cx="2108.3" cy="303.8" rx="10.4" ry="27.0" fill="#f08060" opacity="0.87" filter="url(#gb6)"/>
<ellipse cx="2031.6" cy="334.9" rx="12.4" ry="14.5" fill="#f08050" opacity="0.87" filter="url(#gb6)"/>
<ellipse cx="1992.2" cy="324.6" rx="12.4" ry="12.4" fill="#f0e060" opacity="0.80" filter="url(#gb6)"/>
<ellipse cx="2058.6" cy="324.6" rx="12.4" ry="12.4" fill="#f0e070" opacity="0.51" filter="url(#gb6)"/>
<ellipse cx="2017.1" cy="137.9" rx="16.6" ry="12.4" fill="#c0f0a0" opacity="0.43" filter="url(#gb6)"/>
<ellipse cx="2075.2" cy="162.8" rx="14.5" ry="18.7" fill="#d0f0b0" opacity="0.43" filter="url(#gb6)"/>
<ellipse cx="1981.8" cy="283.1" rx="16.6" ry="12.4" fill="#e0f0a0" opacity="0.51" filter="url(#gb6)"/>
<ellipse cx="2189.2" cy="137.9" rx="14.5" ry="18.7" fill="#f0d060" opacity="0.80" filter="url(#gb6)"/>
<ellipse cx="2187.1" cy="133.8" rx="6.2" ry="8.3" fill="#f0a070" opacity="0.65" filter="url(#gb6)"/>
<ellipse cx="2230.7" cy="144.2" rx="14.5" ry="12.4" fill="#f0e070" opacity="0.72" filter="url(#gb6)"/>
<ellipse cx="2290.8" cy="204.3" rx="16.6" ry="29.0" fill="#f08060" opacity="0.92" filter="url(#gb6)"/>
<ellipse cx="2209.9" cy="357.7" rx="14.5" ry="14.5" fill="#f07050" opacity="0.92" filter="url(#gb6)"/>
<ellipse cx="2261.8" cy="345.3" rx="14.5" ry="12.4" fill="#f0a060" opacity="0.87" filter="url(#gb6)"/>
<ellipse cx="2164.3" cy="324.6" rx="8.3" ry="12.4" fill="#f0c060" opacity="0.87" filter="url(#gb6)"/>
<ellipse cx="2154.0" cy="272.7" rx="8.3" ry="22.8" fill="#f0e080" opacity="0.65" filter="url(#gb6)"/>
<ellipse cx="2272.1" cy="258.2" rx="20.7" ry="20.7" fill="#e0f0b0" opacity="0.43" filter="url(#gb6)"/>
<ellipse cx="2199.6" cy="200.2" rx="18.7" ry="16.6" fill="#d0f0e0" opacity="0.43" filter="url(#gb6)"/>
<ellipse cx="2023.3" cy="237.5" rx="7.3" ry="7.3" fill="#3a40e0" opacity="0.35" filter="url(#gb3)"/>
<ellipse cx="2253.5" cy="212.6" rx="6.2" ry="6.2" fill="#3a40e0" opacity="0.35" filter="url(#gb3)"/>
<ellipse cx="2183.0" cy="179.4" rx="12.4" ry="12.4" fill="#3a40e0" opacity="0.35" filter="url(#gb3)"/>
<path d="M1998.4,125.5 L2027.5,102.7 L2056.5,90.3 L2114.6,92.3 L2116.6,341.2 L2108.3,378.5" fill="none" stroke="#111" stroke-width="1.3" stroke-dasharray="5 4"/>
<path d="M1998.4,125.5 L2087.6,142.1 L2095.9,179.4 L2108.3,237.5" fill="none" stroke="#111" stroke-width="1.3" stroke-dasharray="5 4"/>
<path d="M1961.1,175.3 L1992.2,154.5 L2046.1,212.6 L2087.6,258.2 L2091.7,281.0" fill="none" stroke="#111" stroke-width="1.3" stroke-dasharray="5 4"/>
<path d="M2017.1,175.3 L2019.2,279.0 L2091.7,279.0" fill="none" stroke="#111" stroke-width="1.3" stroke-dasharray="5 4"/>
<path d="M1959.0,187.7 L1959.0,299.7 L2017.1,299.7" fill="none" stroke="#111" stroke-width="1.3" stroke-dasharray="5 4"/>
<path d="M1934.1,291.4 L1934.1,334.9 L1952.8,337.0 L1971.5,299.7" fill="none" stroke="#111" stroke-width="1.3" stroke-dasharray="5 4"/>
<path d="M1971.5,303.8 L2089.7,303.8 L2087.6,378.5" fill="none" stroke="#111" stroke-width="1.3" stroke-dasharray="5 4"/>
<path d="M1971.5,345.3 L1971.5,395.1 L1996.4,395.1 L1996.4,345.3" fill="none" stroke="#111" stroke-width="1.3" stroke-dasharray="5 4"/>
<path d="M2042.0,233.3 L2075.2,220.9 L2083.4,262.4 L2058.6,272.7 L2042.0,262.4 L2042.0,233.3" fill="none" stroke="#111" stroke-width="1.3" stroke-dasharray="5 4"/>
<path d="M1996.4,395.1 L2046.1,395.1 L2087.6,374.3" fill="none" stroke="#111" stroke-width="1.3" stroke-dasharray="5 4"/>
<path d="M2149.8,96.5 L2205.8,84.0 L2282.5,146.2 L2299.1,187.7" fill="none" stroke="#111" stroke-width="1.3" stroke-dasharray="5 4"/>
<path d="M2149.8,96.5 L2149.8,349.5 L2189.2,349.5 L2189.2,303.8 L2295.0,303.8" fill="none" stroke="#111" stroke-width="1.3" stroke-dasharray="5 4"/>
<path d="M2187.1,245.8 L2209.9,270.7 L2241.0,270.7 L2241.0,179.4 L2232.7,200.2" fill="none" stroke="#111" stroke-width="1.3" stroke-dasharray="5 4"/>
<path d="M2261.8,175.3 L2286.7,162.8 L2303.3,179.4 L2309.5,274.8 L2270.1,293.5 L2251.4,262.4 L2261.8,175.3" fill="none" stroke="#111" stroke-width="1.3" stroke-dasharray="5 4"/>
<path d="M2197.5,220.9 L2216.2,200.2 L2230.7,220.9 L2216.2,241.6 L2197.5,220.9" fill="none" stroke="#111" stroke-width="1.3" stroke-dasharray="5 4"/>
<path d="M2199.6,308.0 L2282.5,310.1 L2299.1,386.8" fill="none" stroke="#111" stroke-width="1.3" stroke-dasharray="5 4"/>
<path d="M2241.0,314.2 L2274.2,378.5 L2295.0,390.9" fill="none" stroke="#111" stroke-width="1.3" stroke-dasharray="5 4"/>
<path d="M2315.7,283.1 L2324.0,303.8 L2315.7,334.9" fill="none" stroke="#111" stroke-width="1.3" stroke-dasharray="5 4"/>
<path d="M2178.8,137.9 L2220.3,113.1 L2253.5,119.3" fill="none" stroke="#111" stroke-width="1.3" stroke-dasharray="5 4"/>
<path d="M2149.8,233.3 L2191.3,293.5 L2195.4,345.3" fill="none" stroke="#111" stroke-width="1.3" stroke-dasharray="5 4"/>
</g>
<text x="2079.2" y="134.8" font-size="26" font-weight="bold" font-style="normal" fill="#000" text-anchor="start" textLength="38.1" lengthAdjust="spacingAndGlyphs" >M2</text>
<text x="2037.6" y="167.2" font-size="26" font-weight="bold" font-style="normal" fill="#000" text-anchor="start" textLength="34.7" lengthAdjust="spacingAndGlyphs" >M1</text>
<text x="1975.1" y="178.7" font-size="26" font-weight="bold" font-style="normal" fill="#000" text-anchor="start" textLength="34.7" lengthAdjust="spacingAndGlyphs" >LS</text>
<text x="2014.5" y="201.8" font-size="26" font-weight="bold" font-style="normal" fill="#000" text-anchor="start" textLength="33.5" lengthAdjust="spacingAndGlyphs" >FL</text>
<text x="1955.5" y="223.8" font-size="26" font-weight="bold" font-style="normal" fill="#000" text-anchor="start" textLength="38.1" lengthAdjust="spacingAndGlyphs" >AS</text>
<text x="2045.7" y="235.4" font-size="26" font-weight="bold" font-style="normal" fill="#000" text-anchor="start" textLength="37.0" lengthAdjust="spacingAndGlyphs" >HL</text>
<text x="2049.1" y="267.7" font-size="26" font-weight="bold" font-style="normal" fill="#000" text-anchor="start" textLength="17.4" lengthAdjust="spacingAndGlyphs" >T</text>
<text x="1952.0" y="270.0" font-size="26" font-weight="bold" font-style="normal" fill="#000" text-anchor="start" textLength="76.3" lengthAdjust="spacingAndGlyphs" >barrel</text>
<text x="2016.8" y="302.4" font-size="26" font-weight="bold" font-style="normal" fill="#000" text-anchor="start" textLength="56.6" lengthAdjust="spacingAndGlyphs" >PPC</text>
<text x="2080.3" y="314.0" font-size="26" font-weight="bold" font-style="normal" fill="#000" text-anchor="start" textLength="59.0" lengthAdjust="spacingAndGlyphs" >RSA</text>
<text x="1928.9" y="317.5" font-size="26" font-weight="bold" font-style="normal" fill="#000" text-anchor="start" textLength="32.4" lengthAdjust="spacingAndGlyphs" >A1</text>
<text x="1968.2" y="344.0" font-size="26" font-weight="bold" font-style="normal" fill="#000" text-anchor="start" textLength="48.6" lengthAdjust="spacingAndGlyphs" >V2L</text>
<text x="2041.0" y="344.0" font-size="26" font-weight="bold" font-style="normal" fill="#000" text-anchor="start" textLength="56.7" lengthAdjust="spacingAndGlyphs" >V2M</text>
<text x="2016.8" y="376.4" font-size="26" font-weight="bold" font-style="normal" fill="#000" text-anchor="start" textLength="30.0" lengthAdjust="spacingAndGlyphs" >V1</text>
<rect x="2306.9" y="79.3" width="16.2" height="89" fill="url(#jetd)"/>
<text x="2253.8" y="72.4" font-size="17.8" font-weight="normal" font-style="normal" fill="#231f20" text-anchor="start" textLength="52.0" lengthAdjust="spacingAndGlyphs" >Norm.</text>
<text x="2253.8" y="96.6" font-size="17.8" font-weight="normal" font-style="normal" fill="#231f20" text-anchor="start" textLength="45.0" lengthAdjust="spacingAndGlyphs" >Freq.</text>
<text x="2325.4" y="84.0" font-size="16.4" font-weight="normal" font-style="normal" fill="#231f20" text-anchor="start" >1</text>
<text x="2325.4" y="119.8" font-size="16.4" font-weight="normal" font-style="normal" fill="#231f20" text-anchor="start" textLength="21.0" lengthAdjust="spacingAndGlyphs" >0.6</text>
<text x="2325.4" y="155.6" font-size="16.4" font-weight="normal" font-style="normal" fill="#231f20" text-anchor="start" textLength="21.0" lengthAdjust="spacingAndGlyphs" >0.2</text>
<rect x="98.2" y="547.3" width="448.6" height="350.6" fill="#04080a"/>
<rect x="565.1" y="547.3" width="448.6" height="350.6" fill="#04080a"/>
<rect x="1032.4" y="547.3" width="448.6" height="350.6" fill="#04080a"/>
<rect x="98.2" y="1041.2" width="448.6" height="350.6" fill="#04080a"/>
<rect x="565.1" y="1041.2" width="448.6" height="350.6" fill="#04080a"/>
<rect x="1032.4" y="1041.2" width="448.6" height="350.6" fill="#04080a"/>
<rect x="98.2" y="1526.3" width="448.6" height="350.6" fill="#04080a"/>
<rect x="565.1" y="1526.3" width="448.6" height="350.6" fill="#04080a"/>
<rect x="1032.4" y="1526.3" width="448.6" height="350.6" fill="#04080a"/>
<g clip-path="url(#e5)">
<path d="M263.8,619.1 L281.4,625.6 L291.6,624.2 L299.0,627.8 L301.9,638.1 L304.8,657.2 L315.1,666.0 L319.5,673.3 L319.5,793.5 L307.8,802.3 L290.2,803.7 L285.8,814.0 L263.8,822.8 L243.3,822.8 L225.7,815.4 L214.0,805.2 L196.4,789.1 L187.6,770.0 L184.7,739.2 L187.6,717.3 L199.3,690.9 L214.0,661.6 L231.6,636.6 L246.2,624.9 Z M334.2,649.8 L344.4,636.6 L360.5,627.8 L379.6,620.5 L395.7,620.5 L410.4,632.2 L422.1,644.0 L428.0,658.6 L438.2,664.5 L439.7,676.2 L428.0,693.8 L448.5,685.0 L454.3,692.3 L461.7,714.3 L457.3,731.9 L464.6,746.6 L461.7,755.4 L457.3,775.9 L445.5,797.9 L422.1,819.8 L401.6,825.7 L382.5,819.8 L363.5,811.1 L345.9,800.8 L334.2,793.5 Z" fill="#c4dbec"/>
<path d="M263.8,619.1 L281.4,625.6 L291.6,624.2 L299.0,627.8 L301.9,638.1 L304.8,657.2 L315.1,666.0 L319.5,673.3 L319.5,793.5 L307.8,802.3 L290.2,803.7 L285.8,814.0 L263.8,822.8 L243.3,822.8 L225.7,815.4 L214.0,805.2 L196.4,789.1 L187.6,770.0 L184.7,739.2 L187.6,717.3 L199.3,690.9 L214.0,661.6 L231.6,636.6 L246.2,624.9 Z M334.2,649.8 L344.4,636.6 L360.5,627.8 L379.6,620.5 L395.7,620.5 L410.4,632.2 L422.1,644.0 L428.0,658.6 L438.2,664.5 L439.7,676.2 L428.0,693.8 L448.5,685.0 L454.3,692.3 L461.7,714.3 L457.3,731.9 L464.6,746.6 L461.7,755.4 L457.3,775.9 L445.5,797.9 L422.1,819.8 L401.6,825.7 L382.5,819.8 L363.5,811.1 L345.9,800.8 L334.2,793.5 Z" fill="none" stroke="#1e5eaa" stroke-width="14" opacity="0.9" filter="url(#gb6)"/>
<ellipse cx="257.9" cy="666.0" rx="32.2" ry="36.6" fill="#eef4f8" opacity="0.9" filter="url(#bl10)"/>
<ellipse cx="206.6" cy="731.9" rx="22.0" ry="58.6" fill="#3c7fc0" opacity="0.9" filter="url(#bl10)"/>
<ellipse cx="199.3" cy="775.9" rx="17.6" ry="29.3" fill="#2a68b0" opacity="0.9" filter="url(#bl8)"/>
<ellipse cx="265.3" cy="717.3" rx="23.5" ry="16.1" fill="#8fbfe0" opacity="0.8" filter="url(#bl10)"/>
<ellipse cx="228.6" cy="695.3" rx="14.7" ry="17.6" fill="#9cc8e2" opacity="0.7" filter="url(#bl10)"/>
<ellipse cx="260.9" cy="787.6" rx="22.0" ry="26.4" fill="#f3b79d" opacity="0.95" filter="url(#bl8)"/>
<ellipse cx="257.9" cy="768.5" rx="7.3" ry="8.8" fill="#f7d0c0" opacity="0.6" filter="url(#bl6)"/>
<ellipse cx="294.6" cy="739.2" rx="19.1" ry="44.0" fill="#cfe3f0" opacity="0.6" filter="url(#bl10)"/>
<ellipse cx="236.0" cy="797.9" rx="17.6" ry="11.7" fill="#e8f0f6" opacity="0.6" filter="url(#bl8)"/>
<ellipse cx="351.7" cy="676.2" rx="12.5" ry="46.9" fill="#f5c2aa" opacity="0.92" filter="url(#bl8)" transform="rotate(17 351.7 676.2)"/>
<ellipse cx="366.4" cy="635.2" rx="10.3" ry="6.6" fill="#dc7058" opacity="0.85" filter="url(#bl5)"/>
<ellipse cx="378.1" cy="666.0" rx="8.8" ry="36.6" fill="#f4f6f8" opacity="0.6" filter="url(#bl8)" transform="rotate(17 378.1 666.0)"/>
<ellipse cx="426.5" cy="731.9" rx="26.4" ry="55.7" fill="#3a7cc0" opacity="0.95" filter="url(#bl10)"/>
<ellipse cx="433.8" cy="695.3" rx="14.7" ry="11.7" fill="#3272b8" opacity="0.9" filter="url(#bl8)"/>
<ellipse cx="375.2" cy="731.9" rx="17.6" ry="17.6" fill="#8dbfe0" opacity="0.8" filter="url(#bl10)"/>
<ellipse cx="384.0" cy="789.1" rx="24.9" ry="30.8" fill="#f0a890" opacity="0.95" filter="url(#bl8)"/>
<ellipse cx="381.1" cy="774.4" rx="6.6" ry="10.3" fill="#a81a2a" opacity="0.9" filter="url(#bl5)"/>
<ellipse cx="378.1" cy="793.5" rx="11.7" ry="16.1" fill="#e08068" opacity="0.75" filter="url(#bl8)"/>
<ellipse cx="403.0" cy="774.4" rx="7.3" ry="7.3" fill="#c8def0" opacity="0.8" filter="url(#bl5)"/>
<ellipse cx="404.5" cy="805.2" rx="16.1" ry="13.2" fill="#f6d0be" opacity="0.6" filter="url(#bl8)"/>
<path d="M263.8,619.1 L281.4,625.6 L291.6,624.2 L299.0,627.8 L301.9,638.1 L304.8,657.2 L315.1,666.0 L319.5,673.3 L319.5,793.5 L307.8,802.3 L290.2,803.7 L285.8,814.0 L263.8,822.8 L243.3,822.8 L225.7,815.4 L214.0,805.2 L196.4,789.1 L187.6,770.0 L184.7,739.2 L187.6,717.3 L199.3,690.9 L214.0,661.6 L231.6,636.6 L246.2,624.9 Z M334.2,649.8 L344.4,636.6 L360.5,627.8 L379.6,620.5 L395.7,620.5 L410.4,632.2 L422.1,644.0 L428.0,658.6 L438.2,664.5 L439.7,676.2 L428.0,693.8 L448.5,685.0 L454.3,692.3 L461.7,714.3 L457.3,731.9 L464.6,746.6 L461.7,755.4 L457.3,775.9 L445.5,797.9 L422.1,819.8 L401.6,825.7 L382.5,819.8 L363.5,811.1 L345.9,800.8 L334.2,793.5 Z" fill="#fff" opacity="0.07" filter="url(#tex)"/>
</g>
<g clip-path="url(#e8)">
<path d="M709.4,601.6 L725.9,599.9 L745.8,608.2 L768.9,616.5 L775.6,623.1 L777.2,644.6 L782.2,649.6 L782.2,808.4 L768.9,805.1 L760.7,795.2 L755.7,810.1 L757.3,821.7 L745.8,838.2 L729.2,841.5 L716.0,838.2 L706.0,831.6 L696.1,825.0 L669.6,818.4 L653.1,796.9 L634.9,772.0 L633.2,755.5 L639.9,735.6 L653.1,722.4 L653.1,689.3 L656.4,669.4 L669.6,661.2 L689.5,647.9 L692.8,626.4 L696.1,611.5 Z M800.4,634.7 L818.6,614.8 L835.1,608.2 L864.9,600.8 L878.1,604.9 L899.7,623.1 L906.3,639.6 L924.5,656.2 L941.0,682.7 L951.0,709.1 L955.9,730.7 L957.6,755.5 L952.6,780.3 L941.0,805.1 L917.9,825.0 L898.0,844.8 L888.1,851.5 L868.2,848.1 L848.4,841.5 L831.8,825.0 L815.3,815.1 L802.0,805.1 L799.5,705.8 L813.6,699.2 L800.4,695.9 Z" fill="#bcd8ea"/>
<path d="M709.4,601.6 L725.9,599.9 L745.8,608.2 L768.9,616.5 L775.6,623.1 L777.2,644.6 L782.2,649.6 L782.2,808.4 L768.9,805.1 L760.7,795.2 L755.7,810.1 L757.3,821.7 L745.8,838.2 L729.2,841.5 L716.0,838.2 L706.0,831.6 L696.1,825.0 L669.6,818.4 L653.1,796.9 L634.9,772.0 L633.2,755.5 L639.9,735.6 L653.1,722.4 L653.1,689.3 L656.4,669.4 L669.6,661.2 L689.5,647.9 L692.8,626.4 L696.1,611.5 Z M800.4,634.7 L818.6,614.8 L835.1,608.2 L864.9,600.8 L878.1,604.9 L899.7,623.1 L906.3,639.6 L924.5,656.2 L941.0,682.7 L951.0,709.1 L955.9,730.7 L957.6,755.5 L952.6,780.3 L941.0,805.1 L917.9,825.0 L898.0,844.8 L888.1,851.5 L868.2,848.1 L848.4,841.5 L831.8,825.0 L815.3,815.1 L802.0,805.1 L799.5,705.8 L813.6,699.2 L800.4,695.9 Z" fill="none" stroke="#1e5eaa" stroke-width="14" opacity="0.9" filter="url(#gb6)"/>
<ellipse cx="661.4" cy="747.2" rx="24.8" ry="74.5" fill="#3c80c2" opacity="0.9" filter="url(#bl10)"/>
<ellipse cx="644.8" cy="772.0" rx="14.9" ry="33.1" fill="#2a6ab0" opacity="0.9" filter="url(#bl8)"/>
<ellipse cx="719.3" cy="656.2" rx="33.1" ry="33.1" fill="#d9e9f3" opacity="0.7" filter="url(#bl10)"/>
<ellipse cx="735.8" cy="730.7" rx="24.8" ry="24.8" fill="#9ec9e3" opacity="0.7" filter="url(#bl10)"/>
<ellipse cx="704.4" cy="793.5" rx="16.5" ry="23.2" fill="#f0ae96" opacity="0.95" filter="url(#bl7)"/>
<ellipse cx="706.0" cy="798.5" rx="7.4" ry="12.4" fill="#b82e36" opacity="0.85" filter="url(#bl5)"/>
<ellipse cx="727.6" cy="821.7" rx="14.9" ry="16.5" fill="#f8e0d6" opacity="0.7" filter="url(#bl8)"/>
<ellipse cx="719.3" cy="669.4" rx="3.3" ry="3.3" fill="#1a3a70" opacity="0.9" filter="url(#bl3)"/>
<ellipse cx="760.7" cy="813.4" rx="13.2" ry="9.9" fill="#3c7cc0" opacity="0.9" filter="url(#bl6)"/>
<ellipse cx="760.7" cy="681.0" rx="13.2" ry="24.8" fill="#eaf2f8" opacity="0.6" filter="url(#bl10)"/>
<ellipse cx="934.4" cy="738.9" rx="23.2" ry="74.5" fill="#3a7ec0" opacity="0.95" filter="url(#bl10)"/>
<ellipse cx="926.1" cy="672.7" rx="16.5" ry="19.9" fill="#5a98cc" opacity="0.8" filter="url(#bl10)"/>
<ellipse cx="868.2" cy="672.7" rx="33.1" ry="33.1" fill="#e0edf5" opacity="0.6" filter="url(#bl10)"/>
<ellipse cx="859.9" cy="755.5" rx="24.8" ry="24.8" fill="#e8f0f6" opacity="0.6" filter="url(#bl10)"/>
<ellipse cx="884.8" cy="793.5" rx="33.1" ry="38.1" fill="#e6937c" opacity="0.95" filter="url(#bl7)"/>
<ellipse cx="881.5" cy="800.2" rx="18.2" ry="23.2" fill="#a81e2a" opacity="0.85" filter="url(#bl6)"/>
<ellipse cx="880.6" cy="771.2" rx="6.6" ry="6.0" fill="#f6d8c8" opacity="0.85" filter="url(#bl4)"/>
<ellipse cx="835.1" cy="834.9" rx="24.8" ry="13.2" fill="#3c7cc0" opacity="0.9" filter="url(#bl6)"/>
<ellipse cx="901.3" cy="841.5" rx="19.9" ry="9.9" fill="#2a68b0" opacity="0.9" filter="url(#bl6)"/>
<path d="M709.4,601.6 L725.9,599.9 L745.8,608.2 L768.9,616.5 L775.6,623.1 L777.2,644.6 L782.2,649.6 L782.2,808.4 L768.9,805.1 L760.7,795.2 L755.7,810.1 L757.3,821.7 L745.8,838.2 L729.2,841.5 L716.0,838.2 L706.0,831.6 L696.1,825.0 L669.6,818.4 L653.1,796.9 L634.9,772.0 L633.2,755.5 L639.9,735.6 L653.1,722.4 L653.1,689.3 L656.4,669.4 L669.6,661.2 L689.5,647.9 L692.8,626.4 L696.1,611.5 Z M800.4,634.7 L818.6,614.8 L835.1,608.2 L864.9,600.8 L878.1,604.9 L899.7,623.1 L906.3,639.6 L924.5,656.2 L941.0,682.7 L951.0,709.1 L955.9,730.7 L957.6,755.5 L952.6,780.3 L941.0,805.1 L917.9,825.0 L898.0,844.8 L888.1,851.5 L868.2,848.1 L848.4,841.5 L831.8,825.0 L815.3,815.1 L802.0,805.1 L799.5,705.8 L813.6,699.2 L800.4,695.9 Z" fill="#fff" opacity="0.07" filter="url(#tex)"/>
</g>
<g clip-path="url(#e13)">
<path d="M1164.5,569.7 L1219.4,565.6 L1238.6,571.1 L1242.7,841.1 L1241.3,842.5 L1170.0,879.5 L1131.6,879.5 L1109.7,871.3 L1082.3,852.1 L1063.1,830.2 L1052.1,802.7 L1049.4,775.3 L1052.1,734.2 L1059.0,706.8 L1068.5,673.9 L1090.5,641.0 L1115.2,608.1 L1131.6,588.9 L1153.6,575.2 Z M1271.5,569.7 L1293.4,565.6 L1334.5,565.6 L1359.2,580.6 L1397.6,613.6 L1422.3,643.7 L1441.5,679.4 L1455.2,723.2 L1460.7,761.6 L1459.3,797.3 L1449.7,827.4 L1425.0,857.6 L1383.9,874.0 L1342.7,879.5 L1301.6,863.1 L1270.1,842.5 Z" fill="#b0d1e6"/>
<ellipse cx="1178.2" cy="706.8" rx="54.8" ry="68.5" fill="#7fb2d6" opacity="0.8" filter="url(#bl10)" transform="rotate(-30 1178.2 706.8)"/>
<ellipse cx="1109.7" cy="720.5" rx="32.9" ry="60.3" fill="#8fbcdd" opacity="0.7" filter="url(#bl10)" transform="rotate(-30 1109.7 720.5)"/>
<ellipse cx="1197.4" cy="726.0" rx="24.7" ry="32.9" fill="#6aa5d0" opacity="0.9" filter="url(#bl8)"/>
<ellipse cx="1181.0" cy="660.2" rx="12.3" ry="35.6" fill="#d66452" opacity="0.95" filter="url(#bl5)" transform="rotate(-51 1181.0 660.2)"/>
<ellipse cx="1186.5" cy="662.9" rx="5.5" ry="19.2" fill="#b8303a" opacity="0.85" filter="url(#bl3)" transform="rotate(-51 1186.5 662.9)"/>
<ellipse cx="1137.1" cy="830.2" rx="68.5" ry="49.4" fill="#f2f4f6" opacity="0.95" filter="url(#bl12)"/>
<ellipse cx="1082.3" cy="843.9" rx="24.7" ry="32.9" fill="#3e7fbe" opacity="0.85" filter="url(#bl10)"/>
<ellipse cx="1233.1" cy="816.5" rx="16.5" ry="32.9" fill="#4a8ac4" opacity="0.8" filter="url(#bl10)"/>
<ellipse cx="1205.6" cy="597.1" rx="35.6" ry="27.4" fill="#9cc8e2" opacity="0.7" filter="url(#bl10)"/>
<ellipse cx="1096.0" cy="679.4" rx="21.9" ry="27.4" fill="#d6e8f3" opacity="0.6" filter="url(#bl10)"/>
<ellipse cx="1213.9" cy="854.8" rx="11.0" ry="8.2" fill="#f4b8a0" opacity="0.7" filter="url(#bl5)"/>
<ellipse cx="1301.6" cy="693.1" rx="11.0" ry="43.9" fill="#f2b4a0" opacity="0.95" filter="url(#bl6)" transform="rotate(20 1301.6 693.1)"/>
<ellipse cx="1320.8" cy="664.3" rx="8.8" ry="33.5" fill="#f0a890" opacity="0.95" filter="url(#bl5)" transform="rotate(34 1320.8 664.3)"/>
<ellipse cx="1296.1" cy="756.1" rx="8.2" ry="24.7" fill="#c04848" opacity="0.9" filter="url(#bl5)" transform="rotate(-25 1296.1 756.1)"/>
<ellipse cx="1274.2" cy="668.4" rx="11.0" ry="8.2" fill="#f0b8a0" opacity="0.8" filter="url(#bl5)"/>
<ellipse cx="1315.3" cy="816.5" rx="16.5" ry="68.5" fill="#f0a890" opacity="0.9" filter="url(#bl8)" transform="rotate(-10 1315.3 816.5)"/>
<ellipse cx="1356.5" cy="816.5" rx="60.3" ry="49.4" fill="#f8e8e0" opacity="0.85" filter="url(#bl12)"/>
<ellipse cx="1307.1" cy="854.8" rx="11.0" ry="11.0" fill="#c03840" opacity="0.8" filter="url(#bl5)"/>
<ellipse cx="1320.8" cy="720.5" rx="27.4" ry="27.4" fill="#6aa5d0" opacity="0.9" filter="url(#bl8)"/>
<ellipse cx="1397.6" cy="720.5" rx="32.9" ry="32.9" fill="#8fbfe0" opacity="0.7" filter="url(#bl10)"/>
<ellipse cx="1370.2" cy="624.5" rx="41.1" ry="27.4" fill="#a8cde6" opacity="0.7" filter="url(#bl10)"/>
<ellipse cx="1438.7" cy="816.5" rx="21.9" ry="27.4" fill="#5592c8" opacity="0.8" filter="url(#bl10)"/>
<ellipse cx="1287.9" cy="830.2" rx="11.0" ry="21.9" fill="#4a88c4" opacity="0.7" filter="url(#bl8)"/>
<path d="M1164.5,569.7 L1219.4,565.6 L1238.6,571.1 L1242.7,841.1 L1241.3,842.5 L1170.0,879.5 L1131.6,879.5 L1109.7,871.3 L1082.3,852.1 L1063.1,830.2 L1052.1,802.7 L1049.4,775.3 L1052.1,734.2 L1059.0,706.8 L1068.5,673.9 L1090.5,641.0 L1115.2,608.1 L1131.6,588.9 L1153.6,575.2 Z M1271.5,569.7 L1293.4,565.6 L1334.5,565.6 L1359.2,580.6 L1397.6,613.6 L1422.3,643.7 L1441.5,679.4 L1455.2,723.2 L1460.7,761.6 L1459.3,797.3 L1449.7,827.4 L1425.0,857.6 L1383.9,874.0 L1342.7,879.5 L1301.6,863.1 L1270.1,842.5 Z" fill="#fff" opacity="0.07" filter="url(#tex)"/>
</g>
<g clip-path="url(#g5)">
<path d="M263.8,1113.0 L281.4,1119.5 L291.6,1118.1 L299.0,1121.7 L301.9,1132.0 L304.8,1151.1 L315.1,1159.9 L319.5,1167.2 L319.5,1287.4 L307.8,1296.2 L290.2,1297.6 L285.8,1307.9 L263.8,1316.7 L243.3,1316.7 L225.7,1309.3 L214.0,1299.1 L196.4,1283.0 L187.6,1263.9 L184.7,1233.1 L187.6,1211.2 L199.3,1184.8 L214.0,1155.5 L231.6,1130.5 L246.2,1118.8 Z M334.2,1143.7 L344.4,1130.5 L360.5,1121.7 L379.6,1114.4 L395.7,1114.4 L410.4,1126.1 L422.1,1137.9 L428.0,1152.5 L438.2,1158.4 L439.7,1170.1 L428.0,1187.7 L448.5,1178.9 L454.3,1186.2 L461.7,1208.2 L457.3,1225.8 L464.6,1240.5 L461.7,1249.3 L457.3,1269.8 L445.5,1291.8 L422.1,1313.7 L401.6,1319.6 L382.5,1313.7 L363.5,1305.0 L345.9,1294.7 L334.2,1287.4 Z" fill="#d6e7f2"/>
<path d="M263.8,1113.0 L281.4,1119.5 L291.6,1118.1 L299.0,1121.7 L301.9,1132.0 L304.8,1151.1 L315.1,1159.9 L319.5,1167.2 L319.5,1287.4 L307.8,1296.2 L290.2,1297.6 L285.8,1307.9 L263.8,1316.7 L243.3,1316.7 L225.7,1309.3 L214.0,1299.1 L196.4,1283.0 L187.6,1263.9 L184.7,1233.1 L187.6,1211.2 L199.3,1184.8 L214.0,1155.5 L231.6,1130.5 L246.2,1118.8 Z M334.2,1143.7 L344.4,1130.5 L360.5,1121.7 L379.6,1114.4 L395.7,1114.4 L410.4,1126.1 L422.1,1137.9 L428.0,1152.5 L438.2,1158.4 L439.7,1170.1 L428.0,1187.7 L448.5,1178.9 L454.3,1186.2 L461.7,1208.2 L457.3,1225.8 L464.6,1240.5 L461.7,1249.3 L457.3,1269.8 L445.5,1291.8 L422.1,1313.7 L401.6,1319.6 L382.5,1313.7 L363.5,1305.0 L345.9,1294.7 L334.2,1287.4 Z" fill="none" stroke="#1e5eaa" stroke-width="14" opacity="0.9" filter="url(#gb6)"/>
<ellipse cx="265.3" cy="1181.8" rx="29.3" ry="41.0" fill="#f4f7fa" opacity="0.9" filter="url(#bl10)"/>
<ellipse cx="206.6" cy="1225.8" rx="20.5" ry="61.6" fill="#4286c6" opacity="0.9" filter="url(#bl10)"/>
<ellipse cx="199.3" cy="1277.1" rx="14.7" ry="26.4" fill="#2e6cb2" opacity="0.9" filter="url(#bl8)"/>
<ellipse cx="250.6" cy="1284.4" rx="14.7" ry="17.6" fill="#4f8fc8" opacity="0.8" filter="url(#bl8)"/>
<ellipse cx="287.3" cy="1291.8" rx="13.2" ry="8.8" fill="#3a78bc" opacity="0.8" filter="url(#bl8)"/>
<ellipse cx="236.0" cy="1211.2" rx="11.7" ry="14.7" fill="#a8cde6" opacity="0.6" filter="url(#bl10)"/>
<ellipse cx="353.2" cy="1181.8" rx="22.0" ry="38.1" fill="#f4f6f8" opacity="0.9" filter="url(#bl10)"/>
<ellipse cx="430.9" cy="1225.8" rx="24.9" ry="55.7" fill="#3e80c2" opacity="0.95" filter="url(#bl10)"/>
<ellipse cx="397.2" cy="1277.1" rx="22.0" ry="17.6" fill="#5090c8" opacity="0.85" filter="url(#bl8)"/>
<ellipse cx="382.5" cy="1225.8" rx="14.7" ry="17.6" fill="#9cc8e2" opacity="0.6" filter="url(#bl10)"/>
<ellipse cx="360.5" cy="1174.5" rx="4.4" ry="8.8" fill="#fbe0d4" opacity="0.6" filter="url(#bl5)"/>
<ellipse cx="345.9" cy="1277.1" rx="8.8" ry="17.6" fill="#e8f0f6" opacity="0.7" filter="url(#bl8)"/>
<path d="M263.8,1113.0 L281.4,1119.5 L291.6,1118.1 L299.0,1121.7 L301.9,1132.0 L304.8,1151.1 L315.1,1159.9 L319.5,1167.2 L319.5,1287.4 L307.8,1296.2 L290.2,1297.6 L285.8,1307.9 L263.8,1316.7 L243.3,1316.7 L225.7,1309.3 L214.0,1299.1 L196.4,1283.0 L187.6,1263.9 L184.7,1233.1 L187.6,1211.2 L199.3,1184.8 L214.0,1155.5 L231.6,1130.5 L246.2,1118.8 Z M334.2,1143.7 L344.4,1130.5 L360.5,1121.7 L379.6,1114.4 L395.7,1114.4 L410.4,1126.1 L422.1,1137.9 L428.0,1152.5 L438.2,1158.4 L439.7,1170.1 L428.0,1187.7 L448.5,1178.9 L454.3,1186.2 L461.7,1208.2 L457.3,1225.8 L464.6,1240.5 L461.7,1249.3 L457.3,1269.8 L445.5,1291.8 L422.1,1313.7 L401.6,1319.6 L382.5,1313.7 L363.5,1305.0 L345.9,1294.7 L334.2,1287.4 Z" fill="#fff" opacity="0.07" filter="url(#tex)"/>
</g>
<g clip-path="url(#g8)">
<path d="M709.4,1095.5 L725.9,1093.8 L745.8,1102.1 L768.9,1110.4 L775.6,1117.0 L777.2,1138.5 L782.2,1143.5 L782.2,1302.3 L768.9,1299.0 L760.7,1289.1 L755.7,1304.0 L757.3,1315.6 L745.8,1332.1 L729.2,1335.4 L716.0,1332.1 L706.0,1325.5 L696.1,1318.9 L669.6,1312.3 L653.1,1290.8 L634.9,1265.9 L633.2,1249.4 L639.9,1229.5 L653.1,1216.3 L653.1,1183.2 L656.4,1163.3 L669.6,1155.1 L689.5,1141.8 L692.8,1120.3 L696.1,1105.4 Z M800.4,1128.6 L818.6,1108.7 L835.1,1102.1 L864.9,1094.7 L878.1,1098.8 L899.7,1117.0 L906.3,1133.5 L924.5,1150.1 L941.0,1176.6 L951.0,1203.0 L955.9,1224.6 L957.6,1249.4 L952.6,1274.2 L941.0,1299.0 L917.9,1318.9 L898.0,1338.7 L888.1,1345.4 L868.2,1342.0 L848.4,1335.4 L831.8,1318.9 L815.3,1309.0 L802.0,1299.0 L799.5,1199.7 L813.6,1193.1 L800.4,1189.8 Z" fill="#d0e4f1"/>
<path d="M709.4,1095.5 L725.9,1093.8 L745.8,1102.1 L768.9,1110.4 L775.6,1117.0 L777.2,1138.5 L782.2,1143.5 L782.2,1302.3 L768.9,1299.0 L760.7,1289.1 L755.7,1304.0 L757.3,1315.6 L745.8,1332.1 L729.2,1335.4 L716.0,1332.1 L706.0,1325.5 L696.1,1318.9 L669.6,1312.3 L653.1,1290.8 L634.9,1265.9 L633.2,1249.4 L639.9,1229.5 L653.1,1216.3 L653.1,1183.2 L656.4,1163.3 L669.6,1155.1 L689.5,1141.8 L692.8,1120.3 L696.1,1105.4 Z M800.4,1128.6 L818.6,1108.7 L835.1,1102.1 L864.9,1094.7 L878.1,1098.8 L899.7,1117.0 L906.3,1133.5 L924.5,1150.1 L941.0,1176.6 L951.0,1203.0 L955.9,1224.6 L957.6,1249.4 L952.6,1274.2 L941.0,1299.0 L917.9,1318.9 L898.0,1338.7 L888.1,1345.4 L868.2,1342.0 L848.4,1335.4 L831.8,1318.9 L815.3,1309.0 L802.0,1299.0 L799.5,1199.7 L813.6,1193.1 L800.4,1189.8 Z" fill="none" stroke="#1e5eaa" stroke-width="14" opacity="0.9" filter="url(#gb6)"/>
<ellipse cx="661.4" cy="1241.1" rx="23.2" ry="74.5" fill="#3e82c4" opacity="0.9" filter="url(#bl10)"/>
<ellipse cx="702.7" cy="1133.5" rx="19.9" ry="29.8" fill="#6aa6d4" opacity="0.8" filter="url(#bl10)"/>
<ellipse cx="735.8" cy="1232.8" rx="33.1" ry="41.4" fill="#f2f6f9" opacity="0.8" filter="url(#bl12)"/>
<ellipse cx="744.1" cy="1183.2" rx="21.5" ry="14.9" fill="#f6d0bc" opacity="0.9" filter="url(#bl8)" transform="rotate(-20 744.1 1183.2)"/>
<ellipse cx="711.0" cy="1299.0" rx="19.9" ry="16.5" fill="#7fb3d8" opacity="0.8" filter="url(#bl10)"/>
<ellipse cx="719.3" cy="1163.3" rx="3.3" ry="3.3" fill="#1a3a70" opacity="0.9" filter="url(#bl3)"/>
<ellipse cx="917.9" cy="1249.4" rx="28.1" ry="66.2" fill="#4084c4" opacity="0.9" filter="url(#bl10)"/>
<ellipse cx="843.4" cy="1174.9" rx="29.8" ry="19.9" fill="#f5cdb8" opacity="0.9" filter="url(#bl8)" transform="rotate(-20 843.4 1174.9)"/>
<ellipse cx="884.8" cy="1191.5" rx="13.2" ry="9.9" fill="#f6d2c0" opacity="0.8" filter="url(#bl6)"/>
<ellipse cx="851.7" cy="1265.9" rx="33.1" ry="33.1" fill="#f2f6f9" opacity="0.8" filter="url(#bl12)"/>
<ellipse cx="868.2" cy="1315.6" rx="24.8" ry="14.9" fill="#8abbe0" opacity="0.8" filter="url(#bl8)"/>
<ellipse cx="901.3" cy="1335.4" rx="19.9" ry="9.9" fill="#3070b8" opacity="0.9" filter="url(#bl6)"/>
<path d="M709.4,1095.5 L725.9,1093.8 L745.8,1102.1 L768.9,1110.4 L775.6,1117.0 L777.2,1138.5 L782.2,1143.5 L782.2,1302.3 L768.9,1299.0 L760.7,1289.1 L755.7,1304.0 L757.3,1315.6 L745.8,1332.1 L729.2,1335.4 L716.0,1332.1 L706.0,1325.5 L696.1,1318.9 L669.6,1312.3 L653.1,1290.8 L634.9,1265.9 L633.2,1249.4 L639.9,1229.5 L653.1,1216.3 L653.1,1183.2 L656.4,1163.3 L669.6,1155.1 L689.5,1141.8 L692.8,1120.3 L696.1,1105.4 Z M800.4,1128.6 L818.6,1108.7 L835.1,1102.1 L864.9,1094.7 L878.1,1098.8 L899.7,1117.0 L906.3,1133.5 L924.5,1150.1 L941.0,1176.6 L951.0,1203.0 L955.9,1224.6 L957.6,1249.4 L952.6,1274.2 L941.0,1299.0 L917.9,1318.9 L898.0,1338.7 L888.1,1345.4 L868.2,1342.0 L848.4,1335.4 L831.8,1318.9 L815.3,1309.0 L802.0,1299.0 L799.5,1199.7 L813.6,1193.1 L800.4,1189.8 Z" fill="#fff" opacity="0.07" filter="url(#tex)"/>
</g>
<g clip-path="url(#g13)">
<path d="M1164.5,1063.6 L1219.4,1059.5 L1238.6,1065.0 L1242.7,1335.0 L1241.3,1336.4 L1170.0,1373.4 L1131.6,1373.4 L1109.7,1365.2 L1082.3,1346.0 L1063.1,1324.1 L1052.1,1296.6 L1049.4,1269.2 L1052.1,1228.1 L1059.0,1200.7 L1068.5,1167.8 L1090.5,1134.9 L1115.2,1102.0 L1131.6,1082.8 L1153.6,1069.1 Z M1271.5,1063.6 L1293.4,1059.5 L1334.5,1059.5 L1359.2,1074.5 L1397.6,1107.5 L1422.3,1137.6 L1441.5,1173.3 L1455.2,1217.1 L1460.7,1255.5 L1459.3,1291.2 L1449.7,1321.3 L1425.0,1351.5 L1383.9,1367.9 L1342.7,1373.4 L1301.6,1357.0 L1270.1,1336.4 Z" fill="#e2907a"/>
<ellipse cx="1200.2" cy="1125.0" rx="19.2" ry="25.5" fill="#f6d4c4" opacity="0.95" filter="url(#bl8)"/>
<ellipse cx="1196.1" cy="1221.0" rx="17.0" ry="23.3" fill="#f8dccf" opacity="0.95" filter="url(#bl6)"/>
<ellipse cx="1115.2" cy="1210.3" rx="31.8" ry="34.0" fill="#f2bca8" opacity="0.85" filter="url(#bl10)"/>
<ellipse cx="1089.7" cy="1284.6" rx="21.4" ry="25.5" fill="#f0b8a4" opacity="0.7" filter="url(#bl10)"/>
<ellipse cx="1179.1" cy="1284.6" rx="19.2" ry="21.4" fill="#f0b4a0" opacity="0.7" filter="url(#bl9)"/>
<ellipse cx="1157.7" cy="1159.3" rx="14.8" ry="17.0" fill="#f2c0ac" opacity="0.7" filter="url(#bl8)"/>
<ellipse cx="1175.8" cy="1144.2" rx="17.0" ry="46.6" fill="#ae2634" opacity="0.95" filter="url(#bl6)" transform="rotate(-42 1175.8 1144.2)"/>
<ellipse cx="1183.2" cy="1159.3" rx="5.2" ry="21.4" fill="#8e1a2a" opacity="0.7" filter="url(#bl4)" transform="rotate(-42 1183.2 1159.3)"/>
<ellipse cx="1151.4" cy="1205.9" rx="6.3" ry="46.9" fill="#c44848" opacity="0.7" filter="url(#bl7)" transform="rotate(-9 1151.4 1205.9)"/>
<ellipse cx="1111.9" cy="1242.1" rx="6.3" ry="46.9" fill="#cc5c5a" opacity="0.6" filter="url(#bl8)" transform="rotate(-77 1111.9 1242.1)"/>
<ellipse cx="1125.9" cy="1284.6" rx="6.3" ry="45.2" fill="#c85454" opacity="0.7" filter="url(#bl8)" transform="rotate(45 1125.9 1284.6)"/>
<ellipse cx="1184.3" cy="1284.6" rx="6.0" ry="41.4" fill="#cc5c58" opacity="0.55" filter="url(#bl8)" transform="rotate(-40 1184.3 1284.6)"/>
<ellipse cx="1076.8" cy="1342.2" rx="19.2" ry="34.0" fill="#eef2f6" opacity="0.9" filter="url(#bl7)" transform="rotate(-35 1076.8 1342.2)"/>
<ellipse cx="1232.2" cy="1306.0" rx="10.7" ry="36.2" fill="#eef2f6" opacity="0.9" filter="url(#bl7)"/>
<ellipse cx="1062.0" cy="1263.5" rx="10.7" ry="31.8" fill="#f6e0d6" opacity="0.6" filter="url(#bl8)"/>
<ellipse cx="1276.9" cy="1114.6" rx="21.4" ry="29.9" fill="#f6d2c2" opacity="0.9" filter="url(#bl8)"/>
<ellipse cx="1317.2" cy="1221.0" rx="23.3" ry="27.7" fill="#f8dccf" opacity="0.95" filter="url(#bl6)"/>
<ellipse cx="1355.6" cy="1167.8" rx="7.4" ry="9.6" fill="#fbeee8" opacity="0.95" filter="url(#bl4)"/>
<ellipse cx="1391.8" cy="1210.3" rx="25.5" ry="27.7" fill="#f2bca8" opacity="0.8" filter="url(#bl10)"/>
<ellipse cx="1327.9" cy="1295.3" rx="25.5" ry="23.3" fill="#f0b8a4" opacity="0.7" filter="url(#bl10)"/>
<ellipse cx="1327.9" cy="1154.9" rx="17.0" ry="52.1" fill="#ac2634" opacity="0.95" filter="url(#bl6)" transform="rotate(48 1327.9 1154.9)"/>
<ellipse cx="1321.4" cy="1161.2" rx="5.2" ry="21.4" fill="#8e1a2a" opacity="0.7" filter="url(#bl4)" transform="rotate(48 1321.4 1161.2)"/>
<ellipse cx="1287.4" cy="1216.6" rx="6.3" ry="27.7" fill="#c44848" opacity="0.75" filter="url(#bl6)" transform="rotate(5 1287.4 1216.6)"/>
<ellipse cx="1365.2" cy="1274.2" rx="6.3" ry="34.0" fill="#c85050" opacity="0.7" filter="url(#bl8)" transform="rotate(-51 1365.2 1274.2)"/>
<ellipse cx="1317.2" cy="1306.0" rx="6.0" ry="34.0" fill="#cc5a58" opacity="0.6" filter="url(#bl8)" transform="rotate(-18 1317.2 1306.0)"/>
<ellipse cx="1281.1" cy="1320.8" rx="12.9" ry="29.9" fill="#eef2f6" opacity="0.9" filter="url(#bl7)"/>
<ellipse cx="1421.4" cy="1342.2" rx="27.7" ry="14.8" fill="#eef2f6" opacity="0.85" filter="url(#bl7)" transform="rotate(-30 1421.4 1342.2)"/>
<path d="M1164.5,1063.6 L1219.4,1059.5 L1238.6,1065.0 L1242.7,1335.0 L1241.3,1336.4 L1170.0,1373.4 L1131.6,1373.4 L1109.7,1365.2 L1082.3,1346.0 L1063.1,1324.1 L1052.1,1296.6 L1049.4,1269.2 L1052.1,1228.1 L1059.0,1200.7 L1068.5,1167.8 L1090.5,1134.9 L1115.2,1102.0 L1131.6,1082.8 L1153.6,1069.1 Z M1271.5,1063.6 L1293.4,1059.5 L1334.5,1059.5 L1359.2,1074.5 L1397.6,1107.5 L1422.3,1137.6 L1441.5,1173.3 L1455.2,1217.1 L1460.7,1255.5 L1459.3,1291.2 L1449.7,1321.3 L1425.0,1351.5 L1383.9,1367.9 L1342.7,1373.4 L1301.6,1357.0 L1270.1,1336.4 Z" fill="#fff" opacity="0.07" filter="url(#tex)"/>
</g>
<g clip-path="url(#i5)">
<path d="M263.8,1598.1 L281.4,1604.6 L291.6,1603.2 L299.0,1606.8 L301.9,1617.1 L304.8,1636.2 L315.1,1645.0 L319.5,1652.3 L319.5,1772.5 L307.8,1781.3 L290.2,1782.7 L285.8,1793.0 L263.8,1801.8 L243.3,1801.8 L225.7,1794.4 L214.0,1784.2 L196.4,1768.1 L187.6,1749.0 L184.7,1718.2 L187.6,1696.3 L199.3,1669.9 L214.0,1640.6 L231.6,1615.6 L246.2,1603.9 Z M334.2,1628.8 L344.4,1615.6 L360.5,1606.8 L379.6,1599.5 L395.7,1599.5 L410.4,1611.2 L422.1,1623.0 L428.0,1637.6 L438.2,1643.5 L439.7,1655.2 L428.0,1672.8 L448.5,1664.0 L454.3,1671.3 L461.7,1693.3 L457.3,1710.9 L464.6,1725.6 L461.7,1734.4 L457.3,1754.9 L445.5,1776.9 L422.1,1798.8 L401.6,1804.7 L382.5,1798.8 L363.5,1790.1 L345.9,1779.8 L334.2,1772.5 Z" fill="#2462ac"/>
<ellipse cx="265.3" cy="1696.3" rx="16.1" ry="38.1" fill="#3d82c6" opacity="0.85" filter="url(#bl10)" transform="rotate(-45 265.3 1696.3)"/>
<ellipse cx="281.4" cy="1710.9" rx="10.3" ry="13.2" fill="#6aa6dc" opacity="0.85" filter="url(#bl8)" transform="rotate(-45 281.4 1710.9)"/>
<ellipse cx="231.6" cy="1661.1" rx="5.9" ry="26.4" fill="#1c4f98" opacity="0.6" filter="url(#bl6)" transform="rotate(-45 231.6 1661.1)"/>
<ellipse cx="214.0" cy="1725.6" rx="11.7" ry="17.6" fill="#1e58a0" opacity="0.5" filter="url(#bl8)"/>
<ellipse cx="366.4" cy="1705.0" rx="17.6" ry="26.4" fill="#3d82c6" opacity="0.85" filter="url(#bl10)" transform="rotate(-30 366.4 1705.0)"/>
<ellipse cx="367.1" cy="1703.6" rx="8.1" ry="8.1" fill="#70aade" opacity="0.8" filter="url(#bl8)"/>
<ellipse cx="404.5" cy="1710.9" rx="17.6" ry="26.4" fill="#2a68b0" opacity="0.6" filter="url(#bl10)"/>
<ellipse cx="389.8" cy="1754.9" rx="11.7" ry="11.7" fill="#3478bc" opacity="0.5" filter="url(#bl8)"/>
<ellipse cx="301.9" cy="1740.2" rx="8.8" ry="14.7" fill="#3a7cc2" opacity="0.6" filter="url(#bl8)"/>
<ellipse cx="338.5" cy="1710.9" rx="5.9" ry="17.6" fill="#3a86c8" opacity="0.6" filter="url(#bl6)"/>
<path d="M263.8,1598.1 L281.4,1604.6 L291.6,1603.2 L299.0,1606.8 L301.9,1617.1 L304.8,1636.2 L315.1,1645.0 L319.5,1652.3 L319.5,1772.5 L307.8,1781.3 L290.2,1782.7 L285.8,1793.0 L263.8,1801.8 L243.3,1801.8 L225.7,1794.4 L214.0,1784.2 L196.4,1768.1 L187.6,1749.0 L184.7,1718.2 L187.6,1696.3 L199.3,1669.9 L214.0,1640.6 L231.6,1615.6 L246.2,1603.9 Z M334.2,1628.8 L344.4,1615.6 L360.5,1606.8 L379.6,1599.5 L395.7,1599.5 L410.4,1611.2 L422.1,1623.0 L428.0,1637.6 L438.2,1643.5 L439.7,1655.2 L428.0,1672.8 L448.5,1664.0 L454.3,1671.3 L461.7,1693.3 L457.3,1710.9 L464.6,1725.6 L461.7,1734.4 L457.3,1754.9 L445.5,1776.9 L422.1,1798.8 L401.6,1804.7 L382.5,1798.8 L363.5,1790.1 L345.9,1779.8 L334.2,1772.5 Z" fill="#fff" opacity="0.07" filter="url(#tex)"/>
</g>
<g clip-path="url(#i8)">
<path d="M709.4,1580.6 L725.9,1578.9 L745.8,1587.2 L768.9,1595.5 L775.6,1602.1 L777.2,1623.6 L782.2,1628.6 L782.2,1787.4 L768.9,1784.1 L760.7,1774.2 L755.7,1789.1 L757.3,1800.7 L745.8,1817.2 L729.2,1820.5 L716.0,1817.2 L706.0,1810.6 L696.1,1804.0 L669.6,1797.4 L653.1,1775.9 L634.9,1751.0 L633.2,1734.5 L639.9,1714.6 L653.1,1701.4 L653.1,1668.3 L656.4,1648.4 L669.6,1640.2 L689.5,1626.9 L692.8,1605.4 L696.1,1590.5 Z M800.4,1613.7 L818.6,1593.8 L835.1,1587.2 L864.9,1579.8 L878.1,1583.9 L899.7,1602.1 L906.3,1618.6 L924.5,1635.2 L941.0,1661.7 L951.0,1688.1 L955.9,1709.7 L957.6,1734.5 L952.6,1759.3 L941.0,1784.1 L917.9,1804.0 L898.0,1823.8 L888.1,1830.5 L868.2,1827.1 L848.4,1820.5 L831.8,1804.0 L815.3,1794.1 L802.0,1784.1 L799.5,1684.8 L813.6,1678.2 L800.4,1674.9 Z" fill="#2462ac"/>
<ellipse cx="735.8" cy="1717.9" rx="36.4" ry="36.4" fill="#3a7ec4" opacity="0.85" filter="url(#bl12)"/>
<ellipse cx="735.8" cy="1717.9" rx="11.6" ry="9.9" fill="#6aa6dc" opacity="0.75" filter="url(#bl8)"/>
<ellipse cx="859.9" cy="1709.7" rx="43.0" ry="38.1" fill="#3c80c6" opacity="0.85" filter="url(#bl12)"/>
<ellipse cx="848.4" cy="1709.7" rx="13.2" ry="11.6" fill="#72acde" opacity="0.75" filter="url(#bl8)"/>
<ellipse cx="702.7" cy="1635.2" rx="21.5" ry="26.5" fill="#3272ba" opacity="0.7" filter="url(#bl10)"/>
<ellipse cx="868.2" cy="1635.2" rx="23.2" ry="24.8" fill="#3272ba" opacity="0.6" filter="url(#bl10)"/>
<ellipse cx="669.6" cy="1734.5" rx="16.5" ry="33.1" fill="#2a66ae" opacity="0.6" filter="url(#bl10)"/>
<ellipse cx="926.1" cy="1734.5" rx="16.5" ry="33.1" fill="#2a66ae" opacity="0.6" filter="url(#bl10)"/>
<path d="M709.4,1580.6 L725.9,1578.9 L745.8,1587.2 L768.9,1595.5 L775.6,1602.1 L777.2,1623.6 L782.2,1628.6 L782.2,1787.4 L768.9,1784.1 L760.7,1774.2 L755.7,1789.1 L757.3,1800.7 L745.8,1817.2 L729.2,1820.5 L716.0,1817.2 L706.0,1810.6 L696.1,1804.0 L669.6,1797.4 L653.1,1775.9 L634.9,1751.0 L633.2,1734.5 L639.9,1714.6 L653.1,1701.4 L653.1,1668.3 L656.4,1648.4 L669.6,1640.2 L689.5,1626.9 L692.8,1605.4 L696.1,1590.5 Z M800.4,1613.7 L818.6,1593.8 L835.1,1587.2 L864.9,1579.8 L878.1,1583.9 L899.7,1602.1 L906.3,1618.6 L924.5,1635.2 L941.0,1661.7 L951.0,1688.1 L955.9,1709.7 L957.6,1734.5 L952.6,1759.3 L941.0,1784.1 L917.9,1804.0 L898.0,1823.8 L888.1,1830.5 L868.2,1827.1 L848.4,1820.5 L831.8,1804.0 L815.3,1794.1 L802.0,1784.1 L799.5,1684.8 L813.6,1678.2 L800.4,1674.9 Z" fill="#fff" opacity="0.07" filter="url(#tex)"/>
</g>
<g clip-path="url(#i13)">
<path d="M1164.5,1548.7 L1219.4,1544.6 L1238.6,1550.1 L1242.7,1820.1 L1241.3,1821.5 L1170.0,1858.5 L1131.6,1858.5 L1109.7,1850.3 L1082.3,1831.1 L1063.1,1809.2 L1052.1,1781.7 L1049.4,1754.3 L1052.1,1713.2 L1059.0,1685.8 L1068.5,1652.9 L1090.5,1620.0 L1115.2,1587.1 L1131.6,1567.9 L1153.6,1554.2 Z M1271.5,1548.7 L1293.4,1544.6 L1334.5,1544.6 L1359.2,1559.6 L1397.6,1592.6 L1422.3,1622.7 L1441.5,1658.4 L1455.2,1702.2 L1460.7,1740.6 L1459.3,1776.3 L1449.7,1806.4 L1425.0,1836.6 L1383.9,1853.0 L1342.7,1858.5 L1301.6,1842.1 L1270.1,1821.5 Z" fill="#c8dff0"/>
<ellipse cx="1191.9" cy="1581.6" rx="35.6" ry="32.9" fill="#e8907a" opacity="0.95" filter="url(#bl8)"/>
<ellipse cx="1211.1" cy="1609.0" rx="16.5" ry="21.9" fill="#b52a34" opacity="0.95" filter="url(#bl6)"/>
<ellipse cx="1123.4" cy="1620.0" rx="16.5" ry="16.5" fill="#e89880" opacity="0.9" filter="url(#bl8)"/>
<ellipse cx="1123.4" cy="1699.5" rx="35.6" ry="60.3" fill="#e08a74" opacity="0.85" filter="url(#bl8)"/>
<ellipse cx="1112.4" cy="1691.3" rx="19.2" ry="38.4" fill="#b42432" opacity="0.92" filter="url(#bl7)"/>
<ellipse cx="1109.7" cy="1699.5" rx="9.6" ry="16.5" fill="#8c1428" opacity="0.8" filter="url(#bl5)"/>
<ellipse cx="1191.9" cy="1699.5" rx="16.5" ry="24.7" fill="#b52a34" opacity="0.95" filter="url(#bl6)"/>
<ellipse cx="1170.0" cy="1663.8" rx="11.0" ry="19.2" fill="#f0a890" opacity="0.9" filter="url(#bl6)"/>
<ellipse cx="1082.3" cy="1762.6" rx="24.7" ry="21.9" fill="#ee9f88" opacity="0.9" filter="url(#bl8)"/>
<ellipse cx="1137.1" cy="1768.0" rx="38.4" ry="27.4" fill="#f0b4a0" opacity="0.8" filter="url(#bl8)"/>
<ellipse cx="1170.0" cy="1630.9" rx="16.5" ry="54.8" fill="#5a9ad0" opacity="0.85" filter="url(#bl8)" transform="rotate(-38 1170.0 1630.9)"/>
<ellipse cx="1137.1" cy="1822.9" rx="54.8" ry="32.9" fill="#f4eeea" opacity="0.85" filter="url(#bl10)"/>
<ellipse cx="1071.3" cy="1809.2" rx="16.5" ry="27.4" fill="#7ab0d8" opacity="0.8" filter="url(#bl8)"/>
<ellipse cx="1213.9" cy="1781.7" rx="13.7" ry="41.1" fill="#80b4da" opacity="0.8" filter="url(#bl8)"/>
<ellipse cx="1233.1" cy="1795.5" rx="6.9" ry="11.0" fill="#f0a890" opacity="0.8" filter="url(#bl5)"/>
<ellipse cx="1296.1" cy="1598.0" rx="30.2" ry="30.2" fill="#ea9c84" opacity="0.95" filter="url(#bl8)"/>
<ellipse cx="1329.0" cy="1570.6" rx="27.4" ry="16.5" fill="#f0b09a" opacity="0.9" filter="url(#bl8)"/>
<ellipse cx="1315.3" cy="1702.2" rx="19.2" ry="21.9" fill="#b42432" opacity="0.95" filter="url(#bl6)"/>
<ellipse cx="1389.4" cy="1685.8" rx="27.4" ry="21.9" fill="#b42432" opacity="0.9" filter="url(#bl7)"/>
<ellipse cx="1370.2" cy="1658.4" rx="41.1" ry="32.9" fill="#e08a74" opacity="0.85" filter="url(#bl8)"/>
<ellipse cx="1356.5" cy="1630.9" rx="16.5" ry="27.4" fill="#e89880" opacity="0.9" filter="url(#bl6)"/>
<ellipse cx="1427.7" cy="1768.0" rx="19.2" ry="27.4" fill="#e9957e" opacity="0.9" filter="url(#bl8)"/>
<ellipse cx="1296.1" cy="1740.6" rx="11.0" ry="49.4" fill="#5090c8" opacity="0.8" filter="url(#bl8)" transform="rotate(-15 1296.1 1740.6)"/>
<ellipse cx="1342.7" cy="1795.5" rx="68.5" ry="41.1" fill="#f6f2f0" opacity="0.85" filter="url(#bl10)"/>
<ellipse cx="1411.3" cy="1836.6" rx="21.9" ry="16.5" fill="#5a96cc" opacity="0.7" filter="url(#bl8)"/>
<ellipse cx="1287.9" cy="1828.4" rx="16.5" ry="13.7" fill="#4a88c4" opacity="0.8" filter="url(#bl8)"/>
<path d="M1164.5,1548.7 L1219.4,1544.6 L1238.6,1550.1 L1242.7,1820.1 L1241.3,1821.5 L1170.0,1858.5 L1131.6,1858.5 L1109.7,1850.3 L1082.3,1831.1 L1063.1,1809.2 L1052.1,1781.7 L1049.4,1754.3 L1052.1,1713.2 L1059.0,1685.8 L1068.5,1652.9 L1090.5,1620.0 L1115.2,1587.1 L1131.6,1567.9 L1153.6,1554.2 Z M1271.5,1548.7 L1293.4,1544.6 L1334.5,1544.6 L1359.2,1559.6 L1397.6,1592.6 L1422.3,1622.7 L1441.5,1658.4 L1455.2,1702.2 L1460.7,1740.6 L1459.3,1776.3 L1449.7,1806.4 L1425.0,1836.6 L1383.9,1853.0 L1342.7,1858.5 L1301.6,1842.1 L1270.1,1821.5 Z" fill="#fff" opacity="0.07" filter="url(#tex)"/>
</g>
<rect x="335.8" y="836" width="78.7" height="12.4" fill="#fff"/>
<text x="319.6" y="881.8" font-size="31" fill="#fff" textLength="127.8" lengthAdjust="spacingAndGlyphs">2000 &#956;m</text>
<rect x="334.3" y="1331.5" width="79.2" height="12" fill="#fff"/>
<rect x="332.2" y="1818.6" width="79.2" height="12" fill="#fff"/>
<text x="114.6" y="599.1" font-size="53" font-weight="bold" font-style="normal" fill="#fff" text-anchor="start" textLength="57.0" lengthAdjust="spacingAndGlyphs" >P5</text>
<text x="574.2" y="599.1" font-size="53" font-weight="bold" font-style="normal" fill="#fff" text-anchor="start" textLength="57.0" lengthAdjust="spacingAndGlyphs" >P8</text>
<text x="1041.1" y="599.1" font-size="53" font-weight="bold" font-style="normal" fill="#fff" text-anchor="start" textLength="86.4" lengthAdjust="spacingAndGlyphs" >P13</text>
<text x="114.6" y="1093.0" font-size="53" font-weight="bold" font-style="normal" fill="#fff" text-anchor="start" textLength="57.0" lengthAdjust="spacingAndGlyphs" >P5</text>
<text x="574.2" y="1093.0" font-size="53" font-weight="bold" font-style="normal" fill="#fff" text-anchor="start" textLength="57.0" lengthAdjust="spacingAndGlyphs" >P8</text>
<text x="1041.1" y="1093.0" font-size="53" font-weight="bold" font-style="normal" fill="#fff" text-anchor="start" textLength="86.4" lengthAdjust="spacingAndGlyphs" >P13</text>
<text x="114.6" y="1578.1" font-size="53" font-weight="bold" font-style="normal" fill="#fff" text-anchor="start" textLength="57.0" lengthAdjust="spacingAndGlyphs" >P5</text>
<text x="574.2" y="1578.1" font-size="53" font-weight="bold" font-style="normal" fill="#fff" text-anchor="start" textLength="57.0" lengthAdjust="spacingAndGlyphs" >P8</text>
<text x="1041.1" y="1578.1" font-size="53" font-weight="bold" font-style="normal" fill="#fff" text-anchor="start" textLength="86.4" lengthAdjust="spacingAndGlyphs" >P13</text>
<text x="594.9" y="528.8" font-size="46.4" font-weight="bold" font-style="normal" fill="#231f20" text-anchor="start" textLength="393.3" lengthAdjust="spacingAndGlyphs" >Domain duration</text>
<text x="594.9" y="1022.5" font-size="46.4" font-weight="bold" font-style="normal" fill="#231f20" text-anchor="start" textLength="402.0" lengthAdjust="spacingAndGlyphs" >Domain diameter</text>
<text x="573.5" y="1507.0" font-size="46.4" font-weight="bold" font-style="normal" fill="#231f20" text-anchor="start" textLength="432.0" lengthAdjust="spacingAndGlyphs" >Domain frequency</text>
<text x="1489.4" y="576.5" font-size="30.5" font-weight="bold" font-style="normal" fill="#231f20" text-anchor="start" textLength="54.9" lengthAdjust="spacingAndGlyphs" >Dur</text>
<text x="1489.4" y="615.0" font-size="30.5" font-weight="bold" font-style="normal" fill="#231f20" text-anchor="start" textLength="38.4" lengthAdjust="spacingAndGlyphs" >(s)</text>
<text x="1485.3" y="1072.0" font-size="30.5" font-weight="bold" font-style="normal" fill="#231f20" text-anchor="start" textLength="79.5" lengthAdjust="spacingAndGlyphs" >Diam</text>
<text x="1485.3" y="1111.8" font-size="30.5" font-weight="bold" fill="#231f20">(<tspan font-style="italic">&#956;</tspan>m)</text>
<text x="1485.3" y="1559.3" font-size="30.5" font-weight="bold" font-style="normal" fill="#231f20" text-anchor="start" textLength="69.9" lengthAdjust="spacingAndGlyphs" >Freq</text>
<text x="1485.3" y="1599" font-size="30.5" font-weight="bold" fill="#231f20">(min<tspan font-size="17" dy="-13">-1</tspan><tspan dy="13">)</tspan></text>
<rect x="1489.8" y="654.5" width="25" height="241.6" fill="url(#cbe)" stroke="#000" stroke-width="2.4"/>
<line x1="1488.6" y1="656.0" x2="1492.6" y2="656.0" stroke="#000" stroke-width="1.4"/>
<line x1="1512.0" y1="656.0" x2="1516.0" y2="656.0" stroke="#000" stroke-width="1.4"/>
<line x1="1488.6" y1="696.0" x2="1492.6" y2="696.0" stroke="#000" stroke-width="1.4"/>
<line x1="1512.0" y1="696.0" x2="1516.0" y2="696.0" stroke="#000" stroke-width="1.4"/>
<line x1="1488.6" y1="736.0" x2="1492.6" y2="736.0" stroke="#000" stroke-width="1.4"/>
<line x1="1512.0" y1="736.0" x2="1516.0" y2="736.0" stroke="#000" stroke-width="1.4"/>
<line x1="1488.6" y1="776.0" x2="1492.6" y2="776.0" stroke="#000" stroke-width="1.4"/>
<line x1="1512.0" y1="776.0" x2="1516.0" y2="776.0" stroke="#000" stroke-width="1.4"/>
<line x1="1488.6" y1="816.0" x2="1492.6" y2="816.0" stroke="#000" stroke-width="1.4"/>
<line x1="1512.0" y1="816.0" x2="1516.0" y2="816.0" stroke="#000" stroke-width="1.4"/>
<line x1="1488.6" y1="856.0" x2="1492.6" y2="856.0" stroke="#000" stroke-width="1.4"/>
<line x1="1512.0" y1="856.0" x2="1516.0" y2="856.0" stroke="#000" stroke-width="1.4"/>
<line x1="1488.6" y1="896.0" x2="1492.6" y2="896.0" stroke="#000" stroke-width="1.4"/>
<line x1="1512.0" y1="896.0" x2="1516.0" y2="896.0" stroke="#000" stroke-width="1.4"/>
<text x="1519.6" y="664.6" font-size="24.5" fill="#231f20">12</text>
<text x="1519.6" y="704.6" font-size="24.5" fill="#231f20">10</text>
<text x="1519.6" y="744.6" font-size="24.5" fill="#231f20">8</text>
<text x="1519.6" y="784.6" font-size="24.5" fill="#231f20">6</text>
<text x="1519.6" y="824.6" font-size="24.5" fill="#231f20">4</text>
<text x="1519.6" y="864.6" font-size="24.5" fill="#231f20">2</text>
<text x="1519.6" y="904.6" font-size="24.5" fill="#231f20">0</text>
<rect x="1490.6000000000001" y="1133.5" width="25" height="257.9" fill="url(#cbg)" stroke="#000" stroke-width="2.4"/>
<line x1="1489.4" y1="1150.0" x2="1493.4" y2="1150.0" stroke="#000" stroke-width="1.4"/>
<line x1="1512.8000000000002" y1="1150.0" x2="1516.8000000000002" y2="1150.0" stroke="#000" stroke-width="1.4"/>
<line x1="1489.4" y1="1184.1" x2="1493.4" y2="1184.1" stroke="#000" stroke-width="1.4"/>
<line x1="1512.8000000000002" y1="1184.1" x2="1516.8000000000002" y2="1184.1" stroke="#000" stroke-width="1.4"/>
<line x1="1489.4" y1="1218.2" x2="1493.4" y2="1218.2" stroke="#000" stroke-width="1.4"/>
<line x1="1512.8000000000002" y1="1218.2" x2="1516.8000000000002" y2="1218.2" stroke="#000" stroke-width="1.4"/>
<line x1="1489.4" y1="1252.3" x2="1493.4" y2="1252.3" stroke="#000" stroke-width="1.4"/>
<line x1="1512.8000000000002" y1="1252.3" x2="1516.8000000000002" y2="1252.3" stroke="#000" stroke-width="1.4"/>
<line x1="1489.4" y1="1286.4" x2="1493.4" y2="1286.4" stroke="#000" stroke-width="1.4"/>
<line x1="1512.8000000000002" y1="1286.4" x2="1516.8000000000002" y2="1286.4" stroke="#000" stroke-width="1.4"/>
<line x1="1489.4" y1="1320.5" x2="1493.4" y2="1320.5" stroke="#000" stroke-width="1.4"/>
<line x1="1512.8000000000002" y1="1320.5" x2="1516.8000000000002" y2="1320.5" stroke="#000" stroke-width="1.4"/>
<line x1="1489.4" y1="1354.6" x2="1493.4" y2="1354.6" stroke="#000" stroke-width="1.4"/>
<line x1="1512.8000000000002" y1="1354.6" x2="1516.8000000000002" y2="1354.6" stroke="#000" stroke-width="1.4"/>
<line x1="1489.4" y1="1388.7" x2="1493.4" y2="1388.7" stroke="#000" stroke-width="1.4"/>
<line x1="1512.8000000000002" y1="1388.7" x2="1516.8000000000002" y2="1388.7" stroke="#000" stroke-width="1.4"/>
<text x="1520.4" y="1158.6" font-size="24.5" fill="#231f20">3500</text>
<text x="1520.4" y="1192.7" font-size="24.5" fill="#231f20">3000</text>
<text x="1520.4" y="1226.8" font-size="24.5" fill="#231f20">2500</text>
<text x="1520.4" y="1260.9" font-size="24.5" fill="#231f20">2000</text>
<text x="1520.4" y="1295.0" font-size="24.5" fill="#231f20">1500</text>
<text x="1520.4" y="1329.1" font-size="24.5" fill="#231f20">1000</text>
<text x="1520.4" y="1363.2" font-size="24.5" fill="#231f20">500</text>
<text x="1520.4" y="1397.3" font-size="24.5" fill="#231f20">0</text>
<rect x="1487.9" y="1619.4" width="25" height="257.9" fill="url(#cbi)" stroke="#000" stroke-width="2.4"/>
<line x1="1486.7" y1="1645.6" x2="1490.7" y2="1645.6" stroke="#000" stroke-width="1.4"/>
<line x1="1510.1000000000001" y1="1645.6" x2="1514.1000000000001" y2="1645.6" stroke="#000" stroke-width="1.4"/>
<line x1="1486.7" y1="1691.7" x2="1490.7" y2="1691.7" stroke="#000" stroke-width="1.4"/>
<line x1="1510.1000000000001" y1="1691.7" x2="1514.1000000000001" y2="1691.7" stroke="#000" stroke-width="1.4"/>
<line x1="1486.7" y1="1737.8" x2="1490.7" y2="1737.8" stroke="#000" stroke-width="1.4"/>
<line x1="1510.1000000000001" y1="1737.8" x2="1514.1000000000001" y2="1737.8" stroke="#000" stroke-width="1.4"/>
<line x1="1486.7" y1="1783.8" x2="1490.7" y2="1783.8" stroke="#000" stroke-width="1.4"/>
<line x1="1510.1000000000001" y1="1783.8" x2="1514.1000000000001" y2="1783.8" stroke="#000" stroke-width="1.4"/>
<line x1="1486.7" y1="1829.9" x2="1490.7" y2="1829.9" stroke="#000" stroke-width="1.4"/>
<line x1="1510.1000000000001" y1="1829.9" x2="1514.1000000000001" y2="1829.9" stroke="#000" stroke-width="1.4"/>
<line x1="1486.7" y1="1876.0" x2="1490.7" y2="1876.0" stroke="#000" stroke-width="1.4"/>
<line x1="1510.1000000000001" y1="1876.0" x2="1514.1000000000001" y2="1876.0" stroke="#000" stroke-width="1.4"/>
<text x="1517.7" y="1654.2" font-size="24.5" fill="#231f20">10</text>
<text x="1517.7" y="1700.3" font-size="24.5" fill="#231f20">8</text>
<text x="1517.7" y="1746.4" font-size="24.5" fill="#231f20">6</text>
<text x="1517.7" y="1792.4" font-size="24.5" fill="#231f20">4</text>
<text x="1517.7" y="1838.5" font-size="24.5" fill="#231f20">2</text>
<text x="1517.7" y="1884.6" font-size="24.5" fill="#231f20">0</text>
<rect x="1664.9" y="600.5" width="229.0999999999999" height="229.5" fill="#fff"/>
<line x1="1708.4" y1="600.5" x2="1708.4" y2="830.0" stroke="#f4f4f4" stroke-width="1.1"/>
<line x1="1775.0" y1="600.5" x2="1775.0" y2="830.0" stroke="#f4f4f4" stroke-width="1.1"/>
<line x1="1841.6" y1="600.5" x2="1841.6" y2="830.0" stroke="#f4f4f4" stroke-width="1.1"/>
<line x1="1664.9" y1="790.8" x2="1894.0" y2="790.8" stroke="#f4f4f4" stroke-width="1.1"/>
<line x1="1664.9" y1="735.0" x2="1894.0" y2="735.0" stroke="#f4f4f4" stroke-width="1.1"/>
<line x1="1664.9" y1="679.2" x2="1894.0" y2="679.2" stroke="#f4f4f4" stroke-width="1.1"/>
<line x1="1664.9" y1="623.4" x2="1894.0" y2="623.4" stroke="#f4f4f4" stroke-width="1.1"/>
<line x1="1675.1" y1="600.5" x2="1675.1" y2="830.0" stroke="#e6e6e6" stroke-width="1.3"/>
<line x1="1741.7" y1="600.5" x2="1741.7" y2="830.0" stroke="#e6e6e6" stroke-width="1.3"/>
<line x1="1808.3" y1="600.5" x2="1808.3" y2="830.0" stroke="#e6e6e6" stroke-width="1.3"/>
<line x1="1874.9" y1="600.5" x2="1874.9" y2="830.0" stroke="#e6e6e6" stroke-width="1.3"/>
<line x1="1664.9" y1="818.7" x2="1894.0" y2="818.7" stroke="#e6e6e6" stroke-width="1.3"/>
<line x1="1664.9" y1="762.9" x2="1894.0" y2="762.9" stroke="#e6e6e6" stroke-width="1.3"/>
<line x1="1664.9" y1="707.1" x2="1894.0" y2="707.1" stroke="#e6e6e6" stroke-width="1.3"/>
<line x1="1664.9" y1="651.3" x2="1894.0" y2="651.3" stroke="#e6e6e6" stroke-width="1.3"/>
<rect x="1675.1" y="717.3" width="8.32" height="101.4" fill="#cccccc" stroke="#4d4d4d" stroke-width="1.4"/><rect x="1675.1" y="768.7" width="8.32" height="50.0" fill="#333333" stroke="#4d4d4d" stroke-width="1.4"/><rect x="1683.4" y="711.8" width="8.32" height="106.9" fill="#cccccc" stroke="#4d4d4d" stroke-width="1.4"/><rect x="1683.4" y="765.5" width="8.32" height="53.2" fill="#333333" stroke="#4d4d4d" stroke-width="1.4"/><rect x="1691.8" y="740.8" width="8.32" height="77.9" fill="#cccccc" stroke="#4d4d4d" stroke-width="1.4"/><rect x="1691.8" y="778.7" width="8.32" height="40.0" fill="#333333" stroke="#4d4d4d" stroke-width="1.4"/><rect x="1700.1" y="794.0" width="8.32" height="24.7" fill="#cccccc" stroke="#4d4d4d" stroke-width="1.4"/><rect x="1700.1" y="806.1" width="8.32" height="12.6" fill="#333333" stroke="#4d4d4d" stroke-width="1.4"/><rect x="1708.4" y="797.7" width="8.32" height="21.0" fill="#cccccc" stroke="#4d4d4d" stroke-width="1.4"/><rect x="1708.4" y="808.1" width="8.32" height="10.6" fill="#333333" stroke="#4d4d4d" stroke-width="1.4"/><rect x="1716.7" y="810.1" width="8.32" height="8.6" fill="#cccccc" stroke="#4d4d4d" stroke-width="1.4"/><rect x="1716.7" y="814.4" width="8.32" height="4.3" fill="#333333" stroke="#4d4d4d" stroke-width="1.4"/><rect x="1725.1" y="810.1" width="8.32" height="8.6" fill="#cccccc" stroke="#4d4d4d" stroke-width="1.4"/><rect x="1725.1" y="814.4" width="8.32" height="4.3" fill="#333333" stroke="#4d4d4d" stroke-width="1.4"/><rect x="1733.4" y="814.6" width="8.32" height="4.1" fill="#cccccc" stroke="#4d4d4d" stroke-width="1.4"/><rect x="1733.4" y="816.7" width="8.32" height="2.0" fill="#333333" stroke="#4d4d4d" stroke-width="1.4"/><rect x="1741.7" y="815.0" width="8.32" height="3.7" fill="#cccccc" stroke="#4d4d4d" stroke-width="1.4"/><rect x="1741.7" y="816.8" width="8.32" height="1.9" fill="#333333" stroke="#4d4d4d" stroke-width="1.4"/><rect x="1750.0" y="815.9" width="8.32" height="2.8" fill="#cccccc" stroke="#4d4d4d" stroke-width="1.4"/><rect x="1750.0" y="817.2" width="8.32" height="1.5" fill="#333333" stroke="#4d4d4d" stroke-width="1.4"/><rect x="1758.4" y="816.5" width="8.32" height="2.2" fill="#cccccc" stroke="#4d4d4d" stroke-width="1.4"/><rect x="1758.4" y="817.6" width="8.32" height="1.1" fill="#333333" stroke="#4d4d4d" stroke-width="1.4"/><rect x="1766.7" y="816.8" width="8.32" height="1.9" fill="#cccccc" stroke="#4d4d4d" stroke-width="1.4"/><rect x="1766.7" y="817.8" width="8.32" height="0.9" fill="#333333" stroke="#4d4d4d" stroke-width="1.4"/><rect x="1775.0" y="817.2" width="8.32" height="1.5" fill="#cccccc" stroke="#4d4d4d" stroke-width="1.4"/><rect x="1775.0" y="818.0" width="8.32" height="0.7" fill="#333333" stroke="#4d4d4d" stroke-width="1.4"/><rect x="1783.3" y="817.4" width="8.32" height="1.3" fill="#cccccc" stroke="#4d4d4d" stroke-width="1.4"/><rect x="1783.3" y="818.1" width="8.32" height="0.6" fill="#333333" stroke="#4d4d4d" stroke-width="1.4"/><rect x="1791.7" y="817.8" width="8.32" height="0.9" fill="#cccccc" stroke="#4d4d4d" stroke-width="1.4"/><rect x="1791.7" y="818.3" width="8.32" height="0.4" fill="#333333" stroke="#4d4d4d" stroke-width="1.4"/><rect x="1800.0" y="817.8" width="8.32" height="0.9" fill="#cccccc" stroke="#4d4d4d" stroke-width="1.4"/><rect x="1800.0" y="818.3" width="8.32" height="0.4" fill="#333333" stroke="#4d4d4d" stroke-width="1.4"/><rect x="1808.3" y="817.8" width="8.32" height="0.9" fill="#cccccc" stroke="#4d4d4d" stroke-width="1.4"/><rect x="1808.3" y="818.3" width="8.32" height="0.4" fill="#333333" stroke="#4d4d4d" stroke-width="1.4"/><rect x="1816.6" y="817.8" width="8.32" height="0.9" fill="#cccccc" stroke="#4d4d4d" stroke-width="1.4"/><rect x="1816.6" y="818.3" width="8.32" height="0.4" fill="#333333" stroke="#4d4d4d" stroke-width="1.4"/><rect x="1825.0" y="817.8" width="8.32" height="0.9" fill="#cccccc" stroke="#4d4d4d" stroke-width="1.4"/><rect x="1825.0" y="818.3" width="8.32" height="0.4" fill="#333333" stroke="#4d4d4d" stroke-width="1.4"/><rect x="1833.3" y="817.8" width="8.32" height="0.9" fill="#cccccc" stroke="#4d4d4d" stroke-width="1.4"/><rect x="1833.3" y="818.3" width="8.32" height="0.4" fill="#333333" stroke="#4d4d4d" stroke-width="1.4"/><rect x="1841.6" y="818.1" width="8.32" height="0.6" fill="#cccccc" stroke="#4d4d4d" stroke-width="1.4"/><rect x="1849.9" y="818.1" width="8.32" height="0.6" fill="#cccccc" stroke="#4d4d4d" stroke-width="1.4"/><rect x="1858.2" y="818.1" width="8.32" height="0.6" fill="#cccccc" stroke="#4d4d4d" stroke-width="1.4"/><rect x="1866.6" y="818.1" width="8.32" height="0.6" fill="#cccccc" stroke="#4d4d4d" stroke-width="1.4"/><rect x="1874.9" y="818.1" width="8.32" height="0.6" fill="#cccccc" stroke="#4d4d4d" stroke-width="1.4"/>
<rect x="1664.9" y="600.5" width="229.0999999999999" height="229.5" fill="none" stroke="#7f7f7f" stroke-width="1.5"/>
<text x="1778.5" y="633.0" font-size="29.5" font-weight="normal" font-style="normal" fill="#000" text-anchor="middle" textLength="75.4" lengthAdjust="spacingAndGlyphs" >P2&#8211;5</text>
<line x1="1675.1" y1="830.5" x2="1675.1" y2="837.5" stroke="#333" stroke-width="1.8"/>
<text x="1675.1" y="861.0" font-size="20.5" font-weight="normal" font-style="normal" fill="#000" text-anchor="middle" >0</text>
<line x1="1741.7" y1="830.5" x2="1741.7" y2="837.5" stroke="#333" stroke-width="1.8"/>
<text x="1741.7" y="861.0" font-size="20.5" font-weight="normal" font-style="normal" fill="#000" text-anchor="middle" >4</text>
<line x1="1808.3" y1="830.5" x2="1808.3" y2="837.5" stroke="#333" stroke-width="1.8"/>
<text x="1808.3" y="861.0" font-size="20.5" font-weight="normal" font-style="normal" fill="#000" text-anchor="middle" >8</text>
<line x1="1874.9" y1="830.5" x2="1874.9" y2="837.5" stroke="#333" stroke-width="1.8"/>
<text x="1874.9" y="861.0" font-size="20.5" font-weight="normal" font-style="normal" fill="#000" text-anchor="middle" >12</text>
<rect x="1901.3" y="600.5" width="230.00000000000023" height="229.5" fill="#fff"/>
<line x1="1944.8" y1="600.5" x2="1944.8" y2="830.0" stroke="#f4f4f4" stroke-width="1.1"/>
<line x1="2011.4" y1="600.5" x2="2011.4" y2="830.0" stroke="#f4f4f4" stroke-width="1.1"/>
<line x1="2078.0" y1="600.5" x2="2078.0" y2="830.0" stroke="#f4f4f4" stroke-width="1.1"/>
<line x1="1901.3" y1="790.8" x2="2131.3" y2="790.8" stroke="#f4f4f4" stroke-width="1.1"/>
<line x1="1901.3" y1="735.0" x2="2131.3" y2="735.0" stroke="#f4f4f4" stroke-width="1.1"/>
<line x1="1901.3" y1="679.2" x2="2131.3" y2="679.2" stroke="#f4f4f4" stroke-width="1.1"/>
<line x1="1901.3" y1="623.4" x2="2131.3" y2="623.4" stroke="#f4f4f4" stroke-width="1.1"/>
<line x1="1911.5" y1="600.5" x2="1911.5" y2="830.0" stroke="#e6e6e6" stroke-width="1.3"/>
<line x1="1978.1" y1="600.5" x2="1978.1" y2="830.0" stroke="#e6e6e6" stroke-width="1.3"/>
<line x1="2044.7" y1="600.5" x2="2044.7" y2="830.0" stroke="#e6e6e6" stroke-width="1.3"/>
<line x1="2111.3" y1="600.5" x2="2111.3" y2="830.0" stroke="#e6e6e6" stroke-width="1.3"/>
<line x1="1901.3" y1="818.7" x2="2131.3" y2="818.7" stroke="#e6e6e6" stroke-width="1.3"/>
<line x1="1901.3" y1="762.9" x2="2131.3" y2="762.9" stroke="#e6e6e6" stroke-width="1.3"/>
<line x1="1901.3" y1="707.1" x2="2131.3" y2="707.1" stroke="#e6e6e6" stroke-width="1.3"/>
<line x1="1901.3" y1="651.3" x2="2131.3" y2="651.3" stroke="#e6e6e6" stroke-width="1.3"/>
<rect x="1911.5" y="684.8" width="8.32" height="133.9" fill="#cccccc" stroke="#4d4d4d" stroke-width="1.4"/><rect x="1911.5" y="752.7" width="8.32" height="66.0" fill="#333333" stroke="#4d4d4d" stroke-width="1.4"/><rect x="1919.8" y="712.7" width="8.32" height="106.0" fill="#cccccc" stroke="#4d4d4d" stroke-width="1.4"/><rect x="1919.8" y="766.6" width="8.32" height="52.1" fill="#333333" stroke="#4d4d4d" stroke-width="1.4"/><rect x="1928.2" y="758.2" width="8.32" height="60.5" fill="#cccccc" stroke="#4d4d4d" stroke-width="1.4"/><rect x="1928.2" y="788.9" width="8.32" height="29.8" fill="#333333" stroke="#4d4d4d" stroke-width="1.4"/><rect x="1936.5" y="799.2" width="8.32" height="19.5" fill="#cccccc" stroke="#4d4d4d" stroke-width="1.4"/><rect x="1936.5" y="809.0" width="8.32" height="9.7" fill="#333333" stroke="#4d4d4d" stroke-width="1.4"/><rect x="1944.8" y="801.0" width="8.32" height="17.7" fill="#cccccc" stroke="#4d4d4d" stroke-width="1.4"/><rect x="1944.8" y="809.8" width="8.32" height="8.9" fill="#333333" stroke="#4d4d4d" stroke-width="1.4"/><rect x="1953.1" y="811.3" width="8.32" height="7.4" fill="#cccccc" stroke="#4d4d4d" stroke-width="1.4"/><rect x="1953.1" y="815.0" width="8.32" height="3.7" fill="#333333" stroke="#4d4d4d" stroke-width="1.4"/><rect x="1961.5" y="811.3" width="8.32" height="7.4" fill="#cccccc" stroke="#4d4d4d" stroke-width="1.4"/><rect x="1961.5" y="815.0" width="8.32" height="3.7" fill="#333333" stroke="#4d4d4d" stroke-width="1.4"/><rect x="1969.8" y="815.0" width="8.32" height="3.7" fill="#cccccc" stroke="#4d4d4d" stroke-width="1.4"/><rect x="1969.8" y="816.8" width="8.32" height="1.9" fill="#333333" stroke="#4d4d4d" stroke-width="1.4"/><rect x="1978.1" y="815.0" width="8.32" height="3.7" fill="#cccccc" stroke="#4d4d4d" stroke-width="1.4"/><rect x="1978.1" y="816.8" width="8.32" height="1.9" fill="#333333" stroke="#4d4d4d" stroke-width="1.4"/><rect x="1986.4" y="816.5" width="8.32" height="2.2" fill="#cccccc" stroke="#4d4d4d" stroke-width="1.4"/><rect x="1986.4" y="817.6" width="8.32" height="1.1" fill="#333333" stroke="#4d4d4d" stroke-width="1.4"/><rect x="1994.8" y="816.5" width="8.32" height="2.2" fill="#cccccc" stroke="#4d4d4d" stroke-width="1.4"/><rect x="1994.8" y="817.6" width="8.32" height="1.1" fill="#333333" stroke="#4d4d4d" stroke-width="1.4"/><rect x="2003.1" y="817.2" width="8.32" height="1.5" fill="#cccccc" stroke="#4d4d4d" stroke-width="1.4"/><rect x="2003.1" y="818.0" width="8.32" height="0.7" fill="#333333" stroke="#4d4d4d" stroke-width="1.4"/><rect x="2011.4" y="817.4" width="8.32" height="1.3" fill="#cccccc" stroke="#4d4d4d" stroke-width="1.4"/><rect x="2011.4" y="818.1" width="8.32" height="0.6" fill="#333333" stroke="#4d4d4d" stroke-width="1.4"/><rect x="2019.7" y="817.8" width="8.32" height="0.9" fill="#cccccc" stroke="#4d4d4d" stroke-width="1.4"/><rect x="2019.7" y="818.3" width="8.32" height="0.4" fill="#333333" stroke="#4d4d4d" stroke-width="1.4"/><rect x="2028.0" y="817.8" width="8.32" height="0.9" fill="#cccccc" stroke="#4d4d4d" stroke-width="1.4"/><rect x="2028.0" y="818.3" width="8.32" height="0.4" fill="#333333" stroke="#4d4d4d" stroke-width="1.4"/><rect x="2036.4" y="817.8" width="8.32" height="0.9" fill="#cccccc" stroke="#4d4d4d" stroke-width="1.4"/><rect x="2036.4" y="818.3" width="8.32" height="0.4" fill="#333333" stroke="#4d4d4d" stroke-width="1.4"/><rect x="2044.7" y="817.8" width="8.32" height="0.9" fill="#cccccc" stroke="#4d4d4d" stroke-width="1.4"/><rect x="2044.7" y="818.3" width="8.32" height="0.4" fill="#333333" stroke="#4d4d4d" stroke-width="1.4"/><rect x="2053.0" y="817.8" width="8.32" height="0.9" fill="#cccccc" stroke="#4d4d4d" stroke-width="1.4"/><rect x="2053.0" y="818.3" width="8.32" height="0.4" fill="#333333" stroke="#4d4d4d" stroke-width="1.4"/><rect x="2061.3" y="817.8" width="8.32" height="0.9" fill="#cccccc" stroke="#4d4d4d" stroke-width="1.4"/><rect x="2061.3" y="818.3" width="8.32" height="0.4" fill="#333333" stroke="#4d4d4d" stroke-width="1.4"/><rect x="2069.7" y="818.1" width="8.32" height="0.6" fill="#cccccc" stroke="#4d4d4d" stroke-width="1.4"/><rect x="2078.0" y="818.1" width="8.32" height="0.6" fill="#cccccc" stroke="#4d4d4d" stroke-width="1.4"/><rect x="2086.3" y="818.1" width="8.32" height="0.6" fill="#cccccc" stroke="#4d4d4d" stroke-width="1.4"/><rect x="2094.7" y="818.1" width="8.32" height="0.6" fill="#cccccc" stroke="#4d4d4d" stroke-width="1.4"/><rect x="2103.0" y="818.1" width="8.32" height="0.6" fill="#cccccc" stroke="#4d4d4d" stroke-width="1.4"/><rect x="2111.3" y="818.1" width="8.32" height="0.6" fill="#cccccc" stroke="#4d4d4d" stroke-width="1.4"/>
<rect x="1901.3" y="600.5" width="230.00000000000023" height="229.5" fill="none" stroke="#7f7f7f" stroke-width="1.5"/>
<text x="2015.3" y="633.0" font-size="29.5" font-weight="normal" font-style="normal" fill="#000" text-anchor="middle" textLength="76.5" lengthAdjust="spacingAndGlyphs" >P8&#8211;9</text>
<line x1="1911.5" y1="830.5" x2="1911.5" y2="837.5" stroke="#333" stroke-width="1.8"/>
<text x="1911.5" y="861.0" font-size="20.5" font-weight="normal" font-style="normal" fill="#000" text-anchor="middle" >0</text>
<line x1="1978.1" y1="830.5" x2="1978.1" y2="837.5" stroke="#333" stroke-width="1.8"/>
<text x="1978.1" y="861.0" font-size="20.5" font-weight="normal" font-style="normal" fill="#000" text-anchor="middle" >4</text>
<line x1="2044.7" y1="830.5" x2="2044.7" y2="837.5" stroke="#333" stroke-width="1.8"/>
<text x="2044.7" y="861.0" font-size="20.5" font-weight="normal" font-style="normal" fill="#000" text-anchor="middle" >8</text>
<line x1="2111.3" y1="830.5" x2="2111.3" y2="837.5" stroke="#333" stroke-width="1.8"/>
<text x="2111.3" y="861.0" font-size="20.5" font-weight="normal" font-style="normal" fill="#000" text-anchor="middle" >12</text>
<rect x="2138.1" y="600.5" width="229.20000000000027" height="229.5" fill="#fff"/>
<line x1="2181.6" y1="600.5" x2="2181.6" y2="830.0" stroke="#f4f4f4" stroke-width="1.1"/>
<line x1="2248.2" y1="600.5" x2="2248.2" y2="830.0" stroke="#f4f4f4" stroke-width="1.1"/>
<line x1="2314.8" y1="600.5" x2="2314.8" y2="830.0" stroke="#f4f4f4" stroke-width="1.1"/>
<line x1="2138.1" y1="790.8" x2="2367.3" y2="790.8" stroke="#f4f4f4" stroke-width="1.1"/>
<line x1="2138.1" y1="735.0" x2="2367.3" y2="735.0" stroke="#f4f4f4" stroke-width="1.1"/>
<line x1="2138.1" y1="679.2" x2="2367.3" y2="679.2" stroke="#f4f4f4" stroke-width="1.1"/>
<line x1="2138.1" y1="623.4" x2="2367.3" y2="623.4" stroke="#f4f4f4" stroke-width="1.1"/>
<line x1="2148.3" y1="600.5" x2="2148.3" y2="830.0" stroke="#e6e6e6" stroke-width="1.3"/>
<line x1="2214.9" y1="600.5" x2="2214.9" y2="830.0" stroke="#e6e6e6" stroke-width="1.3"/>
<line x1="2281.5" y1="600.5" x2="2281.5" y2="830.0" stroke="#e6e6e6" stroke-width="1.3"/>
<line x1="2348.1" y1="600.5" x2="2348.1" y2="830.0" stroke="#e6e6e6" stroke-width="1.3"/>
<line x1="2138.1" y1="818.7" x2="2367.3" y2="818.7" stroke="#e6e6e6" stroke-width="1.3"/>
<line x1="2138.1" y1="762.9" x2="2367.3" y2="762.9" stroke="#e6e6e6" stroke-width="1.3"/>
<line x1="2138.1" y1="707.1" x2="2367.3" y2="707.1" stroke="#e6e6e6" stroke-width="1.3"/>
<line x1="2138.1" y1="651.3" x2="2367.3" y2="651.3" stroke="#e6e6e6" stroke-width="1.3"/>
<rect x="2148.3" y="610.4" width="8.32" height="208.3" fill="#cccccc" stroke="#4d4d4d" stroke-width="1.4"/><rect x="2148.3" y="714.5" width="8.32" height="104.2" fill="#333333" stroke="#4d4d4d" stroke-width="1.4"/><rect x="2156.6" y="740.6" width="8.32" height="78.1" fill="#cccccc" stroke="#4d4d4d" stroke-width="1.4"/><rect x="2156.6" y="780.6" width="8.32" height="38.1" fill="#333333" stroke="#4d4d4d" stroke-width="1.4"/><rect x="2164.9" y="779.6" width="8.32" height="39.1" fill="#cccccc" stroke="#4d4d4d" stroke-width="1.4"/><rect x="2164.9" y="800.1" width="8.32" height="18.6" fill="#333333" stroke="#4d4d4d" stroke-width="1.4"/><rect x="2173.3" y="803.8" width="8.32" height="14.9" fill="#cccccc" stroke="#4d4d4d" stroke-width="1.4"/><rect x="2173.3" y="811.3" width="8.32" height="7.4" fill="#333333" stroke="#4d4d4d" stroke-width="1.4"/><rect x="2181.6" y="808.5" width="8.32" height="10.2" fill="#cccccc" stroke="#4d4d4d" stroke-width="1.4"/><rect x="2181.6" y="813.5" width="8.32" height="5.2" fill="#333333" stroke="#4d4d4d" stroke-width="1.4"/><rect x="2189.9" y="813.1" width="8.32" height="5.6" fill="#cccccc" stroke="#4d4d4d" stroke-width="1.4"/><rect x="2189.9" y="815.9" width="8.32" height="2.8" fill="#333333" stroke="#4d4d4d" stroke-width="1.4"/><rect x="2198.2" y="814.1" width="8.32" height="4.7" fill="#cccccc" stroke="#4d4d4d" stroke-width="1.4"/><rect x="2198.2" y="816.5" width="8.32" height="2.2" fill="#333333" stroke="#4d4d4d" stroke-width="1.4"/><rect x="2206.6" y="815.9" width="8.32" height="2.8" fill="#cccccc" stroke="#4d4d4d" stroke-width="1.4"/><rect x="2206.6" y="817.4" width="8.32" height="1.3" fill="#333333" stroke="#4d4d4d" stroke-width="1.4"/><rect x="2214.9" y="816.5" width="8.32" height="2.2" fill="#cccccc" stroke="#4d4d4d" stroke-width="1.4"/><rect x="2214.9" y="817.6" width="8.32" height="1.1" fill="#333333" stroke="#4d4d4d" stroke-width="1.4"/><rect x="2223.2" y="816.8" width="8.32" height="1.9" fill="#cccccc" stroke="#4d4d4d" stroke-width="1.4"/><rect x="2223.2" y="817.8" width="8.32" height="0.9" fill="#333333" stroke="#4d4d4d" stroke-width="1.4"/><rect x="2231.5" y="817.2" width="8.32" height="1.5" fill="#cccccc" stroke="#4d4d4d" stroke-width="1.4"/><rect x="2231.5" y="818.0" width="8.32" height="0.7" fill="#333333" stroke="#4d4d4d" stroke-width="1.4"/><rect x="2239.9" y="817.4" width="8.32" height="1.3" fill="#cccccc" stroke="#4d4d4d" stroke-width="1.4"/><rect x="2239.9" y="818.1" width="8.32" height="0.6" fill="#333333" stroke="#4d4d4d" stroke-width="1.4"/><rect x="2248.2" y="817.8" width="8.32" height="0.9" fill="#cccccc" stroke="#4d4d4d" stroke-width="1.4"/><rect x="2248.2" y="818.3" width="8.32" height="0.4" fill="#333333" stroke="#4d4d4d" stroke-width="1.4"/><rect x="2256.5" y="817.8" width="8.32" height="0.9" fill="#cccccc" stroke="#4d4d4d" stroke-width="1.4"/><rect x="2256.5" y="818.3" width="8.32" height="0.4" fill="#333333" stroke="#4d4d4d" stroke-width="1.4"/><rect x="2264.8" y="817.8" width="8.32" height="0.9" fill="#cccccc" stroke="#4d4d4d" stroke-width="1.4"/><rect x="2264.8" y="818.3" width="8.32" height="0.4" fill="#333333" stroke="#4d4d4d" stroke-width="1.4"/><rect x="2273.2" y="817.8" width="8.32" height="0.9" fill="#cccccc" stroke="#4d4d4d" stroke-width="1.4"/><rect x="2273.2" y="818.3" width="8.32" height="0.4" fill="#333333" stroke="#4d4d4d" stroke-width="1.4"/><rect x="2281.5" y="817.8" width="8.32" height="0.9" fill="#cccccc" stroke="#4d4d4d" stroke-width="1.4"/><rect x="2281.5" y="818.3" width="8.32" height="0.4" fill="#333333" stroke="#4d4d4d" stroke-width="1.4"/><rect x="2289.8" y="817.8" width="8.32" height="0.9" fill="#cccccc" stroke="#4d4d4d" stroke-width="1.4"/><rect x="2289.8" y="818.3" width="8.32" height="0.4" fill="#333333" stroke="#4d4d4d" stroke-width="1.4"/><rect x="2298.1" y="817.8" width="8.32" height="0.9" fill="#cccccc" stroke="#4d4d4d" stroke-width="1.4"/><rect x="2298.1" y="818.3" width="8.32" height="0.4" fill="#333333" stroke="#4d4d4d" stroke-width="1.4"/><rect x="2306.5" y="818.1" width="8.32" height="0.6" fill="#cccccc" stroke="#4d4d4d" stroke-width="1.4"/><rect x="2314.8" y="818.1" width="8.32" height="0.6" fill="#cccccc" stroke="#4d4d4d" stroke-width="1.4"/><rect x="2323.1" y="818.1" width="8.32" height="0.6" fill="#cccccc" stroke="#4d4d4d" stroke-width="1.4"/><rect x="2331.4" y="818.1" width="8.32" height="0.6" fill="#cccccc" stroke="#4d4d4d" stroke-width="1.4"/><rect x="2339.8" y="818.1" width="8.32" height="0.6" fill="#cccccc" stroke="#4d4d4d" stroke-width="1.4"/><rect x="2348.1" y="818.1" width="8.32" height="0.6" fill="#cccccc" stroke="#4d4d4d" stroke-width="1.4"/>
<rect x="2138.1" y="600.5" width="229.20000000000027" height="229.5" fill="none" stroke="#7f7f7f" stroke-width="1.5"/>
<text x="2251.7" y="633.0" font-size="29.5" font-weight="normal" font-style="normal" fill="#000" text-anchor="middle" textLength="113.6" lengthAdjust="spacingAndGlyphs" >P12&#8211;13</text>
<line x1="2148.3" y1="830.5" x2="2148.3" y2="837.5" stroke="#333" stroke-width="1.8"/>
<text x="2148.3" y="861.0" font-size="20.5" font-weight="normal" font-style="normal" fill="#000" text-anchor="middle" >0</text>
<line x1="2214.9" y1="830.5" x2="2214.9" y2="837.5" stroke="#333" stroke-width="1.8"/>
<text x="2214.9" y="861.0" font-size="20.5" font-weight="normal" font-style="normal" fill="#000" text-anchor="middle" >4</text>
<line x1="2281.5" y1="830.5" x2="2281.5" y2="837.5" stroke="#333" stroke-width="1.8"/>
<text x="2281.5" y="861.0" font-size="20.5" font-weight="normal" font-style="normal" fill="#000" text-anchor="middle" >8</text>
<line x1="2348.1" y1="830.5" x2="2348.1" y2="837.5" stroke="#333" stroke-width="1.8"/>
<text x="2348.1" y="861.0" font-size="20.5" font-weight="normal" font-style="normal" fill="#000" text-anchor="middle" >12</text>
<line x1="1656.3" y1="818.7" x2="1664.5" y2="818.7" stroke="#333" stroke-width="1.8"/>
<text x="1649.0" y="826.0" font-size="20.5" font-weight="normal" font-style="normal" fill="#000" text-anchor="end" >0.0</text>
<line x1="1656.3" y1="762.9" x2="1664.5" y2="762.9" stroke="#333" stroke-width="1.8"/>
<text x="1649.0" y="770.2" font-size="20.5" font-weight="normal" font-style="normal" fill="#000" text-anchor="end" >0.3</text>
<line x1="1656.3" y1="707.1" x2="1664.5" y2="707.1" stroke="#333" stroke-width="1.8"/>
<text x="1649.0" y="714.4" font-size="20.5" font-weight="normal" font-style="normal" fill="#000" text-anchor="end" >0.6</text>
<line x1="1656.3" y1="651.3" x2="1664.5" y2="651.3" stroke="#333" stroke-width="1.8"/>
<text x="1649.0" y="658.6" font-size="20.5" font-weight="normal" font-style="normal" fill="#000" text-anchor="end" >0.9</text>
<text x="0" y="0" font-size="26" fill="#000" text-anchor="middle" transform="translate(1611,726.5) rotate(-90)" textLength="224" lengthAdjust="spacingAndGlyphs">Normalized density</text>
<text x="2019.9" y="898.9" font-size="30" font-weight="normal" font-style="normal" fill="#000" text-anchor="middle" textLength="172.0" lengthAdjust="spacingAndGlyphs" >Duration (s)</text>
<rect x="2305" y="656" width="19" height="19" fill="#333" stroke="#4d4d4d" stroke-width="1.2"/><rect x="2305" y="675" width="19" height="19" fill="#ccc" stroke="#4d4d4d" stroke-width="1.2"/>
<text x="2335.5" y="673.0" font-size="20.5" font-weight="normal" font-style="normal" fill="#000" text-anchor="start" >L</text>
<text x="2335.5" y="697.0" font-size="20.5" font-weight="normal" font-style="normal" fill="#000" text-anchor="start" >R</text>
<rect x="1666.0" y="1095.6" width="228.79999999999995" height="228.80000000000018" fill="#fff"/>
<line x1="1701.6" y1="1095.6" x2="1701.6" y2="1324.4" stroke="#f4f4f4" stroke-width="1.1"/>
<line x1="1753.8" y1="1095.6" x2="1753.8" y2="1324.4" stroke="#f4f4f4" stroke-width="1.1"/>
<line x1="1805.8" y1="1095.6" x2="1805.8" y2="1324.4" stroke="#f4f4f4" stroke-width="1.1"/>
<line x1="1857.9" y1="1095.6" x2="1857.9" y2="1324.4" stroke="#f4f4f4" stroke-width="1.1"/>
<line x1="1666.0" y1="1287.9" x2="1894.8" y2="1287.9" stroke="#f4f4f4" stroke-width="1.1"/>
<line x1="1666.0" y1="1236.2" x2="1894.8" y2="1236.2" stroke="#f4f4f4" stroke-width="1.1"/>
<line x1="1666.0" y1="1184.6" x2="1894.8" y2="1184.6" stroke="#f4f4f4" stroke-width="1.1"/>
<line x1="1666.0" y1="1133.0" x2="1894.8" y2="1133.0" stroke="#f4f4f4" stroke-width="1.1"/>
<line x1="1675.6" y1="1095.6" x2="1675.6" y2="1324.4" stroke="#e6e6e6" stroke-width="1.3"/>
<line x1="1727.7" y1="1095.6" x2="1727.7" y2="1324.4" stroke="#e6e6e6" stroke-width="1.3"/>
<line x1="1779.8" y1="1095.6" x2="1779.8" y2="1324.4" stroke="#e6e6e6" stroke-width="1.3"/>
<line x1="1831.9" y1="1095.6" x2="1831.9" y2="1324.4" stroke="#e6e6e6" stroke-width="1.3"/>
<line x1="1884.0" y1="1095.6" x2="1884.0" y2="1324.4" stroke="#e6e6e6" stroke-width="1.3"/>
<line x1="1666.0" y1="1313.7" x2="1894.8" y2="1313.7" stroke="#e6e6e6" stroke-width="1.3"/>
<line x1="1666.0" y1="1262.1" x2="1894.8" y2="1262.1" stroke="#e6e6e6" stroke-width="1.3"/>
<line x1="1666.0" y1="1210.4" x2="1894.8" y2="1210.4" stroke="#e6e6e6" stroke-width="1.3"/>
<line x1="1666.0" y1="1158.8" x2="1894.8" y2="1158.8" stroke="#e6e6e6" stroke-width="1.3"/>
<line x1="1666.0" y1="1107.1" x2="1894.8" y2="1107.1" stroke="#e6e6e6" stroke-width="1.3"/>
<rect x="1675.6" y="1302.1" width="10.42" height="11.6" fill="#cccccc" stroke="#4d4d4d" stroke-width="1.4"/><rect x="1675.6" y="1308.5" width="10.42" height="5.2" fill="#333333" stroke="#4d4d4d" stroke-width="1.4"/><rect x="1686.0" y="1104.6" width="10.42" height="209.1" fill="#cccccc" stroke="#4d4d4d" stroke-width="1.4"/><rect x="1686.0" y="1210.4" width="10.42" height="103.3" fill="#333333" stroke="#4d4d4d" stroke-width="1.4"/><rect x="1696.4" y="1171.7" width="10.42" height="142.0" fill="#cccccc" stroke="#4d4d4d" stroke-width="1.4"/><rect x="1696.4" y="1241.4" width="10.42" height="72.3" fill="#333333" stroke="#4d4d4d" stroke-width="1.4"/><rect x="1706.9" y="1244.0" width="10.42" height="69.7" fill="#cccccc" stroke="#4d4d4d" stroke-width="1.4"/><rect x="1706.9" y="1278.8" width="10.42" height="34.9" fill="#333333" stroke="#4d4d4d" stroke-width="1.4"/><rect x="1717.3" y="1276.3" width="10.42" height="37.4" fill="#cccccc" stroke="#4d4d4d" stroke-width="1.4"/><rect x="1717.3" y="1294.3" width="10.42" height="19.4" fill="#333333" stroke="#4d4d4d" stroke-width="1.4"/><rect x="1727.7" y="1295.1" width="10.42" height="18.6" fill="#cccccc" stroke="#4d4d4d" stroke-width="1.4"/><rect x="1727.7" y="1304.7" width="10.42" height="9.0" fill="#333333" stroke="#4d4d4d" stroke-width="1.4"/><rect x="1738.1" y="1303.4" width="10.42" height="10.3" fill="#cccccc" stroke="#4d4d4d" stroke-width="1.4"/><rect x="1738.1" y="1308.5" width="10.42" height="5.2" fill="#333333" stroke="#4d4d4d" stroke-width="1.4"/><rect x="1748.5" y="1307.2" width="10.42" height="6.5" fill="#cccccc" stroke="#4d4d4d" stroke-width="1.4"/><rect x="1748.5" y="1310.3" width="10.42" height="3.4" fill="#333333" stroke="#4d4d4d" stroke-width="1.4"/><rect x="1759.0" y="1309.8" width="10.42" height="3.9" fill="#cccccc" stroke="#4d4d4d" stroke-width="1.4"/><rect x="1759.0" y="1311.6" width="10.42" height="2.1" fill="#333333" stroke="#4d4d4d" stroke-width="1.4"/><rect x="1769.4" y="1311.1" width="10.42" height="2.6" fill="#cccccc" stroke="#4d4d4d" stroke-width="1.4"/><rect x="1769.4" y="1312.4" width="10.42" height="1.3" fill="#333333" stroke="#4d4d4d" stroke-width="1.4"/><rect x="1779.8" y="1312.2" width="10.42" height="1.5" fill="#cccccc" stroke="#4d4d4d" stroke-width="1.4"/><rect x="1779.8" y="1312.9" width="10.42" height="0.8" fill="#333333" stroke="#4d4d4d" stroke-width="1.4"/><rect x="1790.2" y="1312.2" width="10.42" height="1.5" fill="#cccccc" stroke="#4d4d4d" stroke-width="1.4"/><rect x="1790.2" y="1312.9" width="10.42" height="0.8" fill="#333333" stroke="#4d4d4d" stroke-width="1.4"/><rect x="1800.6" y="1312.2" width="10.42" height="1.5" fill="#cccccc" stroke="#4d4d4d" stroke-width="1.4"/><rect x="1800.6" y="1312.9" width="10.42" height="0.8" fill="#333333" stroke="#4d4d4d" stroke-width="1.4"/><rect x="1811.1" y="1312.2" width="10.42" height="1.5" fill="#cccccc" stroke="#4d4d4d" stroke-width="1.4"/><rect x="1811.1" y="1312.9" width="10.42" height="0.8" fill="#333333" stroke="#4d4d4d" stroke-width="1.4"/><rect x="1821.5" y="1312.2" width="10.42" height="1.5" fill="#cccccc" stroke="#4d4d4d" stroke-width="1.4"/><rect x="1821.5" y="1312.9" width="10.42" height="0.8" fill="#333333" stroke="#4d4d4d" stroke-width="1.4"/><rect x="1831.9" y="1312.7" width="10.42" height="1.0" fill="#cccccc" stroke="#4d4d4d" stroke-width="1.4"/><rect x="1831.9" y="1313.2" width="10.42" height="0.5" fill="#333333" stroke="#4d4d4d" stroke-width="1.4"/><rect x="1842.3" y="1312.7" width="10.42" height="1.0" fill="#cccccc" stroke="#4d4d4d" stroke-width="1.4"/><rect x="1842.3" y="1313.2" width="10.42" height="0.5" fill="#333333" stroke="#4d4d4d" stroke-width="1.4"/><rect x="1852.7" y="1312.7" width="10.42" height="1.0" fill="#cccccc" stroke="#4d4d4d" stroke-width="1.4"/><rect x="1852.7" y="1313.2" width="10.42" height="0.5" fill="#333333" stroke="#4d4d4d" stroke-width="1.4"/><rect x="1863.2" y="1312.7" width="10.42" height="1.0" fill="#cccccc" stroke="#4d4d4d" stroke-width="1.4"/><rect x="1863.2" y="1313.2" width="10.42" height="0.5" fill="#333333" stroke="#4d4d4d" stroke-width="1.4"/><rect x="1873.6" y="1312.7" width="10.42" height="1.0" fill="#cccccc" stroke="#4d4d4d" stroke-width="1.4"/><rect x="1873.6" y="1313.2" width="10.42" height="0.5" fill="#333333" stroke="#4d4d4d" stroke-width="1.4"/>
<rect x="1666.0" y="1095.6" width="228.79999999999995" height="228.80000000000018" fill="none" stroke="#7f7f7f" stroke-width="1.5"/>
<text x="1784.4" y="1126.0" font-size="29.5" font-weight="normal" font-style="normal" fill="#000" text-anchor="middle" textLength="76.5" lengthAdjust="spacingAndGlyphs" >P2&#8211;5</text>
<line x1="1675.6" y1="1324.9" x2="1675.6" y2="1331.9" stroke="#333" stroke-width="1.8"/>
<line x1="1727.7" y1="1324.9" x2="1727.7" y2="1331.9" stroke="#333" stroke-width="1.8"/>
<line x1="1779.8" y1="1324.9" x2="1779.8" y2="1331.9" stroke="#333" stroke-width="1.8"/>
<line x1="1831.9" y1="1324.9" x2="1831.9" y2="1331.9" stroke="#333" stroke-width="1.8"/>
<line x1="1884.0" y1="1324.9" x2="1884.0" y2="1331.9" stroke="#333" stroke-width="1.8"/>
<text x="1675.6" y="1356.5" font-size="20.5" font-weight="normal" font-style="normal" fill="#000" text-anchor="middle" >0</text>
<text x="1727.7" y="1356.5" font-size="20.5" font-weight="normal" font-style="normal" fill="#000" text-anchor="middle" >1000</text>
<text x="1831.9" y="1356.5" font-size="20.5" font-weight="normal" font-style="normal" fill="#000" text-anchor="middle" >3000</text>
<rect x="1902.5" y="1095.6" width="229.5" height="228.80000000000018" fill="#fff"/>
<line x1="1938.1" y1="1095.6" x2="1938.1" y2="1324.4" stroke="#f4f4f4" stroke-width="1.1"/>
<line x1="1990.2" y1="1095.6" x2="1990.2" y2="1324.4" stroke="#f4f4f4" stroke-width="1.1"/>
<line x1="2042.3" y1="1095.6" x2="2042.3" y2="1324.4" stroke="#f4f4f4" stroke-width="1.1"/>
<line x1="2094.4" y1="1095.6" x2="2094.4" y2="1324.4" stroke="#f4f4f4" stroke-width="1.1"/>
<line x1="1902.5" y1="1287.9" x2="2132.0" y2="1287.9" stroke="#f4f4f4" stroke-width="1.1"/>
<line x1="1902.5" y1="1236.2" x2="2132.0" y2="1236.2" stroke="#f4f4f4" stroke-width="1.1"/>
<line x1="1902.5" y1="1184.6" x2="2132.0" y2="1184.6" stroke="#f4f4f4" stroke-width="1.1"/>
<line x1="1902.5" y1="1133.0" x2="2132.0" y2="1133.0" stroke="#f4f4f4" stroke-width="1.1"/>
<line x1="1912.1" y1="1095.6" x2="1912.1" y2="1324.4" stroke="#e6e6e6" stroke-width="1.3"/>
<line x1="1964.2" y1="1095.6" x2="1964.2" y2="1324.4" stroke="#e6e6e6" stroke-width="1.3"/>
<line x1="2016.3" y1="1095.6" x2="2016.3" y2="1324.4" stroke="#e6e6e6" stroke-width="1.3"/>
<line x1="2068.4" y1="1095.6" x2="2068.4" y2="1324.4" stroke="#e6e6e6" stroke-width="1.3"/>
<line x1="2120.5" y1="1095.6" x2="2120.5" y2="1324.4" stroke="#e6e6e6" stroke-width="1.3"/>
<line x1="1902.5" y1="1313.7" x2="2132.0" y2="1313.7" stroke="#e6e6e6" stroke-width="1.3"/>
<line x1="1902.5" y1="1262.1" x2="2132.0" y2="1262.1" stroke="#e6e6e6" stroke-width="1.3"/>
<line x1="1902.5" y1="1210.4" x2="2132.0" y2="1210.4" stroke="#e6e6e6" stroke-width="1.3"/>
<line x1="1902.5" y1="1158.8" x2="2132.0" y2="1158.8" stroke="#e6e6e6" stroke-width="1.3"/>
<line x1="1902.5" y1="1107.1" x2="2132.0" y2="1107.1" stroke="#e6e6e6" stroke-width="1.3"/>
<rect x="1912.1" y="1310.6" width="10.42" height="3.1" fill="#cccccc" stroke="#4d4d4d" stroke-width="1.4"/><rect x="1912.1" y="1312.2" width="10.42" height="1.5" fill="#333333" stroke="#4d4d4d" stroke-width="1.4"/><rect x="1922.5" y="1171.7" width="10.42" height="142.0" fill="#cccccc" stroke="#4d4d4d" stroke-width="1.4"/><rect x="1922.5" y="1242.7" width="10.42" height="71.0" fill="#333333" stroke="#4d4d4d" stroke-width="1.4"/><rect x="1932.9" y="1179.4" width="10.42" height="134.3" fill="#cccccc" stroke="#4d4d4d" stroke-width="1.4"/><rect x="1932.9" y="1246.6" width="10.42" height="67.1" fill="#333333" stroke="#4d4d4d" stroke-width="1.4"/><rect x="1943.4" y="1228.5" width="10.42" height="85.2" fill="#cccccc" stroke="#4d4d4d" stroke-width="1.4"/><rect x="1943.4" y="1271.1" width="10.42" height="42.6" fill="#333333" stroke="#4d4d4d" stroke-width="1.4"/><rect x="1953.8" y="1260.8" width="10.42" height="52.9" fill="#cccccc" stroke="#4d4d4d" stroke-width="1.4"/><rect x="1953.8" y="1287.9" width="10.42" height="25.8" fill="#333333" stroke="#4d4d4d" stroke-width="1.4"/><rect x="1964.2" y="1278.8" width="10.42" height="34.9" fill="#cccccc" stroke="#4d4d4d" stroke-width="1.4"/><rect x="1964.2" y="1296.9" width="10.42" height="16.8" fill="#333333" stroke="#4d4d4d" stroke-width="1.4"/><rect x="1974.6" y="1291.8" width="10.42" height="21.9" fill="#cccccc" stroke="#4d4d4d" stroke-width="1.4"/><rect x="1974.6" y="1302.1" width="10.42" height="11.6" fill="#333333" stroke="#4d4d4d" stroke-width="1.4"/><rect x="1985.0" y="1299.5" width="10.42" height="14.2" fill="#cccccc" stroke="#4d4d4d" stroke-width="1.4"/><rect x="1985.0" y="1307.2" width="10.42" height="6.5" fill="#333333" stroke="#4d4d4d" stroke-width="1.4"/><rect x="1995.5" y="1304.7" width="10.42" height="9.0" fill="#cccccc" stroke="#4d4d4d" stroke-width="1.4"/><rect x="1995.5" y="1309.1" width="10.42" height="4.6" fill="#333333" stroke="#4d4d4d" stroke-width="1.4"/><rect x="2005.9" y="1307.2" width="10.42" height="6.5" fill="#cccccc" stroke="#4d4d4d" stroke-width="1.4"/><rect x="2005.9" y="1310.6" width="10.42" height="3.1" fill="#333333" stroke="#4d4d4d" stroke-width="1.4"/><rect x="2016.3" y="1309.8" width="10.42" height="3.9" fill="#cccccc" stroke="#4d4d4d" stroke-width="1.4"/><rect x="2016.3" y="1311.6" width="10.42" height="2.1" fill="#333333" stroke="#4d4d4d" stroke-width="1.4"/><rect x="2026.7" y="1310.6" width="10.42" height="3.1" fill="#cccccc" stroke="#4d4d4d" stroke-width="1.4"/><rect x="2026.7" y="1312.2" width="10.42" height="1.5" fill="#333333" stroke="#4d4d4d" stroke-width="1.4"/><rect x="2037.1" y="1312.2" width="10.42" height="1.5" fill="#cccccc" stroke="#4d4d4d" stroke-width="1.4"/><rect x="2037.1" y="1312.9" width="10.42" height="0.8" fill="#333333" stroke="#4d4d4d" stroke-width="1.4"/><rect x="2047.6" y="1312.2" width="10.42" height="1.5" fill="#cccccc" stroke="#4d4d4d" stroke-width="1.4"/><rect x="2047.6" y="1312.9" width="10.42" height="0.8" fill="#333333" stroke="#4d4d4d" stroke-width="1.4"/><rect x="2058.0" y="1312.2" width="10.42" height="1.5" fill="#cccccc" stroke="#4d4d4d" stroke-width="1.4"/><rect x="2058.0" y="1312.9" width="10.42" height="0.8" fill="#333333" stroke="#4d4d4d" stroke-width="1.4"/><rect x="2068.4" y="1312.2" width="10.42" height="1.5" fill="#cccccc" stroke="#4d4d4d" stroke-width="1.4"/><rect x="2068.4" y="1312.9" width="10.42" height="0.8" fill="#333333" stroke="#4d4d4d" stroke-width="1.4"/><rect x="2078.8" y="1312.2" width="10.42" height="1.5" fill="#cccccc" stroke="#4d4d4d" stroke-width="1.4"/><rect x="2078.8" y="1312.9" width="10.42" height="0.8" fill="#333333" stroke="#4d4d4d" stroke-width="1.4"/><rect x="2089.2" y="1312.2" width="10.42" height="1.5" fill="#cccccc" stroke="#4d4d4d" stroke-width="1.4"/><rect x="2089.2" y="1312.9" width="10.42" height="0.8" fill="#333333" stroke="#4d4d4d" stroke-width="1.4"/><rect x="2099.7" y="1312.2" width="10.42" height="1.5" fill="#cccccc" stroke="#4d4d4d" stroke-width="1.4"/><rect x="2099.7" y="1312.9" width="10.42" height="0.8" fill="#333333" stroke="#4d4d4d" stroke-width="1.4"/><rect x="2110.1" y="1312.2" width="10.42" height="1.5" fill="#cccccc" stroke="#4d4d4d" stroke-width="1.4"/><rect x="2110.1" y="1312.9" width="10.42" height="0.8" fill="#333333" stroke="#4d4d4d" stroke-width="1.4"/>
<rect x="1902.5" y="1095.6" width="229.5" height="228.80000000000018" fill="none" stroke="#7f7f7f" stroke-width="1.5"/>
<text x="2021.2" y="1126.0" font-size="29.5" font-weight="normal" font-style="normal" fill="#000" text-anchor="middle" textLength="76.5" lengthAdjust="spacingAndGlyphs" >P8&#8211;9</text>
<line x1="1912.1" y1="1324.9" x2="1912.1" y2="1331.9" stroke="#333" stroke-width="1.8"/>
<line x1="1964.2" y1="1324.9" x2="1964.2" y2="1331.9" stroke="#333" stroke-width="1.8"/>
<line x1="2016.3" y1="1324.9" x2="2016.3" y2="1331.9" stroke="#333" stroke-width="1.8"/>
<line x1="2068.4" y1="1324.9" x2="2068.4" y2="1331.9" stroke="#333" stroke-width="1.8"/>
<line x1="2120.5" y1="1324.9" x2="2120.5" y2="1331.9" stroke="#333" stroke-width="1.8"/>
<text x="1912.1" y="1356.5" font-size="20.5" font-weight="normal" font-style="normal" fill="#000" text-anchor="middle" >0</text>
<text x="1964.2" y="1356.5" font-size="20.5" font-weight="normal" font-style="normal" fill="#000" text-anchor="middle" >1000</text>
<text x="2068.4" y="1356.5" font-size="20.5" font-weight="normal" font-style="normal" fill="#000" text-anchor="middle" >3000</text>
<rect x="2139.3" y="1095.6" width="229.5" height="228.80000000000018" fill="#fff"/>
<line x1="2175.0" y1="1095.6" x2="2175.0" y2="1324.4" stroke="#f4f4f4" stroke-width="1.1"/>
<line x1="2227.1" y1="1095.6" x2="2227.1" y2="1324.4" stroke="#f4f4f4" stroke-width="1.1"/>
<line x1="2279.2" y1="1095.6" x2="2279.2" y2="1324.4" stroke="#f4f4f4" stroke-width="1.1"/>
<line x1="2331.2" y1="1095.6" x2="2331.2" y2="1324.4" stroke="#f4f4f4" stroke-width="1.1"/>
<line x1="2139.3" y1="1287.9" x2="2368.8" y2="1287.9" stroke="#f4f4f4" stroke-width="1.1"/>
<line x1="2139.3" y1="1236.2" x2="2368.8" y2="1236.2" stroke="#f4f4f4" stroke-width="1.1"/>
<line x1="2139.3" y1="1184.6" x2="2368.8" y2="1184.6" stroke="#f4f4f4" stroke-width="1.1"/>
<line x1="2139.3" y1="1133.0" x2="2368.8" y2="1133.0" stroke="#f4f4f4" stroke-width="1.1"/>
<line x1="2148.9" y1="1095.6" x2="2148.9" y2="1324.4" stroke="#e6e6e6" stroke-width="1.3"/>
<line x1="2201.0" y1="1095.6" x2="2201.0" y2="1324.4" stroke="#e6e6e6" stroke-width="1.3"/>
<line x1="2253.1" y1="1095.6" x2="2253.1" y2="1324.4" stroke="#e6e6e6" stroke-width="1.3"/>
<line x1="2305.2" y1="1095.6" x2="2305.2" y2="1324.4" stroke="#e6e6e6" stroke-width="1.3"/>
<line x1="2357.3" y1="1095.6" x2="2357.3" y2="1324.4" stroke="#e6e6e6" stroke-width="1.3"/>
<line x1="2139.3" y1="1313.7" x2="2368.8" y2="1313.7" stroke="#e6e6e6" stroke-width="1.3"/>
<line x1="2139.3" y1="1262.1" x2="2368.8" y2="1262.1" stroke="#e6e6e6" stroke-width="1.3"/>
<line x1="2139.3" y1="1210.4" x2="2368.8" y2="1210.4" stroke="#e6e6e6" stroke-width="1.3"/>
<line x1="2139.3" y1="1158.8" x2="2368.8" y2="1158.8" stroke="#e6e6e6" stroke-width="1.3"/>
<line x1="2139.3" y1="1107.1" x2="2368.8" y2="1107.1" stroke="#e6e6e6" stroke-width="1.3"/>
<rect x="2148.9" y="1310.6" width="10.42" height="3.1" fill="#cccccc" stroke="#4d4d4d" stroke-width="1.4"/><rect x="2148.9" y="1312.2" width="10.42" height="1.5" fill="#333333" stroke="#4d4d4d" stroke-width="1.4"/><rect x="2159.3" y="1303.4" width="10.42" height="10.3" fill="#cccccc" stroke="#4d4d4d" stroke-width="1.4"/><rect x="2159.3" y="1308.5" width="10.42" height="5.2" fill="#333333" stroke="#4d4d4d" stroke-width="1.4"/><rect x="2169.7" y="1256.9" width="10.42" height="56.8" fill="#cccccc" stroke="#4d4d4d" stroke-width="1.4"/><rect x="2169.7" y="1286.6" width="10.42" height="27.1" fill="#333333" stroke="#4d4d4d" stroke-width="1.4"/><rect x="2180.2" y="1218.2" width="10.42" height="95.5" fill="#cccccc" stroke="#4d4d4d" stroke-width="1.4"/><rect x="2180.2" y="1267.2" width="10.42" height="46.5" fill="#333333" stroke="#4d4d4d" stroke-width="1.4"/><rect x="2190.6" y="1225.9" width="10.42" height="87.8" fill="#cccccc" stroke="#4d4d4d" stroke-width="1.4"/><rect x="2190.6" y="1271.1" width="10.42" height="42.6" fill="#333333" stroke="#4d4d4d" stroke-width="1.4"/><rect x="2201.0" y="1245.3" width="10.42" height="68.4" fill="#cccccc" stroke="#4d4d4d" stroke-width="1.4"/><rect x="2201.0" y="1280.1" width="10.42" height="33.6" fill="#333333" stroke="#4d4d4d" stroke-width="1.4"/><rect x="2211.4" y="1263.4" width="10.42" height="50.3" fill="#cccccc" stroke="#4d4d4d" stroke-width="1.4"/><rect x="2211.4" y="1287.9" width="10.42" height="25.8" fill="#333333" stroke="#4d4d4d" stroke-width="1.4"/><rect x="2221.8" y="1276.3" width="10.42" height="37.4" fill="#cccccc" stroke="#4d4d4d" stroke-width="1.4"/><rect x="2221.8" y="1295.6" width="10.42" height="18.1" fill="#333333" stroke="#4d4d4d" stroke-width="1.4"/><rect x="2232.3" y="1287.9" width="10.42" height="25.8" fill="#cccccc" stroke="#4d4d4d" stroke-width="1.4"/><rect x="2232.3" y="1300.8" width="10.42" height="12.9" fill="#333333" stroke="#4d4d4d" stroke-width="1.4"/><rect x="2242.7" y="1293.0" width="10.42" height="20.7" fill="#cccccc" stroke="#4d4d4d" stroke-width="1.4"/><rect x="2242.7" y="1303.4" width="10.42" height="10.3" fill="#333333" stroke="#4d4d4d" stroke-width="1.4"/><rect x="2253.1" y="1296.9" width="10.42" height="16.8" fill="#cccccc" stroke="#4d4d4d" stroke-width="1.4"/><rect x="2253.1" y="1306.0" width="10.42" height="7.7" fill="#333333" stroke="#4d4d4d" stroke-width="1.4"/><rect x="2263.5" y="1302.1" width="10.42" height="11.6" fill="#cccccc" stroke="#4d4d4d" stroke-width="1.4"/><rect x="2263.5" y="1308.0" width="10.42" height="5.7" fill="#333333" stroke="#4d4d4d" stroke-width="1.4"/><rect x="2273.9" y="1304.7" width="10.42" height="9.0" fill="#cccccc" stroke="#4d4d4d" stroke-width="1.4"/><rect x="2273.9" y="1309.3" width="10.42" height="4.4" fill="#333333" stroke="#4d4d4d" stroke-width="1.4"/><rect x="2284.4" y="1306.5" width="10.42" height="7.2" fill="#cccccc" stroke="#4d4d4d" stroke-width="1.4"/><rect x="2284.4" y="1310.1" width="10.42" height="3.6" fill="#333333" stroke="#4d4d4d" stroke-width="1.4"/><rect x="2294.8" y="1308.0" width="10.42" height="5.7" fill="#cccccc" stroke="#4d4d4d" stroke-width="1.4"/><rect x="2294.8" y="1310.9" width="10.42" height="2.8" fill="#333333" stroke="#4d4d4d" stroke-width="1.4"/><rect x="2305.2" y="1309.1" width="10.42" height="4.6" fill="#cccccc" stroke="#4d4d4d" stroke-width="1.4"/><rect x="2305.2" y="1311.4" width="10.42" height="2.3" fill="#333333" stroke="#4d4d4d" stroke-width="1.4"/><rect x="2315.6" y="1310.1" width="10.42" height="3.6" fill="#cccccc" stroke="#4d4d4d" stroke-width="1.4"/><rect x="2315.6" y="1311.9" width="10.42" height="1.8" fill="#333333" stroke="#4d4d4d" stroke-width="1.4"/><rect x="2326.0" y="1310.6" width="10.42" height="3.1" fill="#cccccc" stroke="#4d4d4d" stroke-width="1.4"/><rect x="2326.0" y="1312.2" width="10.42" height="1.5" fill="#333333" stroke="#4d4d4d" stroke-width="1.4"/><rect x="2336.5" y="1311.1" width="10.42" height="2.6" fill="#cccccc" stroke="#4d4d4d" stroke-width="1.4"/><rect x="2336.5" y="1312.4" width="10.42" height="1.3" fill="#333333" stroke="#4d4d4d" stroke-width="1.4"/><rect x="2346.9" y="1311.6" width="10.42" height="2.1" fill="#cccccc" stroke="#4d4d4d" stroke-width="1.4"/><rect x="2346.9" y="1312.7" width="10.42" height="1.0" fill="#333333" stroke="#4d4d4d" stroke-width="1.4"/>
<rect x="2139.3" y="1095.6" width="229.5" height="228.80000000000018" fill="none" stroke="#7f7f7f" stroke-width="1.5"/>
<text x="2258.1" y="1126.0" font-size="29.5" font-weight="normal" font-style="normal" fill="#000" text-anchor="middle" textLength="114.8" lengthAdjust="spacingAndGlyphs" >P12&#8211;13</text>
<line x1="2148.9" y1="1324.9" x2="2148.9" y2="1331.9" stroke="#333" stroke-width="1.8"/>
<line x1="2201.0" y1="1324.9" x2="2201.0" y2="1331.9" stroke="#333" stroke-width="1.8"/>
<line x1="2253.1" y1="1324.9" x2="2253.1" y2="1331.9" stroke="#333" stroke-width="1.8"/>
<line x1="2305.2" y1="1324.9" x2="2305.2" y2="1331.9" stroke="#333" stroke-width="1.8"/>
<line x1="2357.3" y1="1324.9" x2="2357.3" y2="1331.9" stroke="#333" stroke-width="1.8"/>
<text x="2148.9" y="1356.5" font-size="20.5" font-weight="normal" font-style="normal" fill="#000" text-anchor="middle" >0</text>
<text x="2201.0" y="1356.5" font-size="20.5" font-weight="normal" font-style="normal" fill="#000" text-anchor="middle" >1000</text>
<text x="2305.2" y="1356.5" font-size="20.5" font-weight="normal" font-style="normal" fill="#000" text-anchor="middle" >3000</text>
<line x1="1657.5" y1="1313.7" x2="1665.6" y2="1313.7" stroke="#333" stroke-width="1.8"/>
<text x="1650.0" y="1321.0" font-size="20.5" font-weight="normal" font-style="normal" fill="#000" text-anchor="end" >0.0</text>
<line x1="1657.5" y1="1262.1" x2="1665.6" y2="1262.1" stroke="#333" stroke-width="1.8"/>
<text x="1650.0" y="1269.4" font-size="20.5" font-weight="normal" font-style="normal" fill="#000" text-anchor="end" >0.2</text>
<line x1="1657.5" y1="1210.4" x2="1665.6" y2="1210.4" stroke="#333" stroke-width="1.8"/>
<text x="1650.0" y="1217.7" font-size="20.5" font-weight="normal" font-style="normal" fill="#000" text-anchor="end" >0.4</text>
<line x1="1657.5" y1="1158.8" x2="1665.6" y2="1158.8" stroke="#333" stroke-width="1.8"/>
<text x="1650.0" y="1166.1" font-size="20.5" font-weight="normal" font-style="normal" fill="#000" text-anchor="end" >0.6</text>
<line x1="1657.5" y1="1107.1" x2="1665.6" y2="1107.1" stroke="#333" stroke-width="1.8"/>
<text x="1650.0" y="1114.4" font-size="20.5" font-weight="normal" font-style="normal" fill="#000" text-anchor="end" >0.8</text>
<text x="0" y="0" font-size="26" fill="#000" text-anchor="middle" transform="translate(1611,1222) rotate(-90)" textLength="224" lengthAdjust="spacingAndGlyphs">Normalized density</text>
<text x="2025.7" y="1399.8" font-size="30" fill="#000" text-anchor="middle" textLength="210" lengthAdjust="spacingAndGlyphs">Diameter (<tspan font-style="italic">&#956;</tspan>m)</text>
<rect x="2296" y="1148.4" width="19.3" height="18.8" fill="#333" stroke="#4d4d4d" stroke-width="1.2"/><rect x="2296" y="1167.2" width="19.3" height="18.3" fill="#ccc" stroke="#4d4d4d" stroke-width="1.2"/>
<text x="2326.0" y="1165.0" font-size="20.5" font-weight="normal" font-style="normal" fill="#000" text-anchor="start" >L</text>
<text x="2326.0" y="1189.0" font-size="20.5" font-weight="normal" font-style="normal" fill="#000" text-anchor="start" >R</text>
<rect x="1673.7" y="1517.0" width="227.5999999999999" height="362.29999999999995" fill="#fff"/>
<line x1="1673.7" y1="1832.2" x2="1901.3" y2="1832.2" stroke="#f4f4f4" stroke-width="1.1"/>
<line x1="1673.7" y1="1757.1" x2="1901.3" y2="1757.1" stroke="#f4f4f4" stroke-width="1.1"/>
<line x1="1673.7" y1="1682.0" x2="1901.3" y2="1682.0" stroke="#f4f4f4" stroke-width="1.1"/>
<line x1="1673.7" y1="1606.9" x2="1901.3" y2="1606.9" stroke="#f4f4f4" stroke-width="1.1"/>
<line x1="1673.7" y1="1531.8" x2="1901.3" y2="1531.8" stroke="#f4f4f4" stroke-width="1.1"/>
<line x1="1735.8" y1="1517.0" x2="1735.8" y2="1879.3" stroke="#e6e6e6" stroke-width="1.3"/>
<line x1="1839.2" y1="1517.0" x2="1839.2" y2="1879.3" stroke="#e6e6e6" stroke-width="1.3"/>
<line x1="1673.7" y1="1869.8" x2="1901.3" y2="1869.8" stroke="#e6e6e6" stroke-width="1.3"/>
<line x1="1673.7" y1="1794.7" x2="1901.3" y2="1794.7" stroke="#e6e6e6" stroke-width="1.3"/>
<line x1="1673.7" y1="1719.6" x2="1901.3" y2="1719.6" stroke="#e6e6e6" stroke-width="1.3"/>
<line x1="1673.7" y1="1644.5" x2="1901.3" y2="1644.5" stroke="#e6e6e6" stroke-width="1.3"/>
<line x1="1673.7" y1="1569.4" x2="1901.3" y2="1569.4" stroke="#e6e6e6" stroke-width="1.3"/>
<line x1="1735.8" y1="1824.7" x2="1735.8" y2="1836.8" stroke="#333" stroke-width="1.8"/>
<line x1="1735.8" y1="1848.8" x2="1735.8" y2="1862.3" stroke="#333" stroke-width="1.8"/>
<rect x="1696.5" y="1836.8" width="78.5" height="12.0" fill="#fff" stroke="#333" stroke-width="1.8"/>
<line x1="1696.5" y1="1845.0" x2="1775.0" y2="1845.0" stroke="#333" stroke-width="1.8"/>
<circle cx="1735.8" cy="1819.5" r="2" fill="#000"/>
<line x1="1839.2" y1="1821.0" x2="1839.2" y2="1836.0" stroke="#333" stroke-width="1.8"/>
<line x1="1839.2" y1="1849.5" x2="1839.2" y2="1862.3" stroke="#333" stroke-width="1.8"/>
<rect x="1800.0" y="1836.0" width="78.5" height="13.5" fill="#fff" stroke="#333" stroke-width="1.8"/>
<line x1="1800.0" y1="1847.3" x2="1878.5" y2="1847.3" stroke="#333" stroke-width="1.8"/>
<circle cx="1839.2" cy="1809.7" r="2" fill="#000"/>
<rect x="1673.7" y="1517.0" width="227.5999999999999" height="362.29999999999995" fill="none" stroke="#7f7f7f" stroke-width="1.5"/>
<text x="1787.5" y="1513.2" font-size="29.5" font-weight="normal" font-style="normal" fill="#000" text-anchor="middle" textLength="76.5" lengthAdjust="spacingAndGlyphs" >P2&#8211;5</text>
<line x1="1735.8" y1="1879.8" x2="1735.8" y2="1886.8" stroke="#333" stroke-width="1.8"/>
<text x="1735.8" y="1907.5" font-size="22.5" font-weight="normal" font-style="normal" fill="#000" text-anchor="middle" >L</text>
<line x1="1839.2" y1="1879.8" x2="1839.2" y2="1886.8" stroke="#333" stroke-width="1.8"/>
<text x="1839.2" y="1907.5" font-size="22.5" font-weight="normal" font-style="normal" fill="#000" text-anchor="middle" >R</text>
<rect x="1904.4" y="1517.0" width="228.4000000000001" height="362.29999999999995" fill="#fff"/>
<line x1="1904.4" y1="1832.2" x2="2132.8" y2="1832.2" stroke="#f4f4f4" stroke-width="1.1"/>
<line x1="1904.4" y1="1757.1" x2="2132.8" y2="1757.1" stroke="#f4f4f4" stroke-width="1.1"/>
<line x1="1904.4" y1="1682.0" x2="2132.8" y2="1682.0" stroke="#f4f4f4" stroke-width="1.1"/>
<line x1="1904.4" y1="1606.9" x2="2132.8" y2="1606.9" stroke="#f4f4f4" stroke-width="1.1"/>
<line x1="1904.4" y1="1531.8" x2="2132.8" y2="1531.8" stroke="#f4f4f4" stroke-width="1.1"/>
<line x1="1966.7" y1="1517.0" x2="1966.7" y2="1879.3" stroke="#e6e6e6" stroke-width="1.3"/>
<line x1="2070.5" y1="1517.0" x2="2070.5" y2="1879.3" stroke="#e6e6e6" stroke-width="1.3"/>
<line x1="1904.4" y1="1869.8" x2="2132.8" y2="1869.8" stroke="#e6e6e6" stroke-width="1.3"/>
<line x1="1904.4" y1="1794.7" x2="2132.8" y2="1794.7" stroke="#e6e6e6" stroke-width="1.3"/>
<line x1="1904.4" y1="1719.6" x2="2132.8" y2="1719.6" stroke="#e6e6e6" stroke-width="1.3"/>
<line x1="1904.4" y1="1644.5" x2="2132.8" y2="1644.5" stroke="#e6e6e6" stroke-width="1.3"/>
<line x1="1904.4" y1="1569.4" x2="2132.8" y2="1569.4" stroke="#e6e6e6" stroke-width="1.3"/>
<line x1="1966.7" y1="1717.3" x2="1966.7" y2="1775.9" stroke="#333" stroke-width="1.8"/>
<line x1="1966.7" y1="1830.0" x2="1966.7" y2="1852.5" stroke="#333" stroke-width="1.8"/>
<rect x="1927.4" y="1775.9" width="78.5" height="54.1" fill="#fff" stroke="#333" stroke-width="1.8"/>
<line x1="1927.4" y1="1794.7" x2="2005.9" y2="1794.7" stroke="#333" stroke-width="1.8"/>
<circle cx="1966.7" cy="1653.5" r="2" fill="#000"/>
<circle cx="1966.7" cy="1593.4" r="2" fill="#000"/>
<circle cx="1966.7" cy="1549.1" r="2" fill="#000"/>
<line x1="2070.5" y1="1760.2" x2="2070.5" y2="1782.7" stroke="#333" stroke-width="1.8"/>
<line x1="2070.5" y1="1827.7" x2="2070.5" y2="1848.8" stroke="#333" stroke-width="1.8"/>
<rect x="2031.3" y="1782.7" width="78.5" height="45.1" fill="#fff" stroke="#333" stroke-width="1.8"/>
<line x1="2031.3" y1="1803.7" x2="2109.8" y2="1803.7" stroke="#333" stroke-width="1.8"/>
<circle cx="2070.5" cy="1706.1" r="2" fill="#000"/>
<circle cx="2070.5" cy="1668.5" r="2" fill="#000"/>
<circle cx="2070.5" cy="1606.9" r="2" fill="#000"/>
<circle cx="2070.5" cy="1534.1" r="2" fill="#000"/>
<rect x="1904.4" y="1517.0" width="228.4000000000001" height="362.29999999999995" fill="none" stroke="#7f7f7f" stroke-width="1.5"/>
<text x="2018.6" y="1513.2" font-size="29.5" font-weight="normal" font-style="normal" fill="#000" text-anchor="middle" textLength="78.4" lengthAdjust="spacingAndGlyphs" >P8&#8211;9</text>
<line x1="1966.7" y1="1879.8" x2="1966.7" y2="1886.8" stroke="#333" stroke-width="1.8"/>
<text x="1966.7" y="1907.5" font-size="22.5" font-weight="normal" font-style="normal" fill="#000" text-anchor="middle" >L</text>
<line x1="2070.5" y1="1879.8" x2="2070.5" y2="1886.8" stroke="#333" stroke-width="1.8"/>
<text x="2070.5" y="1907.5" font-size="22.5" font-weight="normal" font-style="normal" fill="#000" text-anchor="middle" >R</text>
<rect x="2135.5" y="1517.0" width="228.0" height="362.29999999999995" fill="#fff"/>
<line x1="2135.5" y1="1832.2" x2="2363.5" y2="1832.2" stroke="#f4f4f4" stroke-width="1.1"/>
<line x1="2135.5" y1="1757.1" x2="2363.5" y2="1757.1" stroke="#f4f4f4" stroke-width="1.1"/>
<line x1="2135.5" y1="1682.0" x2="2363.5" y2="1682.0" stroke="#f4f4f4" stroke-width="1.1"/>
<line x1="2135.5" y1="1606.9" x2="2363.5" y2="1606.9" stroke="#f4f4f4" stroke-width="1.1"/>
<line x1="2135.5" y1="1531.8" x2="2363.5" y2="1531.8" stroke="#f4f4f4" stroke-width="1.1"/>
<line x1="2197.7" y1="1517.0" x2="2197.7" y2="1879.3" stroke="#e6e6e6" stroke-width="1.3"/>
<line x1="2301.3" y1="1517.0" x2="2301.3" y2="1879.3" stroke="#e6e6e6" stroke-width="1.3"/>
<line x1="2135.5" y1="1869.8" x2="2363.5" y2="1869.8" stroke="#e6e6e6" stroke-width="1.3"/>
<line x1="2135.5" y1="1794.7" x2="2363.5" y2="1794.7" stroke="#e6e6e6" stroke-width="1.3"/>
<line x1="2135.5" y1="1719.6" x2="2363.5" y2="1719.6" stroke="#e6e6e6" stroke-width="1.3"/>
<line x1="2135.5" y1="1644.5" x2="2363.5" y2="1644.5" stroke="#e6e6e6" stroke-width="1.3"/>
<line x1="2135.5" y1="1569.4" x2="2363.5" y2="1569.4" stroke="#e6e6e6" stroke-width="1.3"/>
<line x1="2197.7" y1="1607.7" x2="2197.7" y2="1718.1" stroke="#333" stroke-width="1.8"/>
<line x1="2197.7" y1="1818.7" x2="2197.7" y2="1853.3" stroke="#333" stroke-width="1.8"/>
<rect x="2158.4" y="1718.1" width="78.5" height="100.6" fill="#fff" stroke="#333" stroke-width="1.8"/>
<line x1="2158.4" y1="1759.4" x2="2236.9" y2="1759.4" stroke="#333" stroke-width="1.8"/>
<line x1="2301.3" y1="1591.9" x2="2301.3" y2="1723.4" stroke="#333" stroke-width="1.8"/>
<line x1="2301.3" y1="1815.0" x2="2301.3" y2="1839.8" stroke="#333" stroke-width="1.8"/>
<rect x="2262.1" y="1723.4" width="78.5" height="91.6" fill="#fff" stroke="#333" stroke-width="1.8"/>
<line x1="2262.1" y1="1755.6" x2="2340.6" y2="1755.6" stroke="#333" stroke-width="1.8"/>
<circle cx="2301.3" cy="1585.2" r="2" fill="#000"/>
<rect x="2135.5" y="1517.0" width="228.0" height="362.29999999999995" fill="none" stroke="#7f7f7f" stroke-width="1.5"/>
<text x="2249.5" y="1513.2" font-size="29.5" font-weight="normal" font-style="normal" fill="#000" text-anchor="middle" textLength="114.8" lengthAdjust="spacingAndGlyphs" >P12&#8211;13</text>
<line x1="2197.7" y1="1879.8" x2="2197.7" y2="1886.8" stroke="#333" stroke-width="1.8"/>
<text x="2197.7" y="1907.5" font-size="22.5" font-weight="normal" font-style="normal" fill="#000" text-anchor="middle" >L</text>
<line x1="2301.3" y1="1879.8" x2="2301.3" y2="1886.8" stroke="#333" stroke-width="1.8"/>
<text x="2301.3" y="1907.5" font-size="22.5" font-weight="normal" font-style="normal" fill="#000" text-anchor="middle" >R</text>
<line x1="1665.5" y1="1869.8" x2="1673.5" y2="1869.8" stroke="#333" stroke-width="1.8"/>
<text x="1646.0" y="1878.2" font-size="23.5" font-weight="normal" font-style="normal" fill="#000" text-anchor="end" >0</text>
<line x1="1665.5" y1="1794.7" x2="1673.5" y2="1794.7" stroke="#333" stroke-width="1.8"/>
<text x="1664.0" y="1803.1" font-size="23.5" font-weight="normal" font-style="normal" fill="#000" text-anchor="end" >100</text>
<line x1="1665.5" y1="1719.6" x2="1673.5" y2="1719.6" stroke="#333" stroke-width="1.8"/>
<text x="1664.0" y="1728.0" font-size="23.5" font-weight="normal" font-style="normal" fill="#000" text-anchor="end" >200</text>
<line x1="1665.5" y1="1644.5" x2="1673.5" y2="1644.5" stroke="#333" stroke-width="1.8"/>
<text x="1664.0" y="1652.9" font-size="23.5" font-weight="normal" font-style="normal" fill="#000" text-anchor="end" >300</text>
<line x1="1665.5" y1="1569.4" x2="1673.5" y2="1569.4" stroke="#333" stroke-width="1.8"/>
<text x="1664.0" y="1577.8" font-size="23.5" font-weight="normal" font-style="normal" fill="#000" text-anchor="end" >400</text>
<text x="0" y="0" font-size="25.5" fill="#000" text-anchor="middle" transform="translate(1616,1716.4) rotate(-90)">Domain freq (min<tspan font-size="14" dy="-9">-1</tspan><tspan dy="9">)</tspan></text>
</svg>
</body></html>
